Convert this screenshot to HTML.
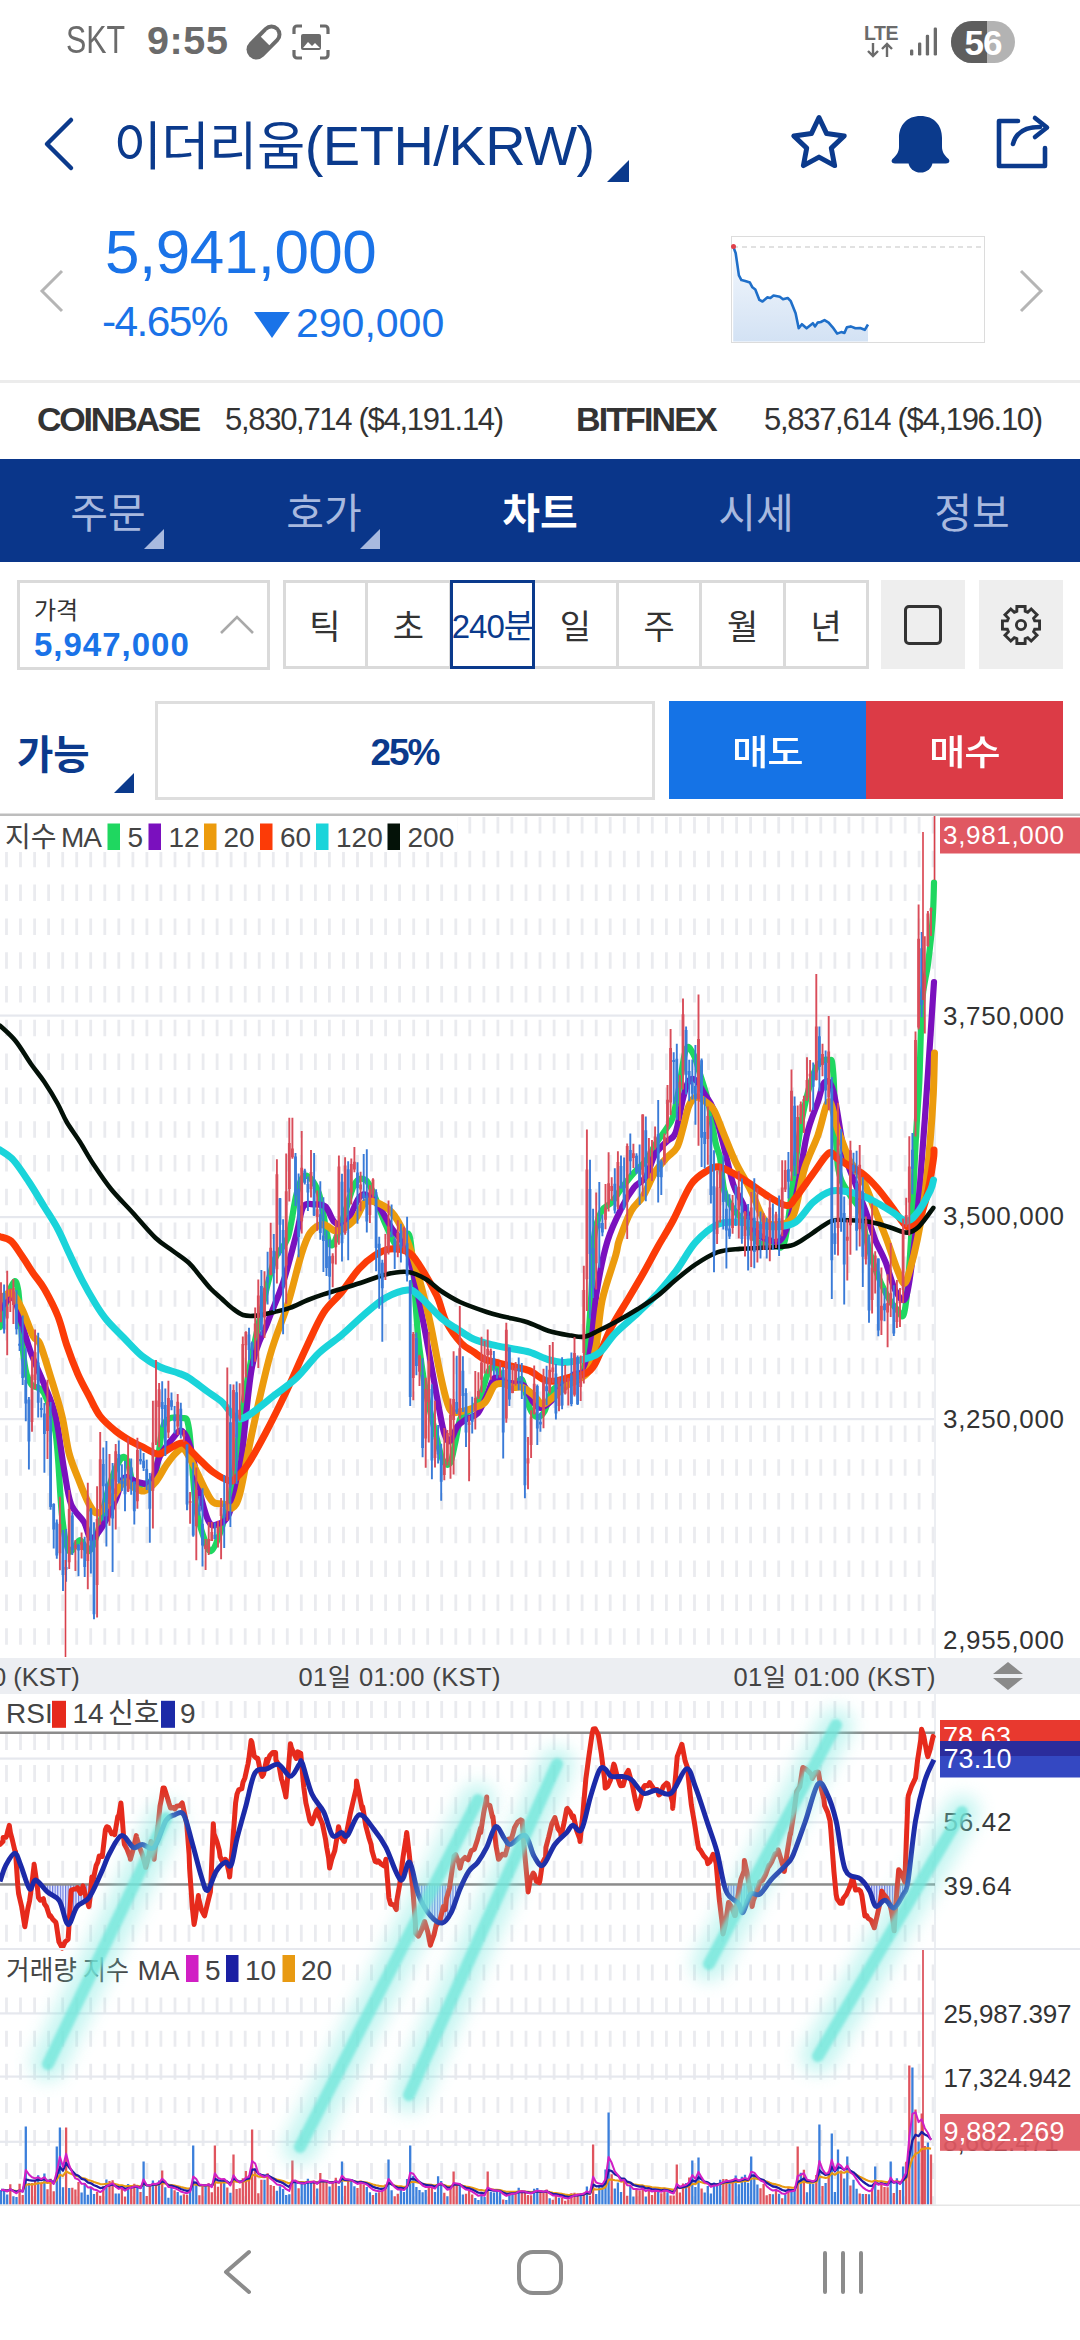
<!DOCTYPE html>
<html><head><meta charset="utf-8">
<style>
*{margin:0;padding:0;box-sizing:border-box}
html,body{width:1080px;height:2340px;overflow:hidden;background:#fff}
body{position:relative;font-family:"Liberation Sans", "Noto Sans CJK KR", sans-serif;}
.a{position:absolute;white-space:nowrap}
</style></head><body>
<!-- status bar -->
<div class="a" style="left:66px;top:17px;font-size:38px;line-height:46px;color:#6b6b6b;transform:scaleX(0.8);transform-origin:0 0">SKT</div><div class="a" style="left:147px;top:17px;font-size:39.5px;line-height:46px;color:#6b6b6b;letter-spacing:0.6px;font-weight:700">9:55</div>
<svg class="a" style="left:243.5px;top:21.5px" width="40" height="40" viewBox="0 0 40 40"><g transform="rotate(-45 20 20)"><rect x="-0.6" y="10" width="41.2" height="20" rx="10" fill="#6b6b6b"/><path d="M21.5 14H30.6A6 6 0 0 1 30.6 26H21.5Z" fill="#fff"/></g></svg>
<svg class="a" style="left:291px;top:23px" width="40" height="38" viewBox="0 0 40 38" fill="none" stroke="#6b6b6b" stroke-width="3.2">
 <path d="M3 11V6a3 3 0 0 1 3-3h5M29 3h5a3 3 0 0 1 3 3v5M37 27v5a3 3 0 0 1-3 3h-5M11 35H6a3 3 0 0 1-3-3v-5"/>
 <rect x="10" y="11" width="20" height="16" rx="2" fill="#6b6b6b" stroke="none"/>
 <path d="M12 25l5-6 4 4 3-3 5 5z" fill="#fff" stroke="none"/>
</svg>
<!-- right status -->
<div class="a" style="left:864px;top:23px;font-size:19.5px;font-weight:700;color:#6b6b6b;line-height:20px;letter-spacing:-0.5px">LTE</div>
<svg class="a" style="left:866px;top:42px" width="32" height="16" viewBox="0 0 32 16" fill="none" stroke="#6b6b6b" stroke-width="2.4"><path d="M7 1v13M2 9l5 5 5-5M21 15V2M16 7l5-5 5 5"/></svg>
<svg class="a" style="left:908px;top:26px" width="32" height="32" viewBox="0 0 32 32" fill="#6b6b6b"><rect x="2" y="23.5" width="3.3" height="6" rx="1.2"/><rect x="10" y="16.5" width="3.3" height="13" rx="1.2"/><rect x="17.8" y="8.7" width="3.3" height="20.8" rx="1.2"/><rect x="25.7" y="1.5" width="3.3" height="28" rx="1.2"/></svg>
<div class="a" style="left:951px;top:21px;width:64px;height:42px;border-radius:21px;overflow:hidden;background:#b3b3b3"><div style="position:absolute;left:0;top:0;width:36px;height:42px;background:#5e5e5e"></div><div style="position:absolute;left:0;top:0;width:64px;text-align:center;font-size:35px;font-weight:700;color:#fff;line-height:43px;letter-spacing:-1px">56</div></div>

<!-- header -->
<svg class="a" style="left:40px;top:114px" width="40" height="60" viewBox="0 0 40 60" fill="none" stroke="#0b3a8c" stroke-width="4.5" stroke-linecap="round" stroke-linejoin="round"><path d="M31 6L7 30l24 24"/></svg>
<div class="a" style="left:113.5px;top:108px;font-size:56px;color:#0b3a8c;letter-spacing:-0.5px;line-height:76px"><span style="font-size:52.5px">이더리움</span>(ETH/KRW)</div>
<svg class="a" style="left:607px;top:160px" width="22" height="22" viewBox="0 0 22 22"><path d="M22 0V22H0z" fill="#0b3a8c"/></svg>
<svg class="a" style="left:789px;top:114px" width="60" height="58" viewBox="0 0 60 58" fill="none" stroke="#0b3a8c" stroke-width="5" stroke-linejoin="round"><path d="M30 3.5l7.6 16.1 17.6 2.3-12.9 12.2 3.3 17.5L30 43.1l-15.6 8.5 3.3-17.5L4.8 21.9l17.6-2.3z"/></svg>
<svg class="a" style="left:890px;top:114px" width="62" height="60" viewBox="0 0 62 60" fill="#0b3a8c"><path d="M30.5 2C17 2 9 11 9 24V33C9 38 6 42 3 44.5C.5 46.5 1.5 49.5 5 49.5H56C59.5 49.5 60.5 46.5 58 44.5C55 42 52 38 52 33V24C52 11 44 2 30.5 2Z"/><path d="M18.5 48A12 10.5 0 0 0 42.5 48Z"/></svg>
<svg class="a" style="left:994px;top:114px" width="60" height="56" viewBox="0 0 60 56" fill="none" stroke="#0b3a8c" stroke-width="4.6" stroke-linecap="round" stroke-linejoin="round"><path d="M24 7H5v45h46V34"/><path d="M19 30c3-12 13-17 27-17"/><path d="M41 4l12 9.5L41 23"/></svg>

<!-- price row -->
<svg class="a" style="left:38px;top:268px" width="28" height="46" viewBox="0 0 28 46" fill="none" stroke="#b5b5b5" stroke-width="3"><path d="M24 3L4 23l20 20"/></svg>
<div class="a" style="left:105px;top:212px;font-size:62px;color:#1a73e8;line-height:80px;letter-spacing:-0.5px">5,941,000</div>
<div class="a" style="left:102px;top:297px;font-size:42.5px;color:#1a73e8;line-height:50px;letter-spacing:-1.6px">-4.65%</div>
<svg class="a" style="left:254px;top:312px" width="36" height="26" viewBox="0 0 36 26"><path d="M0 0h36L18 26z" fill="#1a73e8"/></svg>
<div class="a" style="left:296px;top:298px;font-size:41px;color:#1a73e8;line-height:50px">290,000</div>
<div class="a" style="left:731px;top:236px;width:254px;height:107px;border:1.5px solid #dcdcdc"></div>
<svg class="a" style="left:731px;top:236px" width="254" height="107" viewBox="731 236 254 107">
<defs><linearGradient id="mg" x1="0" y1="0" x2="0" y2="1"><stop offset="0" stop-color="#f4f8fd"/><stop offset="1" stop-color="#d3e2f4"/></linearGradient></defs><path d="M733.2 246.4L735.7 253.3L738.9 275.4L741.4 280.1L745.2 281.0L749.9 282.6L752.4 287.3L755.3 289.5L759.4 299.9L762.5 301.5L767.2 297.4L770.4 298.0L773.5 295.5L779.8 296.8L783.0 299.3L787.7 298.0L790.8 301.2L795.6 313.2L798.7 328.3L801.9 324.2L806.6 328.3L812.9 323.2L815.1 326.4L817.6 322.6L820.8 322.0L824.5 320.1L828.6 322.6L832.7 327.3L837.1 333.6L841.2 332.1L844.4 333.0L846.9 327.3L850.7 326.4L855.4 328.3L860.1 328.0L864.8 329.8L868.0 324.5L868.0 341.5L733.2 341.5Z" fill="url(#mg)"/><path d="M733 247H983" stroke="#d8d8d8" stroke-width="1.5" stroke-dasharray="5 4"/><path d="M733.2 246.4L735.7 253.3L738.9 275.4L741.4 280.1L745.2 281.0L749.9 282.6L752.4 287.3L755.3 289.5L759.4 299.9L762.5 301.5L767.2 297.4L770.4 298.0L773.5 295.5L779.8 296.8L783.0 299.3L787.7 298.0L790.8 301.2L795.6 313.2L798.7 328.3L801.9 324.2L806.6 328.3L812.9 323.2L815.1 326.4L817.6 322.6L820.8 322.0L824.5 320.1L828.6 322.6L832.7 327.3L837.1 333.6L841.2 332.1L844.4 333.0L846.9 327.3L850.7 326.4L855.4 328.3L860.1 328.0L864.8 329.8L868.0 324.5" stroke="#1f6fc9" stroke-width="2.6" fill="none" stroke-linejoin="round"/><circle cx="733.5" cy="246.5" r="2.5" fill="#e0404a"/>
</svg>
<svg class="a" style="left:1016px;top:268px" width="30" height="46" viewBox="0 0 30 46" fill="none" stroke="#b5b5b5" stroke-width="3"><path d="M5 3l20 20L5 43"/></svg>
<div class="a" style="left:0;top:380px;width:1080px;height:3px;background:#ececec"></div>

<!-- exchange row -->
<div class="a" style="left:37px;top:397px;font-size:34px;font-weight:700;color:#333;line-height:44px;letter-spacing:-2.2px">COINBASE</div>
<div class="a" style="left:225px;top:398px;font-size:31px;color:#333;line-height:44px;letter-spacing:-1.3px">5,830,714 ($4,191.14)</div>
<div class="a" style="left:576px;top:397px;font-size:34px;font-weight:700;color:#333;line-height:44px;letter-spacing:-1.9px">BITFINEX</div>
<div class="a" style="left:764px;top:398px;font-size:31px;color:#333;line-height:44px;letter-spacing:-1.3px">5,837,614 ($4,196.10)</div>

<!-- tabs -->
<div class="a" style="left:0;top:459px;width:1080px;height:103px;background:#0a368a"></div>
<div class="a" style="left:0px;top:486px;width:216px;text-align:center;font-size:41px;color:#a8b9df;line-height:56px">주문</div>
<div class="a" style="left:216px;top:486px;width:216px;text-align:center;font-size:41px;color:#a8b9df;line-height:56px">호가</div>
<div class="a" style="left:432px;top:486px;width:216px;text-align:center;font-size:41px;font-weight:700;color:#fff;line-height:56px">차트</div>
<div class="a" style="left:648px;top:486px;width:216px;text-align:center;font-size:41px;color:#a8b9df;line-height:56px">시세</div>
<div class="a" style="left:864px;top:486px;width:216px;text-align:center;font-size:41px;color:#a8b9df;line-height:56px">정보</div>
<svg class="a" style="left:144px;top:529px" width="20" height="20" viewBox="0 0 20 20"><path d="M20 0V20H0z" fill="#a8b9df"/></svg>
<svg class="a" style="left:360px;top:529px" width="20" height="20" viewBox="0 0 20 20"><path d="M20 0V20H0z" fill="#a8b9df"/></svg>


<!-- controls row -->
<div class="a" style="left:17px;top:580px;width:253px;height:90px;border:3px solid #dadada"></div>
<div class="a" style="left:34px;top:596px;font-size:24px;color:#333;line-height:30px">가격</div>
<div class="a" style="left:34px;top:624px;font-size:33px;font-weight:700;color:#1a73e8;line-height:42px;letter-spacing:1px">5,947,000</div>
<svg class="a" style="left:219px;top:612px" width="36" height="24" viewBox="0 0 36 24" fill="none" stroke="#a9a9a9" stroke-width="2.6"><path d="M2 21L18 5l16 16"/></svg>
<div class="a" style="left:283px;top:580px;width:586px;height:89px;border:3px solid #dadada"></div>
<div class="a" style="left:365.1px;top:580px;width:3px;height:89px;background:#dadada"></div>
<div class="a" style="left:448.6px;top:580px;width:3px;height:89px;background:#dadada"></div>
<div class="a" style="left:532.2px;top:580px;width:3px;height:89px;background:#dadada"></div>
<div class="a" style="left:615.8px;top:580px;width:3px;height:89px;background:#dadada"></div>
<div class="a" style="left:699.4px;top:580px;width:3px;height:89px;background:#dadada"></div>
<div class="a" style="left:782.9px;top:580px;width:3px;height:89px;background:#dadada"></div>
<div class="a" style="left:283.0px;top:601px;width:83.6px;text-align:center;font-size:34px;color:#333;line-height:52px">틱</div>
<div class="a" style="left:366.6px;top:601px;width:83.6px;text-align:center;font-size:34px;color:#333;line-height:52px">초</div>
<div class="a" style="left:450.1px;top:580px;width:84.6px;height:89px;border:3px solid #0b3a8c"></div>
<div class="a" style="left:450.1px;top:601px;width:84.6px;text-align:center;font-size:33px;color:#0b3a8c;line-height:52px;letter-spacing:-1px">240분</div>
<div class="a" style="left:533.7px;top:601px;width:83.6px;text-align:center;font-size:34px;color:#333;line-height:52px">일</div>
<div class="a" style="left:617.3px;top:601px;width:83.6px;text-align:center;font-size:34px;color:#333;line-height:52px">주</div>
<div class="a" style="left:700.9px;top:601px;width:83.6px;text-align:center;font-size:34px;color:#333;line-height:52px">월</div>
<div class="a" style="left:784.4px;top:601px;width:83.6px;text-align:center;font-size:34px;color:#333;line-height:52px">년</div>

<div class="a" style="left:881px;top:580px;width:84px;height:89px;background:#eeeeee"></div>
<div class="a" style="left:904px;top:605px;width:38px;height:39.5px;border:3.3px solid #333;border-radius:5px"></div>
<div class="a" style="left:979px;top:580px;width:84px;height:89px;background:#eeeeee"></div>
<svg class="a" style="left:999px;top:603px" width="44" height="44" viewBox="0 0 44 44" fill="none" stroke="#333" stroke-width="2.9" stroke-linejoin="miter"><path d="M17.82 8.32L17.89 3.45L26.11 3.45L26.18 8.32L28.71 9.37L32.21 5.98L38.02 11.79L34.63 15.29L35.68 17.82L40.55 17.89L40.55 26.11L35.68 26.18L34.63 28.71L38.02 32.21L32.21 38.02L28.71 34.63L26.18 35.68L26.11 40.55L17.89 40.55L17.82 35.68L15.29 34.63L11.79 38.02L5.98 32.21L9.37 28.71L8.32 26.18L3.45 26.11L3.45 17.89L8.32 17.82L9.37 15.29L5.98 11.79L11.79 5.98L15.29 9.37Z"/><circle cx="22" cy="22" r="4.6"/></svg>

<!-- buy/sell row -->
<div class="a" style="left:17px;top:727px;font-size:39.5px;font-weight:700;color:#0b3a8c;line-height:56px">가능</div>
<svg class="a" style="left:114px;top:773px" width="20" height="20" viewBox="0 0 20 20"><path d="M20 0V20H0z" fill="#0b3a8c"/></svg>
<div class="a" style="left:155px;top:701px;width:500px;height:99px;border:3px solid #dedede"></div>
<div class="a" style="left:155px;top:725px;width:500px;text-align:center;font-size:37px;font-weight:700;color:#0b3a8c;line-height:56px;letter-spacing:-2px;text-indent:-1px">25%</div>
<div class="a" style="left:669px;top:701px;width:197px;height:98px;background:#1573e6;color:#fff;font-size:35px;font-weight:500;text-align:center;line-height:104px"><span style="display:inline-block;transform:scaleX(1.13);letter-spacing:-1px">매도</span></div>
<div class="a" style="left:866px;top:701px;width:197px;height:98px;background:#dc3b46;color:#fff;font-size:35px;font-weight:500;text-align:center;line-height:104px"><span style="display:inline-block;transform:scaleX(1.13);letter-spacing:-1px">매수</span></div>

<!-- chart -->
<svg class="a" style="left:0;top:0" width="1080" height="2340" viewBox="0 0 1080 2340" font-family='"Liberation Sans", "Noto Sans CJK KR", sans-serif'><rect x="0" y="813.5" width="1080" height="2.5" fill="#bdbdbd"/><path d="M6.5 817.0V833.5M6.5 850.8V867.3M6.5 884.6V901.1M6.5 918.4V934.9M6.5 952.2V968.7M6.5 986.0V1002.5M6.5 1019.8V1036.3M6.5 1053.6V1070.1M6.5 1087.4V1103.9M6.5 1121.2V1137.7M6.5 1155.0V1171.5M6.5 1188.8V1205.3M6.5 1222.6V1239.1M6.5 1256.4V1272.9M6.5 1290.2V1306.7M6.5 1324.0V1340.5M6.5 1357.8V1374.3M6.5 1391.6V1408.1M6.5 1425.4V1441.9M6.5 1459.2V1475.7M6.5 1493.0V1509.5M6.5 1526.8V1543.3M6.5 1560.6V1577.1M6.5 1594.4V1610.9M6.5 1628.2V1644.7M20.5 817.0V833.5M20.5 850.8V867.3M20.5 884.6V901.1M20.5 918.4V934.9M20.5 952.2V968.7M20.5 986.0V1002.5M20.5 1019.8V1036.3M20.5 1053.6V1070.1M20.5 1087.4V1103.9M20.5 1121.2V1137.7M20.5 1155.0V1171.5M20.5 1188.8V1205.3M20.5 1222.6V1239.1M20.5 1256.4V1272.9M20.5 1290.2V1306.7M20.5 1324.0V1340.5M20.5 1357.8V1374.3M20.5 1391.6V1408.1M20.5 1425.4V1441.9M20.5 1459.2V1475.7M20.5 1493.0V1509.5M20.5 1526.8V1543.3M20.5 1560.6V1577.1M20.5 1594.4V1610.9M20.5 1628.2V1644.7M34.6 817.0V833.5M34.6 850.8V867.3M34.6 884.6V901.1M34.6 918.4V934.9M34.6 952.2V968.7M34.6 986.0V1002.5M34.6 1019.8V1036.3M34.6 1053.6V1070.1M34.6 1087.4V1103.9M34.6 1121.2V1137.7M34.6 1155.0V1171.5M34.6 1188.8V1205.3M34.6 1222.6V1239.1M34.6 1256.4V1272.9M34.6 1290.2V1306.7M34.6 1324.0V1340.5M34.6 1357.8V1374.3M34.6 1391.6V1408.1M34.6 1425.4V1441.9M34.6 1459.2V1475.7M34.6 1493.0V1509.5M34.6 1526.8V1543.3M34.6 1560.6V1577.1M34.6 1594.4V1610.9M34.6 1628.2V1644.7M48.6 817.0V833.5M48.6 850.8V867.3M48.6 884.6V901.1M48.6 918.4V934.9M48.6 952.2V968.7M48.6 986.0V1002.5M48.6 1019.8V1036.3M48.6 1053.6V1070.1M48.6 1087.4V1103.9M48.6 1121.2V1137.7M48.6 1155.0V1171.5M48.6 1188.8V1205.3M48.6 1222.6V1239.1M48.6 1256.4V1272.9M48.6 1290.2V1306.7M48.6 1324.0V1340.5M48.6 1357.8V1374.3M48.6 1391.6V1408.1M48.6 1425.4V1441.9M48.6 1459.2V1475.7M48.6 1493.0V1509.5M48.6 1526.8V1543.3M48.6 1560.6V1577.1M48.6 1594.4V1610.9M48.6 1628.2V1644.7M62.7 817.0V833.5M62.7 850.8V867.3M62.7 884.6V901.1M62.7 918.4V934.9M62.7 952.2V968.7M62.7 986.0V1002.5M62.7 1019.8V1036.3M62.7 1053.6V1070.1M62.7 1087.4V1103.9M62.7 1121.2V1137.7M62.7 1155.0V1171.5M62.7 1188.8V1205.3M62.7 1222.6V1239.1M62.7 1256.4V1272.9M62.7 1290.2V1306.7M62.7 1324.0V1340.5M62.7 1357.8V1374.3M62.7 1391.6V1408.1M62.7 1425.4V1441.9M62.7 1459.2V1475.7M62.7 1493.0V1509.5M62.7 1526.8V1543.3M62.7 1560.6V1577.1M62.7 1594.4V1610.9M62.7 1628.2V1644.7M76.7 817.0V833.5M76.7 850.8V867.3M76.7 884.6V901.1M76.7 918.4V934.9M76.7 952.2V968.7M76.7 986.0V1002.5M76.7 1019.8V1036.3M76.7 1053.6V1070.1M76.7 1087.4V1103.9M76.7 1121.2V1137.7M76.7 1155.0V1171.5M76.7 1188.8V1205.3M76.7 1222.6V1239.1M76.7 1256.4V1272.9M76.7 1290.2V1306.7M76.7 1324.0V1340.5M76.7 1357.8V1374.3M76.7 1391.6V1408.1M76.7 1425.4V1441.9M76.7 1459.2V1475.7M76.7 1493.0V1509.5M76.7 1526.8V1543.3M76.7 1560.6V1577.1M76.7 1594.4V1610.9M76.7 1628.2V1644.7M90.7 817.0V833.5M90.7 850.8V867.3M90.7 884.6V901.1M90.7 918.4V934.9M90.7 952.2V968.7M90.7 986.0V1002.5M90.7 1019.8V1036.3M90.7 1053.6V1070.1M90.7 1087.4V1103.9M90.7 1121.2V1137.7M90.7 1155.0V1171.5M90.7 1188.8V1205.3M90.7 1222.6V1239.1M90.7 1256.4V1272.9M90.7 1290.2V1306.7M90.7 1324.0V1340.5M90.7 1357.8V1374.3M90.7 1391.6V1408.1M90.7 1425.4V1441.9M90.7 1459.2V1475.7M90.7 1493.0V1509.5M90.7 1526.8V1543.3M90.7 1560.6V1577.1M90.7 1594.4V1610.9M90.7 1628.2V1644.7M104.8 817.0V833.5M104.8 850.8V867.3M104.8 884.6V901.1M104.8 918.4V934.9M104.8 952.2V968.7M104.8 986.0V1002.5M104.8 1019.8V1036.3M104.8 1053.6V1070.1M104.8 1087.4V1103.9M104.8 1121.2V1137.7M104.8 1155.0V1171.5M104.8 1188.8V1205.3M104.8 1222.6V1239.1M104.8 1256.4V1272.9M104.8 1290.2V1306.7M104.8 1324.0V1340.5M104.8 1357.8V1374.3M104.8 1391.6V1408.1M104.8 1425.4V1441.9M104.8 1459.2V1475.7M104.8 1493.0V1509.5M104.8 1526.8V1543.3M104.8 1560.6V1577.1M104.8 1594.4V1610.9M104.8 1628.2V1644.7M118.8 817.0V833.5M118.8 850.8V867.3M118.8 884.6V901.1M118.8 918.4V934.9M118.8 952.2V968.7M118.8 986.0V1002.5M118.8 1019.8V1036.3M118.8 1053.6V1070.1M118.8 1087.4V1103.9M118.8 1121.2V1137.7M118.8 1155.0V1171.5M118.8 1188.8V1205.3M118.8 1222.6V1239.1M118.8 1256.4V1272.9M118.8 1290.2V1306.7M118.8 1324.0V1340.5M118.8 1357.8V1374.3M118.8 1391.6V1408.1M118.8 1425.4V1441.9M118.8 1459.2V1475.7M118.8 1493.0V1509.5M118.8 1526.8V1543.3M118.8 1560.6V1577.1M118.8 1594.4V1610.9M118.8 1628.2V1644.7M132.9 817.0V833.5M132.9 850.8V867.3M132.9 884.6V901.1M132.9 918.4V934.9M132.9 952.2V968.7M132.9 986.0V1002.5M132.9 1019.8V1036.3M132.9 1053.6V1070.1M132.9 1087.4V1103.9M132.9 1121.2V1137.7M132.9 1155.0V1171.5M132.9 1188.8V1205.3M132.9 1222.6V1239.1M132.9 1256.4V1272.9M132.9 1290.2V1306.7M132.9 1324.0V1340.5M132.9 1357.8V1374.3M132.9 1391.6V1408.1M132.9 1425.4V1441.9M132.9 1459.2V1475.7M132.9 1493.0V1509.5M132.9 1526.8V1543.3M132.9 1560.6V1577.1M132.9 1594.4V1610.9M132.9 1628.2V1644.7M146.9 817.0V833.5M146.9 850.8V867.3M146.9 884.6V901.1M146.9 918.4V934.9M146.9 952.2V968.7M146.9 986.0V1002.5M146.9 1019.8V1036.3M146.9 1053.6V1070.1M146.9 1087.4V1103.9M146.9 1121.2V1137.7M146.9 1155.0V1171.5M146.9 1188.8V1205.3M146.9 1222.6V1239.1M146.9 1256.4V1272.9M146.9 1290.2V1306.7M146.9 1324.0V1340.5M146.9 1357.8V1374.3M146.9 1391.6V1408.1M146.9 1425.4V1441.9M146.9 1459.2V1475.7M146.9 1493.0V1509.5M146.9 1526.8V1543.3M146.9 1560.6V1577.1M146.9 1594.4V1610.9M146.9 1628.2V1644.7M160.9 817.0V833.5M160.9 850.8V867.3M160.9 884.6V901.1M160.9 918.4V934.9M160.9 952.2V968.7M160.9 986.0V1002.5M160.9 1019.8V1036.3M160.9 1053.6V1070.1M160.9 1087.4V1103.9M160.9 1121.2V1137.7M160.9 1155.0V1171.5M160.9 1188.8V1205.3M160.9 1222.6V1239.1M160.9 1256.4V1272.9M160.9 1290.2V1306.7M160.9 1324.0V1340.5M160.9 1357.8V1374.3M160.9 1391.6V1408.1M160.9 1425.4V1441.9M160.9 1459.2V1475.7M160.9 1493.0V1509.5M160.9 1526.8V1543.3M160.9 1560.6V1577.1M160.9 1594.4V1610.9M160.9 1628.2V1644.7M175.0 817.0V833.5M175.0 850.8V867.3M175.0 884.6V901.1M175.0 918.4V934.9M175.0 952.2V968.7M175.0 986.0V1002.5M175.0 1019.8V1036.3M175.0 1053.6V1070.1M175.0 1087.4V1103.9M175.0 1121.2V1137.7M175.0 1155.0V1171.5M175.0 1188.8V1205.3M175.0 1222.6V1239.1M175.0 1256.4V1272.9M175.0 1290.2V1306.7M175.0 1324.0V1340.5M175.0 1357.8V1374.3M175.0 1391.6V1408.1M175.0 1425.4V1441.9M175.0 1459.2V1475.7M175.0 1493.0V1509.5M175.0 1526.8V1543.3M175.0 1560.6V1577.1M175.0 1594.4V1610.9M175.0 1628.2V1644.7M189.0 817.0V833.5M189.0 850.8V867.3M189.0 884.6V901.1M189.0 918.4V934.9M189.0 952.2V968.7M189.0 986.0V1002.5M189.0 1019.8V1036.3M189.0 1053.6V1070.1M189.0 1087.4V1103.9M189.0 1121.2V1137.7M189.0 1155.0V1171.5M189.0 1188.8V1205.3M189.0 1222.6V1239.1M189.0 1256.4V1272.9M189.0 1290.2V1306.7M189.0 1324.0V1340.5M189.0 1357.8V1374.3M189.0 1391.6V1408.1M189.0 1425.4V1441.9M189.0 1459.2V1475.7M189.0 1493.0V1509.5M189.0 1526.8V1543.3M189.0 1560.6V1577.1M189.0 1594.4V1610.9M189.0 1628.2V1644.7M203.1 817.0V833.5M203.1 850.8V867.3M203.1 884.6V901.1M203.1 918.4V934.9M203.1 952.2V968.7M203.1 986.0V1002.5M203.1 1019.8V1036.3M203.1 1053.6V1070.1M203.1 1087.4V1103.9M203.1 1121.2V1137.7M203.1 1155.0V1171.5M203.1 1188.8V1205.3M203.1 1222.6V1239.1M203.1 1256.4V1272.9M203.1 1290.2V1306.7M203.1 1324.0V1340.5M203.1 1357.8V1374.3M203.1 1391.6V1408.1M203.1 1425.4V1441.9M203.1 1459.2V1475.7M203.1 1493.0V1509.5M203.1 1526.8V1543.3M203.1 1560.6V1577.1M203.1 1594.4V1610.9M203.1 1628.2V1644.7M217.1 817.0V833.5M217.1 850.8V867.3M217.1 884.6V901.1M217.1 918.4V934.9M217.1 952.2V968.7M217.1 986.0V1002.5M217.1 1019.8V1036.3M217.1 1053.6V1070.1M217.1 1087.4V1103.9M217.1 1121.2V1137.7M217.1 1155.0V1171.5M217.1 1188.8V1205.3M217.1 1222.6V1239.1M217.1 1256.4V1272.9M217.1 1290.2V1306.7M217.1 1324.0V1340.5M217.1 1357.8V1374.3M217.1 1391.6V1408.1M217.1 1425.4V1441.9M217.1 1459.2V1475.7M217.1 1493.0V1509.5M217.1 1526.8V1543.3M217.1 1560.6V1577.1M217.1 1594.4V1610.9M217.1 1628.2V1644.7M231.1 817.0V833.5M231.1 850.8V867.3M231.1 884.6V901.1M231.1 918.4V934.9M231.1 952.2V968.7M231.1 986.0V1002.5M231.1 1019.8V1036.3M231.1 1053.6V1070.1M231.1 1087.4V1103.9M231.1 1121.2V1137.7M231.1 1155.0V1171.5M231.1 1188.8V1205.3M231.1 1222.6V1239.1M231.1 1256.4V1272.9M231.1 1290.2V1306.7M231.1 1324.0V1340.5M231.1 1357.8V1374.3M231.1 1391.6V1408.1M231.1 1425.4V1441.9M231.1 1459.2V1475.7M231.1 1493.0V1509.5M231.1 1526.8V1543.3M231.1 1560.6V1577.1M231.1 1594.4V1610.9M231.1 1628.2V1644.7M245.2 817.0V833.5M245.2 850.8V867.3M245.2 884.6V901.1M245.2 918.4V934.9M245.2 952.2V968.7M245.2 986.0V1002.5M245.2 1019.8V1036.3M245.2 1053.6V1070.1M245.2 1087.4V1103.9M245.2 1121.2V1137.7M245.2 1155.0V1171.5M245.2 1188.8V1205.3M245.2 1222.6V1239.1M245.2 1256.4V1272.9M245.2 1290.2V1306.7M245.2 1324.0V1340.5M245.2 1357.8V1374.3M245.2 1391.6V1408.1M245.2 1425.4V1441.9M245.2 1459.2V1475.7M245.2 1493.0V1509.5M245.2 1526.8V1543.3M245.2 1560.6V1577.1M245.2 1594.4V1610.9M245.2 1628.2V1644.7M259.2 817.0V833.5M259.2 850.8V867.3M259.2 884.6V901.1M259.2 918.4V934.9M259.2 952.2V968.7M259.2 986.0V1002.5M259.2 1019.8V1036.3M259.2 1053.6V1070.1M259.2 1087.4V1103.9M259.2 1121.2V1137.7M259.2 1155.0V1171.5M259.2 1188.8V1205.3M259.2 1222.6V1239.1M259.2 1256.4V1272.9M259.2 1290.2V1306.7M259.2 1324.0V1340.5M259.2 1357.8V1374.3M259.2 1391.6V1408.1M259.2 1425.4V1441.9M259.2 1459.2V1475.7M259.2 1493.0V1509.5M259.2 1526.8V1543.3M259.2 1560.6V1577.1M259.2 1594.4V1610.9M259.2 1628.2V1644.7M273.3 817.0V833.5M273.3 850.8V867.3M273.3 884.6V901.1M273.3 918.4V934.9M273.3 952.2V968.7M273.3 986.0V1002.5M273.3 1019.8V1036.3M273.3 1053.6V1070.1M273.3 1087.4V1103.9M273.3 1121.2V1137.7M273.3 1155.0V1171.5M273.3 1188.8V1205.3M273.3 1222.6V1239.1M273.3 1256.4V1272.9M273.3 1290.2V1306.7M273.3 1324.0V1340.5M273.3 1357.8V1374.3M273.3 1391.6V1408.1M273.3 1425.4V1441.9M273.3 1459.2V1475.7M273.3 1493.0V1509.5M273.3 1526.8V1543.3M273.3 1560.6V1577.1M273.3 1594.4V1610.9M273.3 1628.2V1644.7M287.3 817.0V833.5M287.3 850.8V867.3M287.3 884.6V901.1M287.3 918.4V934.9M287.3 952.2V968.7M287.3 986.0V1002.5M287.3 1019.8V1036.3M287.3 1053.6V1070.1M287.3 1087.4V1103.9M287.3 1121.2V1137.7M287.3 1155.0V1171.5M287.3 1188.8V1205.3M287.3 1222.6V1239.1M287.3 1256.4V1272.9M287.3 1290.2V1306.7M287.3 1324.0V1340.5M287.3 1357.8V1374.3M287.3 1391.6V1408.1M287.3 1425.4V1441.9M287.3 1459.2V1475.7M287.3 1493.0V1509.5M287.3 1526.8V1543.3M287.3 1560.6V1577.1M287.3 1594.4V1610.9M287.3 1628.2V1644.7M301.3 817.0V833.5M301.3 850.8V867.3M301.3 884.6V901.1M301.3 918.4V934.9M301.3 952.2V968.7M301.3 986.0V1002.5M301.3 1019.8V1036.3M301.3 1053.6V1070.1M301.3 1087.4V1103.9M301.3 1121.2V1137.7M301.3 1155.0V1171.5M301.3 1188.8V1205.3M301.3 1222.6V1239.1M301.3 1256.4V1272.9M301.3 1290.2V1306.7M301.3 1324.0V1340.5M301.3 1357.8V1374.3M301.3 1391.6V1408.1M301.3 1425.4V1441.9M301.3 1459.2V1475.7M301.3 1493.0V1509.5M301.3 1526.8V1543.3M301.3 1560.6V1577.1M301.3 1594.4V1610.9M301.3 1628.2V1644.7M315.4 817.0V833.5M315.4 850.8V867.3M315.4 884.6V901.1M315.4 918.4V934.9M315.4 952.2V968.7M315.4 986.0V1002.5M315.4 1019.8V1036.3M315.4 1053.6V1070.1M315.4 1087.4V1103.9M315.4 1121.2V1137.7M315.4 1155.0V1171.5M315.4 1188.8V1205.3M315.4 1222.6V1239.1M315.4 1256.4V1272.9M315.4 1290.2V1306.7M315.4 1324.0V1340.5M315.4 1357.8V1374.3M315.4 1391.6V1408.1M315.4 1425.4V1441.9M315.4 1459.2V1475.7M315.4 1493.0V1509.5M315.4 1526.8V1543.3M315.4 1560.6V1577.1M315.4 1594.4V1610.9M315.4 1628.2V1644.7M329.4 817.0V833.5M329.4 850.8V867.3M329.4 884.6V901.1M329.4 918.4V934.9M329.4 952.2V968.7M329.4 986.0V1002.5M329.4 1019.8V1036.3M329.4 1053.6V1070.1M329.4 1087.4V1103.9M329.4 1121.2V1137.7M329.4 1155.0V1171.5M329.4 1188.8V1205.3M329.4 1222.6V1239.1M329.4 1256.4V1272.9M329.4 1290.2V1306.7M329.4 1324.0V1340.5M329.4 1357.8V1374.3M329.4 1391.6V1408.1M329.4 1425.4V1441.9M329.4 1459.2V1475.7M329.4 1493.0V1509.5M329.4 1526.8V1543.3M329.4 1560.6V1577.1M329.4 1594.4V1610.9M329.4 1628.2V1644.7M343.5 817.0V833.5M343.5 850.8V867.3M343.5 884.6V901.1M343.5 918.4V934.9M343.5 952.2V968.7M343.5 986.0V1002.5M343.5 1019.8V1036.3M343.5 1053.6V1070.1M343.5 1087.4V1103.9M343.5 1121.2V1137.7M343.5 1155.0V1171.5M343.5 1188.8V1205.3M343.5 1222.6V1239.1M343.5 1256.4V1272.9M343.5 1290.2V1306.7M343.5 1324.0V1340.5M343.5 1357.8V1374.3M343.5 1391.6V1408.1M343.5 1425.4V1441.9M343.5 1459.2V1475.7M343.5 1493.0V1509.5M343.5 1526.8V1543.3M343.5 1560.6V1577.1M343.5 1594.4V1610.9M343.5 1628.2V1644.7M357.5 817.0V833.5M357.5 850.8V867.3M357.5 884.6V901.1M357.5 918.4V934.9M357.5 952.2V968.7M357.5 986.0V1002.5M357.5 1019.8V1036.3M357.5 1053.6V1070.1M357.5 1087.4V1103.9M357.5 1121.2V1137.7M357.5 1155.0V1171.5M357.5 1188.8V1205.3M357.5 1222.6V1239.1M357.5 1256.4V1272.9M357.5 1290.2V1306.7M357.5 1324.0V1340.5M357.5 1357.8V1374.3M357.5 1391.6V1408.1M357.5 1425.4V1441.9M357.5 1459.2V1475.7M357.5 1493.0V1509.5M357.5 1526.8V1543.3M357.5 1560.6V1577.1M357.5 1594.4V1610.9M357.5 1628.2V1644.7M371.5 817.0V833.5M371.5 850.8V867.3M371.5 884.6V901.1M371.5 918.4V934.9M371.5 952.2V968.7M371.5 986.0V1002.5M371.5 1019.8V1036.3M371.5 1053.6V1070.1M371.5 1087.4V1103.9M371.5 1121.2V1137.7M371.5 1155.0V1171.5M371.5 1188.8V1205.3M371.5 1222.6V1239.1M371.5 1256.4V1272.9M371.5 1290.2V1306.7M371.5 1324.0V1340.5M371.5 1357.8V1374.3M371.5 1391.6V1408.1M371.5 1425.4V1441.9M371.5 1459.2V1475.7M371.5 1493.0V1509.5M371.5 1526.8V1543.3M371.5 1560.6V1577.1M371.5 1594.4V1610.9M371.5 1628.2V1644.7M385.6 817.0V833.5M385.6 850.8V867.3M385.6 884.6V901.1M385.6 918.4V934.9M385.6 952.2V968.7M385.6 986.0V1002.5M385.6 1019.8V1036.3M385.6 1053.6V1070.1M385.6 1087.4V1103.9M385.6 1121.2V1137.7M385.6 1155.0V1171.5M385.6 1188.8V1205.3M385.6 1222.6V1239.1M385.6 1256.4V1272.9M385.6 1290.2V1306.7M385.6 1324.0V1340.5M385.6 1357.8V1374.3M385.6 1391.6V1408.1M385.6 1425.4V1441.9M385.6 1459.2V1475.7M385.6 1493.0V1509.5M385.6 1526.8V1543.3M385.6 1560.6V1577.1M385.6 1594.4V1610.9M385.6 1628.2V1644.7M399.6 817.0V833.5M399.6 850.8V867.3M399.6 884.6V901.1M399.6 918.4V934.9M399.6 952.2V968.7M399.6 986.0V1002.5M399.6 1019.8V1036.3M399.6 1053.6V1070.1M399.6 1087.4V1103.9M399.6 1121.2V1137.7M399.6 1155.0V1171.5M399.6 1188.8V1205.3M399.6 1222.6V1239.1M399.6 1256.4V1272.9M399.6 1290.2V1306.7M399.6 1324.0V1340.5M399.6 1357.8V1374.3M399.6 1391.6V1408.1M399.6 1425.4V1441.9M399.6 1459.2V1475.7M399.6 1493.0V1509.5M399.6 1526.8V1543.3M399.6 1560.6V1577.1M399.6 1594.4V1610.9M399.6 1628.2V1644.7M413.7 817.0V833.5M413.7 850.8V867.3M413.7 884.6V901.1M413.7 918.4V934.9M413.7 952.2V968.7M413.7 986.0V1002.5M413.7 1019.8V1036.3M413.7 1053.6V1070.1M413.7 1087.4V1103.9M413.7 1121.2V1137.7M413.7 1155.0V1171.5M413.7 1188.8V1205.3M413.7 1222.6V1239.1M413.7 1256.4V1272.9M413.7 1290.2V1306.7M413.7 1324.0V1340.5M413.7 1357.8V1374.3M413.7 1391.6V1408.1M413.7 1425.4V1441.9M413.7 1459.2V1475.7M413.7 1493.0V1509.5M413.7 1526.8V1543.3M413.7 1560.6V1577.1M413.7 1594.4V1610.9M413.7 1628.2V1644.7M427.7 817.0V833.5M427.7 850.8V867.3M427.7 884.6V901.1M427.7 918.4V934.9M427.7 952.2V968.7M427.7 986.0V1002.5M427.7 1019.8V1036.3M427.7 1053.6V1070.1M427.7 1087.4V1103.9M427.7 1121.2V1137.7M427.7 1155.0V1171.5M427.7 1188.8V1205.3M427.7 1222.6V1239.1M427.7 1256.4V1272.9M427.7 1290.2V1306.7M427.7 1324.0V1340.5M427.7 1357.8V1374.3M427.7 1391.6V1408.1M427.7 1425.4V1441.9M427.7 1459.2V1475.7M427.7 1493.0V1509.5M427.7 1526.8V1543.3M427.7 1560.6V1577.1M427.7 1594.4V1610.9M427.7 1628.2V1644.7M441.7 817.0V833.5M441.7 850.8V867.3M441.7 884.6V901.1M441.7 918.4V934.9M441.7 952.2V968.7M441.7 986.0V1002.5M441.7 1019.8V1036.3M441.7 1053.6V1070.1M441.7 1087.4V1103.9M441.7 1121.2V1137.7M441.7 1155.0V1171.5M441.7 1188.8V1205.3M441.7 1222.6V1239.1M441.7 1256.4V1272.9M441.7 1290.2V1306.7M441.7 1324.0V1340.5M441.7 1357.8V1374.3M441.7 1391.6V1408.1M441.7 1425.4V1441.9M441.7 1459.2V1475.7M441.7 1493.0V1509.5M441.7 1526.8V1543.3M441.7 1560.6V1577.1M441.7 1594.4V1610.9M441.7 1628.2V1644.7M455.8 817.0V833.5M455.8 850.8V867.3M455.8 884.6V901.1M455.8 918.4V934.9M455.8 952.2V968.7M455.8 986.0V1002.5M455.8 1019.8V1036.3M455.8 1053.6V1070.1M455.8 1087.4V1103.9M455.8 1121.2V1137.7M455.8 1155.0V1171.5M455.8 1188.8V1205.3M455.8 1222.6V1239.1M455.8 1256.4V1272.9M455.8 1290.2V1306.7M455.8 1324.0V1340.5M455.8 1357.8V1374.3M455.8 1391.6V1408.1M455.8 1425.4V1441.9M455.8 1459.2V1475.7M455.8 1493.0V1509.5M455.8 1526.8V1543.3M455.8 1560.6V1577.1M455.8 1594.4V1610.9M455.8 1628.2V1644.7M469.8 817.0V833.5M469.8 850.8V867.3M469.8 884.6V901.1M469.8 918.4V934.9M469.8 952.2V968.7M469.8 986.0V1002.5M469.8 1019.8V1036.3M469.8 1053.6V1070.1M469.8 1087.4V1103.9M469.8 1121.2V1137.7M469.8 1155.0V1171.5M469.8 1188.8V1205.3M469.8 1222.6V1239.1M469.8 1256.4V1272.9M469.8 1290.2V1306.7M469.8 1324.0V1340.5M469.8 1357.8V1374.3M469.8 1391.6V1408.1M469.8 1425.4V1441.9M469.8 1459.2V1475.7M469.8 1493.0V1509.5M469.8 1526.8V1543.3M469.8 1560.6V1577.1M469.8 1594.4V1610.9M469.8 1628.2V1644.7M483.9 817.0V833.5M483.9 850.8V867.3M483.9 884.6V901.1M483.9 918.4V934.9M483.9 952.2V968.7M483.9 986.0V1002.5M483.9 1019.8V1036.3M483.9 1053.6V1070.1M483.9 1087.4V1103.9M483.9 1121.2V1137.7M483.9 1155.0V1171.5M483.9 1188.8V1205.3M483.9 1222.6V1239.1M483.9 1256.4V1272.9M483.9 1290.2V1306.7M483.9 1324.0V1340.5M483.9 1357.8V1374.3M483.9 1391.6V1408.1M483.9 1425.4V1441.9M483.9 1459.2V1475.7M483.9 1493.0V1509.5M483.9 1526.8V1543.3M483.9 1560.6V1577.1M483.9 1594.4V1610.9M483.9 1628.2V1644.7M497.9 817.0V833.5M497.9 850.8V867.3M497.9 884.6V901.1M497.9 918.4V934.9M497.9 952.2V968.7M497.9 986.0V1002.5M497.9 1019.8V1036.3M497.9 1053.6V1070.1M497.9 1087.4V1103.9M497.9 1121.2V1137.7M497.9 1155.0V1171.5M497.9 1188.8V1205.3M497.9 1222.6V1239.1M497.9 1256.4V1272.9M497.9 1290.2V1306.7M497.9 1324.0V1340.5M497.9 1357.8V1374.3M497.9 1391.6V1408.1M497.9 1425.4V1441.9M497.9 1459.2V1475.7M497.9 1493.0V1509.5M497.9 1526.8V1543.3M497.9 1560.6V1577.1M497.9 1594.4V1610.9M497.9 1628.2V1644.7M511.9 817.0V833.5M511.9 850.8V867.3M511.9 884.6V901.1M511.9 918.4V934.9M511.9 952.2V968.7M511.9 986.0V1002.5M511.9 1019.8V1036.3M511.9 1053.6V1070.1M511.9 1087.4V1103.9M511.9 1121.2V1137.7M511.9 1155.0V1171.5M511.9 1188.8V1205.3M511.9 1222.6V1239.1M511.9 1256.4V1272.9M511.9 1290.2V1306.7M511.9 1324.0V1340.5M511.9 1357.8V1374.3M511.9 1391.6V1408.1M511.9 1425.4V1441.9M511.9 1459.2V1475.7M511.9 1493.0V1509.5M511.9 1526.8V1543.3M511.9 1560.6V1577.1M511.9 1594.4V1610.9M511.9 1628.2V1644.7M526.0 817.0V833.5M526.0 850.8V867.3M526.0 884.6V901.1M526.0 918.4V934.9M526.0 952.2V968.7M526.0 986.0V1002.5M526.0 1019.8V1036.3M526.0 1053.6V1070.1M526.0 1087.4V1103.9M526.0 1121.2V1137.7M526.0 1155.0V1171.5M526.0 1188.8V1205.3M526.0 1222.6V1239.1M526.0 1256.4V1272.9M526.0 1290.2V1306.7M526.0 1324.0V1340.5M526.0 1357.8V1374.3M526.0 1391.6V1408.1M526.0 1425.4V1441.9M526.0 1459.2V1475.7M526.0 1493.0V1509.5M526.0 1526.8V1543.3M526.0 1560.6V1577.1M526.0 1594.4V1610.9M526.0 1628.2V1644.7M540.0 817.0V833.5M540.0 850.8V867.3M540.0 884.6V901.1M540.0 918.4V934.9M540.0 952.2V968.7M540.0 986.0V1002.5M540.0 1019.8V1036.3M540.0 1053.6V1070.1M540.0 1087.4V1103.9M540.0 1121.2V1137.7M540.0 1155.0V1171.5M540.0 1188.8V1205.3M540.0 1222.6V1239.1M540.0 1256.4V1272.9M540.0 1290.2V1306.7M540.0 1324.0V1340.5M540.0 1357.8V1374.3M540.0 1391.6V1408.1M540.0 1425.4V1441.9M540.0 1459.2V1475.7M540.0 1493.0V1509.5M540.0 1526.8V1543.3M540.0 1560.6V1577.1M540.0 1594.4V1610.9M540.0 1628.2V1644.7M554.1 817.0V833.5M554.1 850.8V867.3M554.1 884.6V901.1M554.1 918.4V934.9M554.1 952.2V968.7M554.1 986.0V1002.5M554.1 1019.8V1036.3M554.1 1053.6V1070.1M554.1 1087.4V1103.9M554.1 1121.2V1137.7M554.1 1155.0V1171.5M554.1 1188.8V1205.3M554.1 1222.6V1239.1M554.1 1256.4V1272.9M554.1 1290.2V1306.7M554.1 1324.0V1340.5M554.1 1357.8V1374.3M554.1 1391.6V1408.1M554.1 1425.4V1441.9M554.1 1459.2V1475.7M554.1 1493.0V1509.5M554.1 1526.8V1543.3M554.1 1560.6V1577.1M554.1 1594.4V1610.9M554.1 1628.2V1644.7M568.1 817.0V833.5M568.1 850.8V867.3M568.1 884.6V901.1M568.1 918.4V934.9M568.1 952.2V968.7M568.1 986.0V1002.5M568.1 1019.8V1036.3M568.1 1053.6V1070.1M568.1 1087.4V1103.9M568.1 1121.2V1137.7M568.1 1155.0V1171.5M568.1 1188.8V1205.3M568.1 1222.6V1239.1M568.1 1256.4V1272.9M568.1 1290.2V1306.7M568.1 1324.0V1340.5M568.1 1357.8V1374.3M568.1 1391.6V1408.1M568.1 1425.4V1441.9M568.1 1459.2V1475.7M568.1 1493.0V1509.5M568.1 1526.8V1543.3M568.1 1560.6V1577.1M568.1 1594.4V1610.9M568.1 1628.2V1644.7M582.1 817.0V833.5M582.1 850.8V867.3M582.1 884.6V901.1M582.1 918.4V934.9M582.1 952.2V968.7M582.1 986.0V1002.5M582.1 1019.8V1036.3M582.1 1053.6V1070.1M582.1 1087.4V1103.9M582.1 1121.2V1137.7M582.1 1155.0V1171.5M582.1 1188.8V1205.3M582.1 1222.6V1239.1M582.1 1256.4V1272.9M582.1 1290.2V1306.7M582.1 1324.0V1340.5M582.1 1357.8V1374.3M582.1 1391.6V1408.1M582.1 1425.4V1441.9M582.1 1459.2V1475.7M582.1 1493.0V1509.5M582.1 1526.8V1543.3M582.1 1560.6V1577.1M582.1 1594.4V1610.9M582.1 1628.2V1644.7M596.2 817.0V833.5M596.2 850.8V867.3M596.2 884.6V901.1M596.2 918.4V934.9M596.2 952.2V968.7M596.2 986.0V1002.5M596.2 1019.8V1036.3M596.2 1053.6V1070.1M596.2 1087.4V1103.9M596.2 1121.2V1137.7M596.2 1155.0V1171.5M596.2 1188.8V1205.3M596.2 1222.6V1239.1M596.2 1256.4V1272.9M596.2 1290.2V1306.7M596.2 1324.0V1340.5M596.2 1357.8V1374.3M596.2 1391.6V1408.1M596.2 1425.4V1441.9M596.2 1459.2V1475.7M596.2 1493.0V1509.5M596.2 1526.8V1543.3M596.2 1560.6V1577.1M596.2 1594.4V1610.9M596.2 1628.2V1644.7M610.2 817.0V833.5M610.2 850.8V867.3M610.2 884.6V901.1M610.2 918.4V934.9M610.2 952.2V968.7M610.2 986.0V1002.5M610.2 1019.8V1036.3M610.2 1053.6V1070.1M610.2 1087.4V1103.9M610.2 1121.2V1137.7M610.2 1155.0V1171.5M610.2 1188.8V1205.3M610.2 1222.6V1239.1M610.2 1256.4V1272.9M610.2 1290.2V1306.7M610.2 1324.0V1340.5M610.2 1357.8V1374.3M610.2 1391.6V1408.1M610.2 1425.4V1441.9M610.2 1459.2V1475.7M610.2 1493.0V1509.5M610.2 1526.8V1543.3M610.2 1560.6V1577.1M610.2 1594.4V1610.9M610.2 1628.2V1644.7M624.3 817.0V833.5M624.3 850.8V867.3M624.3 884.6V901.1M624.3 918.4V934.9M624.3 952.2V968.7M624.3 986.0V1002.5M624.3 1019.8V1036.3M624.3 1053.6V1070.1M624.3 1087.4V1103.9M624.3 1121.2V1137.7M624.3 1155.0V1171.5M624.3 1188.8V1205.3M624.3 1222.6V1239.1M624.3 1256.4V1272.9M624.3 1290.2V1306.7M624.3 1324.0V1340.5M624.3 1357.8V1374.3M624.3 1391.6V1408.1M624.3 1425.4V1441.9M624.3 1459.2V1475.7M624.3 1493.0V1509.5M624.3 1526.8V1543.3M624.3 1560.6V1577.1M624.3 1594.4V1610.9M624.3 1628.2V1644.7M638.3 817.0V833.5M638.3 850.8V867.3M638.3 884.6V901.1M638.3 918.4V934.9M638.3 952.2V968.7M638.3 986.0V1002.5M638.3 1019.8V1036.3M638.3 1053.6V1070.1M638.3 1087.4V1103.9M638.3 1121.2V1137.7M638.3 1155.0V1171.5M638.3 1188.8V1205.3M638.3 1222.6V1239.1M638.3 1256.4V1272.9M638.3 1290.2V1306.7M638.3 1324.0V1340.5M638.3 1357.8V1374.3M638.3 1391.6V1408.1M638.3 1425.4V1441.9M638.3 1459.2V1475.7M638.3 1493.0V1509.5M638.3 1526.8V1543.3M638.3 1560.6V1577.1M638.3 1594.4V1610.9M638.3 1628.2V1644.7M652.3 817.0V833.5M652.3 850.8V867.3M652.3 884.6V901.1M652.3 918.4V934.9M652.3 952.2V968.7M652.3 986.0V1002.5M652.3 1019.8V1036.3M652.3 1053.6V1070.1M652.3 1087.4V1103.9M652.3 1121.2V1137.7M652.3 1155.0V1171.5M652.3 1188.8V1205.3M652.3 1222.6V1239.1M652.3 1256.4V1272.9M652.3 1290.2V1306.7M652.3 1324.0V1340.5M652.3 1357.8V1374.3M652.3 1391.6V1408.1M652.3 1425.4V1441.9M652.3 1459.2V1475.7M652.3 1493.0V1509.5M652.3 1526.8V1543.3M652.3 1560.6V1577.1M652.3 1594.4V1610.9M652.3 1628.2V1644.7M666.4 817.0V833.5M666.4 850.8V867.3M666.4 884.6V901.1M666.4 918.4V934.9M666.4 952.2V968.7M666.4 986.0V1002.5M666.4 1019.8V1036.3M666.4 1053.6V1070.1M666.4 1087.4V1103.9M666.4 1121.2V1137.7M666.4 1155.0V1171.5M666.4 1188.8V1205.3M666.4 1222.6V1239.1M666.4 1256.4V1272.9M666.4 1290.2V1306.7M666.4 1324.0V1340.5M666.4 1357.8V1374.3M666.4 1391.6V1408.1M666.4 1425.4V1441.9M666.4 1459.2V1475.7M666.4 1493.0V1509.5M666.4 1526.8V1543.3M666.4 1560.6V1577.1M666.4 1594.4V1610.9M666.4 1628.2V1644.7M680.4 817.0V833.5M680.4 850.8V867.3M680.4 884.6V901.1M680.4 918.4V934.9M680.4 952.2V968.7M680.4 986.0V1002.5M680.4 1019.8V1036.3M680.4 1053.6V1070.1M680.4 1087.4V1103.9M680.4 1121.2V1137.7M680.4 1155.0V1171.5M680.4 1188.8V1205.3M680.4 1222.6V1239.1M680.4 1256.4V1272.9M680.4 1290.2V1306.7M680.4 1324.0V1340.5M680.4 1357.8V1374.3M680.4 1391.6V1408.1M680.4 1425.4V1441.9M680.4 1459.2V1475.7M680.4 1493.0V1509.5M680.4 1526.8V1543.3M680.4 1560.6V1577.1M680.4 1594.4V1610.9M680.4 1628.2V1644.7M694.5 817.0V833.5M694.5 850.8V867.3M694.5 884.6V901.1M694.5 918.4V934.9M694.5 952.2V968.7M694.5 986.0V1002.5M694.5 1019.8V1036.3M694.5 1053.6V1070.1M694.5 1087.4V1103.9M694.5 1121.2V1137.7M694.5 1155.0V1171.5M694.5 1188.8V1205.3M694.5 1222.6V1239.1M694.5 1256.4V1272.9M694.5 1290.2V1306.7M694.5 1324.0V1340.5M694.5 1357.8V1374.3M694.5 1391.6V1408.1M694.5 1425.4V1441.9M694.5 1459.2V1475.7M694.5 1493.0V1509.5M694.5 1526.8V1543.3M694.5 1560.6V1577.1M694.5 1594.4V1610.9M694.5 1628.2V1644.7M708.5 817.0V833.5M708.5 850.8V867.3M708.5 884.6V901.1M708.5 918.4V934.9M708.5 952.2V968.7M708.5 986.0V1002.5M708.5 1019.8V1036.3M708.5 1053.6V1070.1M708.5 1087.4V1103.9M708.5 1121.2V1137.7M708.5 1155.0V1171.5M708.5 1188.8V1205.3M708.5 1222.6V1239.1M708.5 1256.4V1272.9M708.5 1290.2V1306.7M708.5 1324.0V1340.5M708.5 1357.8V1374.3M708.5 1391.6V1408.1M708.5 1425.4V1441.9M708.5 1459.2V1475.7M708.5 1493.0V1509.5M708.5 1526.8V1543.3M708.5 1560.6V1577.1M708.5 1594.4V1610.9M708.5 1628.2V1644.7M722.5 817.0V833.5M722.5 850.8V867.3M722.5 884.6V901.1M722.5 918.4V934.9M722.5 952.2V968.7M722.5 986.0V1002.5M722.5 1019.8V1036.3M722.5 1053.6V1070.1M722.5 1087.4V1103.9M722.5 1121.2V1137.7M722.5 1155.0V1171.5M722.5 1188.8V1205.3M722.5 1222.6V1239.1M722.5 1256.4V1272.9M722.5 1290.2V1306.7M722.5 1324.0V1340.5M722.5 1357.8V1374.3M722.5 1391.6V1408.1M722.5 1425.4V1441.9M722.5 1459.2V1475.7M722.5 1493.0V1509.5M722.5 1526.8V1543.3M722.5 1560.6V1577.1M722.5 1594.4V1610.9M722.5 1628.2V1644.7M736.6 817.0V833.5M736.6 850.8V867.3M736.6 884.6V901.1M736.6 918.4V934.9M736.6 952.2V968.7M736.6 986.0V1002.5M736.6 1019.8V1036.3M736.6 1053.6V1070.1M736.6 1087.4V1103.9M736.6 1121.2V1137.7M736.6 1155.0V1171.5M736.6 1188.8V1205.3M736.6 1222.6V1239.1M736.6 1256.4V1272.9M736.6 1290.2V1306.7M736.6 1324.0V1340.5M736.6 1357.8V1374.3M736.6 1391.6V1408.1M736.6 1425.4V1441.9M736.6 1459.2V1475.7M736.6 1493.0V1509.5M736.6 1526.8V1543.3M736.6 1560.6V1577.1M736.6 1594.4V1610.9M736.6 1628.2V1644.7M750.6 817.0V833.5M750.6 850.8V867.3M750.6 884.6V901.1M750.6 918.4V934.9M750.6 952.2V968.7M750.6 986.0V1002.5M750.6 1019.8V1036.3M750.6 1053.6V1070.1M750.6 1087.4V1103.9M750.6 1121.2V1137.7M750.6 1155.0V1171.5M750.6 1188.8V1205.3M750.6 1222.6V1239.1M750.6 1256.4V1272.9M750.6 1290.2V1306.7M750.6 1324.0V1340.5M750.6 1357.8V1374.3M750.6 1391.6V1408.1M750.6 1425.4V1441.9M750.6 1459.2V1475.7M750.6 1493.0V1509.5M750.6 1526.8V1543.3M750.6 1560.6V1577.1M750.6 1594.4V1610.9M750.6 1628.2V1644.7M764.7 817.0V833.5M764.7 850.8V867.3M764.7 884.6V901.1M764.7 918.4V934.9M764.7 952.2V968.7M764.7 986.0V1002.5M764.7 1019.8V1036.3M764.7 1053.6V1070.1M764.7 1087.4V1103.9M764.7 1121.2V1137.7M764.7 1155.0V1171.5M764.7 1188.8V1205.3M764.7 1222.6V1239.1M764.7 1256.4V1272.9M764.7 1290.2V1306.7M764.7 1324.0V1340.5M764.7 1357.8V1374.3M764.7 1391.6V1408.1M764.7 1425.4V1441.9M764.7 1459.2V1475.7M764.7 1493.0V1509.5M764.7 1526.8V1543.3M764.7 1560.6V1577.1M764.7 1594.4V1610.9M764.7 1628.2V1644.7M778.7 817.0V833.5M778.7 850.8V867.3M778.7 884.6V901.1M778.7 918.4V934.9M778.7 952.2V968.7M778.7 986.0V1002.5M778.7 1019.8V1036.3M778.7 1053.6V1070.1M778.7 1087.4V1103.9M778.7 1121.2V1137.7M778.7 1155.0V1171.5M778.7 1188.8V1205.3M778.7 1222.6V1239.1M778.7 1256.4V1272.9M778.7 1290.2V1306.7M778.7 1324.0V1340.5M778.7 1357.8V1374.3M778.7 1391.6V1408.1M778.7 1425.4V1441.9M778.7 1459.2V1475.7M778.7 1493.0V1509.5M778.7 1526.8V1543.3M778.7 1560.6V1577.1M778.7 1594.4V1610.9M778.7 1628.2V1644.7M792.7 817.0V833.5M792.7 850.8V867.3M792.7 884.6V901.1M792.7 918.4V934.9M792.7 952.2V968.7M792.7 986.0V1002.5M792.7 1019.8V1036.3M792.7 1053.6V1070.1M792.7 1087.4V1103.9M792.7 1121.2V1137.7M792.7 1155.0V1171.5M792.7 1188.8V1205.3M792.7 1222.6V1239.1M792.7 1256.4V1272.9M792.7 1290.2V1306.7M792.7 1324.0V1340.5M792.7 1357.8V1374.3M792.7 1391.6V1408.1M792.7 1425.4V1441.9M792.7 1459.2V1475.7M792.7 1493.0V1509.5M792.7 1526.8V1543.3M792.7 1560.6V1577.1M792.7 1594.4V1610.9M792.7 1628.2V1644.7M806.8 817.0V833.5M806.8 850.8V867.3M806.8 884.6V901.1M806.8 918.4V934.9M806.8 952.2V968.7M806.8 986.0V1002.5M806.8 1019.8V1036.3M806.8 1053.6V1070.1M806.8 1087.4V1103.9M806.8 1121.2V1137.7M806.8 1155.0V1171.5M806.8 1188.8V1205.3M806.8 1222.6V1239.1M806.8 1256.4V1272.9M806.8 1290.2V1306.7M806.8 1324.0V1340.5M806.8 1357.8V1374.3M806.8 1391.6V1408.1M806.8 1425.4V1441.9M806.8 1459.2V1475.7M806.8 1493.0V1509.5M806.8 1526.8V1543.3M806.8 1560.6V1577.1M806.8 1594.4V1610.9M806.8 1628.2V1644.7M820.8 817.0V833.5M820.8 850.8V867.3M820.8 884.6V901.1M820.8 918.4V934.9M820.8 952.2V968.7M820.8 986.0V1002.5M820.8 1019.8V1036.3M820.8 1053.6V1070.1M820.8 1087.4V1103.9M820.8 1121.2V1137.7M820.8 1155.0V1171.5M820.8 1188.8V1205.3M820.8 1222.6V1239.1M820.8 1256.4V1272.9M820.8 1290.2V1306.7M820.8 1324.0V1340.5M820.8 1357.8V1374.3M820.8 1391.6V1408.1M820.8 1425.4V1441.9M820.8 1459.2V1475.7M820.8 1493.0V1509.5M820.8 1526.8V1543.3M820.8 1560.6V1577.1M820.8 1594.4V1610.9M820.8 1628.2V1644.7M834.9 817.0V833.5M834.9 850.8V867.3M834.9 884.6V901.1M834.9 918.4V934.9M834.9 952.2V968.7M834.9 986.0V1002.5M834.9 1019.8V1036.3M834.9 1053.6V1070.1M834.9 1087.4V1103.9M834.9 1121.2V1137.7M834.9 1155.0V1171.5M834.9 1188.8V1205.3M834.9 1222.6V1239.1M834.9 1256.4V1272.9M834.9 1290.2V1306.7M834.9 1324.0V1340.5M834.9 1357.8V1374.3M834.9 1391.6V1408.1M834.9 1425.4V1441.9M834.9 1459.2V1475.7M834.9 1493.0V1509.5M834.9 1526.8V1543.3M834.9 1560.6V1577.1M834.9 1594.4V1610.9M834.9 1628.2V1644.7M848.9 817.0V833.5M848.9 850.8V867.3M848.9 884.6V901.1M848.9 918.4V934.9M848.9 952.2V968.7M848.9 986.0V1002.5M848.9 1019.8V1036.3M848.9 1053.6V1070.1M848.9 1087.4V1103.9M848.9 1121.2V1137.7M848.9 1155.0V1171.5M848.9 1188.8V1205.3M848.9 1222.6V1239.1M848.9 1256.4V1272.9M848.9 1290.2V1306.7M848.9 1324.0V1340.5M848.9 1357.8V1374.3M848.9 1391.6V1408.1M848.9 1425.4V1441.9M848.9 1459.2V1475.7M848.9 1493.0V1509.5M848.9 1526.8V1543.3M848.9 1560.6V1577.1M848.9 1594.4V1610.9M848.9 1628.2V1644.7M862.9 817.0V833.5M862.9 850.8V867.3M862.9 884.6V901.1M862.9 918.4V934.9M862.9 952.2V968.7M862.9 986.0V1002.5M862.9 1019.8V1036.3M862.9 1053.6V1070.1M862.9 1087.4V1103.9M862.9 1121.2V1137.7M862.9 1155.0V1171.5M862.9 1188.8V1205.3M862.9 1222.6V1239.1M862.9 1256.4V1272.9M862.9 1290.2V1306.7M862.9 1324.0V1340.5M862.9 1357.8V1374.3M862.9 1391.6V1408.1M862.9 1425.4V1441.9M862.9 1459.2V1475.7M862.9 1493.0V1509.5M862.9 1526.8V1543.3M862.9 1560.6V1577.1M862.9 1594.4V1610.9M862.9 1628.2V1644.7M877.0 817.0V833.5M877.0 850.8V867.3M877.0 884.6V901.1M877.0 918.4V934.9M877.0 952.2V968.7M877.0 986.0V1002.5M877.0 1019.8V1036.3M877.0 1053.6V1070.1M877.0 1087.4V1103.9M877.0 1121.2V1137.7M877.0 1155.0V1171.5M877.0 1188.8V1205.3M877.0 1222.6V1239.1M877.0 1256.4V1272.9M877.0 1290.2V1306.7M877.0 1324.0V1340.5M877.0 1357.8V1374.3M877.0 1391.6V1408.1M877.0 1425.4V1441.9M877.0 1459.2V1475.7M877.0 1493.0V1509.5M877.0 1526.8V1543.3M877.0 1560.6V1577.1M877.0 1594.4V1610.9M877.0 1628.2V1644.7M891.0 817.0V833.5M891.0 850.8V867.3M891.0 884.6V901.1M891.0 918.4V934.9M891.0 952.2V968.7M891.0 986.0V1002.5M891.0 1019.8V1036.3M891.0 1053.6V1070.1M891.0 1087.4V1103.9M891.0 1121.2V1137.7M891.0 1155.0V1171.5M891.0 1188.8V1205.3M891.0 1222.6V1239.1M891.0 1256.4V1272.9M891.0 1290.2V1306.7M891.0 1324.0V1340.5M891.0 1357.8V1374.3M891.0 1391.6V1408.1M891.0 1425.4V1441.9M891.0 1459.2V1475.7M891.0 1493.0V1509.5M891.0 1526.8V1543.3M891.0 1560.6V1577.1M891.0 1594.4V1610.9M891.0 1628.2V1644.7M905.1 817.0V833.5M905.1 850.8V867.3M905.1 884.6V901.1M905.1 918.4V934.9M905.1 952.2V968.7M905.1 986.0V1002.5M905.1 1019.8V1036.3M905.1 1053.6V1070.1M905.1 1087.4V1103.9M905.1 1121.2V1137.7M905.1 1155.0V1171.5M905.1 1188.8V1205.3M905.1 1222.6V1239.1M905.1 1256.4V1272.9M905.1 1290.2V1306.7M905.1 1324.0V1340.5M905.1 1357.8V1374.3M905.1 1391.6V1408.1M905.1 1425.4V1441.9M905.1 1459.2V1475.7M905.1 1493.0V1509.5M905.1 1526.8V1543.3M905.1 1560.6V1577.1M905.1 1594.4V1610.9M905.1 1628.2V1644.7M919.1 817.0V833.5M919.1 850.8V867.3M919.1 884.6V901.1M919.1 918.4V934.9M919.1 952.2V968.7M919.1 986.0V1002.5M919.1 1019.8V1036.3M919.1 1053.6V1070.1M919.1 1087.4V1103.9M919.1 1121.2V1137.7M919.1 1155.0V1171.5M919.1 1188.8V1205.3M919.1 1222.6V1239.1M919.1 1256.4V1272.9M919.1 1290.2V1306.7M919.1 1324.0V1340.5M919.1 1357.8V1374.3M919.1 1391.6V1408.1M919.1 1425.4V1441.9M919.1 1459.2V1475.7M919.1 1493.0V1509.5M919.1 1526.8V1543.3M919.1 1560.6V1577.1M919.1 1594.4V1610.9M919.1 1628.2V1644.7M933.1 817.0V833.5M933.1 850.8V867.3M933.1 884.6V901.1M933.1 918.4V934.9M933.1 952.2V968.7M933.1 986.0V1002.5M933.1 1019.8V1036.3M933.1 1053.6V1070.1M933.1 1087.4V1103.9M933.1 1121.2V1137.7M933.1 1155.0V1171.5M933.1 1188.8V1205.3M933.1 1222.6V1239.1M933.1 1256.4V1272.9M933.1 1290.2V1306.7M933.1 1324.0V1340.5M933.1 1357.8V1374.3M933.1 1391.6V1408.1M933.1 1425.4V1441.9M933.1 1459.2V1475.7M933.1 1493.0V1509.5M933.1 1526.8V1543.3M933.1 1560.6V1577.1M933.1 1594.4V1610.9M933.1 1628.2V1644.7" stroke="#eaebef" stroke-width="2.8" fill="none"/><rect x="0" y="1014.5" width="935" height="2.2" fill="#e6e8ee"/><rect x="0" y="1216" width="935" height="2.2" fill="#e6e8ee"/><rect x="0" y="1418" width="935" height="2.2" fill="#e6e8ee"/><rect x="934" y="816" width="2" height="842" fill="#eceef2"/><path d="M0.0 1327.0C1.8 1320.3 8.0 1293.3 11.0 1287.0C14.0 1280.7 15.8 1276.8 18.0 1289.0C20.2 1301.2 21.8 1344.2 24.0 1360.0C26.2 1375.8 27.7 1378.5 31.0 1384.0C34.3 1389.5 39.9 1384.8 44.0 1393.0C48.1 1401.2 52.6 1412.6 55.6 1433.0C58.6 1453.4 59.8 1495.9 62.0 1515.6C64.2 1535.3 66.0 1546.9 69.0 1551.0C72.0 1555.1 76.7 1540.0 80.0 1540.0C83.3 1540.0 86.0 1552.5 89.0 1551.0C92.0 1549.5 94.7 1541.7 98.0 1531.0C101.3 1520.3 105.3 1498.8 109.0 1487.0C112.7 1475.2 117.0 1464.5 120.0 1460.0C123.0 1455.5 124.8 1456.3 127.0 1460.0C129.2 1463.7 130.2 1478.0 133.0 1482.0C135.8 1486.0 140.2 1485.5 144.0 1484.0C147.8 1482.5 152.3 1483.0 155.6 1473.0C158.9 1463.0 159.6 1433.2 164.0 1424.0C168.4 1414.8 177.8 1417.2 182.0 1418.0C186.2 1418.8 186.7 1414.7 189.0 1429.0C191.3 1443.3 193.1 1485.8 195.6 1504.0C198.1 1522.2 201.4 1530.2 204.0 1538.0C206.6 1545.8 208.3 1551.8 211.0 1551.0C213.7 1550.2 216.7 1542.7 220.0 1533.0C223.3 1523.3 228.0 1508.5 231.0 1493.0C234.0 1477.5 235.2 1459.2 238.0 1440.0C240.8 1420.8 244.0 1399.0 247.8 1377.8C251.6 1356.6 256.6 1332.6 261.0 1313.0C265.4 1293.4 269.9 1272.5 274.4 1260.0C278.9 1247.5 284.1 1248.9 287.8 1237.8C291.5 1226.7 293.7 1203.7 296.7 1193.3C299.7 1182.9 301.9 1175.6 305.6 1175.6C309.3 1175.6 314.8 1181.8 318.9 1193.3C323.0 1204.8 326.3 1239.2 330.0 1244.4C333.7 1249.6 336.9 1234.4 341.0 1224.4C345.1 1214.4 350.3 1191.8 354.4 1184.4C358.5 1177.0 362.3 1178.1 365.6 1180.0C368.9 1181.9 371.1 1188.2 374.4 1195.6C377.7 1203.0 381.5 1215.5 385.6 1224.4C389.7 1233.3 394.8 1246.8 398.9 1249.0C403.0 1251.2 406.8 1223.5 410.0 1237.8C413.2 1252.1 415.4 1309.6 418.0 1335.0C420.6 1360.4 422.7 1373.8 425.6 1390.0C428.5 1406.2 432.4 1420.3 435.2 1431.9C438.0 1443.5 440.1 1454.4 442.6 1459.6C445.1 1464.8 447.8 1466.4 450.0 1463.3C452.2 1460.2 453.8 1448.7 455.6 1441.0C457.5 1433.3 458.0 1422.5 461.1 1417.0C464.2 1411.5 470.6 1411.8 474.0 1407.8C477.4 1403.8 479.0 1399.2 481.5 1393.0C484.0 1386.8 486.4 1375.0 488.9 1370.7C491.4 1366.4 493.8 1365.1 496.3 1367.0C498.8 1368.9 500.6 1378.8 503.7 1381.9C506.8 1385.0 511.7 1385.9 514.8 1385.6C517.9 1385.3 519.7 1376.3 522.2 1380.0C524.7 1383.7 527.1 1401.6 529.6 1407.8C532.1 1414.0 534.5 1416.4 537.0 1417.0C539.5 1417.6 541.9 1415.8 544.4 1411.5C546.9 1407.2 548.8 1395.6 551.9 1391.0C555.0 1386.4 559.3 1385.5 563.0 1383.7C566.7 1381.9 570.3 1383.4 574.0 1380.0C577.7 1376.6 582.4 1376.6 585.2 1363.3C588.0 1350.0 589.5 1320.9 591.0 1300.0C592.5 1279.1 592.2 1252.6 594.0 1237.8C595.8 1223.0 598.5 1217.0 601.5 1211.1C604.5 1205.2 608.4 1206.2 611.9 1202.2C615.4 1198.2 618.5 1192.3 622.2 1187.4C625.9 1182.5 630.2 1177.0 634.1 1172.6C638.0 1168.1 642.2 1165.6 645.9 1160.7C649.6 1155.8 652.8 1148.4 656.3 1143.0C659.8 1137.6 664.0 1132.3 666.7 1128.1C669.4 1123.9 670.6 1124.0 672.6 1117.8C674.6 1111.6 676.3 1102.5 678.5 1091.1C680.7 1079.7 683.4 1055.8 685.9 1049.6C688.4 1043.4 690.8 1049.6 693.3 1054.1C695.8 1058.5 698.2 1068.4 700.7 1076.3C703.2 1084.2 705.6 1090.4 708.1 1101.5C710.6 1112.6 713.6 1133.6 715.6 1143.0C717.6 1152.4 718.5 1149.8 720.0 1157.8C721.5 1165.8 722.2 1182.6 724.4 1191.1C726.6 1199.6 729.6 1203.4 733.3 1208.9C737.0 1214.5 742.6 1218.9 746.7 1224.4C750.8 1230.0 753.4 1238.9 757.8 1242.2C762.2 1245.5 768.9 1244.4 773.3 1244.4C777.7 1244.4 781.1 1252.9 784.4 1242.2C787.7 1231.5 790.3 1200.7 793.3 1180.0C796.3 1159.3 798.5 1136.3 802.2 1117.8C805.9 1099.3 811.2 1078.5 815.6 1068.9C820.0 1059.3 826.0 1059.3 828.9 1060.0C831.8 1060.7 831.8 1055.8 833.3 1073.3C834.8 1090.8 835.2 1145.0 837.8 1165.0C840.4 1185.0 845.1 1185.7 848.9 1193.3C852.7 1200.9 857.8 1203.0 860.7 1210.8C863.6 1218.5 864.1 1230.1 866.5 1239.8C868.9 1249.5 871.8 1259.7 875.2 1268.9C878.6 1278.1 883.2 1288.2 886.8 1295.0C890.4 1301.8 894.1 1306.6 897.0 1309.5C899.9 1312.4 902.1 1321.7 904.3 1312.5C906.5 1303.3 908.2 1283.4 910.1 1254.3C912.0 1225.2 914.4 1166.7 915.9 1138.1C917.4 1109.5 918.2 1105.5 919.3 1082.7C920.3 1059.9 920.8 1020.8 922.2 1001.0C923.7 981.2 926.3 977.5 928.0 964.0C929.7 950.5 931.6 933.2 932.6 919.7C933.6 906.2 933.8 888.9 934.0 882.7" stroke="#1fd760" stroke-width="6.2" fill="none" stroke-linejoin="round" stroke-linecap="round"/><path d="M0.0 1309.0C2.2 1307.2 9.3 1295.5 13.0 1298.0C16.7 1300.5 19.0 1314.8 22.0 1324.0C25.0 1333.2 27.3 1343.0 31.0 1353.0C34.7 1363.0 39.9 1373.5 44.0 1384.0C48.1 1394.5 52.3 1401.8 55.6 1416.0C58.9 1430.2 61.4 1454.3 64.0 1469.0C66.6 1483.7 67.7 1495.2 71.0 1504.0C74.3 1512.8 80.7 1516.3 84.0 1522.0C87.3 1527.7 88.0 1537.2 91.0 1538.0C94.0 1538.8 97.9 1533.3 102.0 1527.0C106.1 1520.7 111.9 1508.2 115.6 1500.0C119.3 1491.8 120.3 1481.0 124.0 1478.0C127.7 1475.0 133.5 1481.3 138.0 1482.0C142.5 1482.7 147.3 1486.3 151.0 1482.0C154.7 1477.7 156.3 1463.3 160.0 1456.0C163.7 1448.7 169.3 1442.2 173.0 1438.0C176.7 1433.8 179.0 1429.2 182.0 1431.0C185.0 1432.8 188.0 1438.7 191.0 1449.0C194.0 1459.3 197.0 1480.8 200.0 1493.0C203.0 1505.2 206.0 1516.8 209.0 1522.0C212.0 1527.2 214.7 1525.3 218.0 1524.0C221.3 1522.7 225.3 1523.0 229.0 1514.0C232.7 1505.0 236.2 1494.5 240.0 1470.0C243.8 1445.5 247.4 1391.7 252.0 1367.0C256.6 1342.3 262.6 1336.2 267.8 1322.0C273.0 1307.8 278.5 1296.8 283.3 1282.0C288.1 1267.2 293.4 1245.5 296.7 1233.0C300.0 1220.5 300.4 1211.5 303.3 1206.7C306.2 1201.9 310.7 1204.4 314.4 1204.4C318.1 1204.4 322.3 1203.8 325.6 1206.7C328.9 1209.6 331.1 1219.0 334.4 1222.0C337.7 1225.0 341.5 1228.4 345.6 1224.4C349.7 1220.4 355.2 1202.6 358.9 1197.8C362.6 1193.0 364.4 1194.1 367.8 1195.6C371.2 1197.1 374.9 1201.2 379.0 1206.7C383.1 1212.2 387.8 1222.2 392.2 1228.9C396.6 1235.6 401.9 1238.6 405.6 1246.7C409.3 1254.8 411.4 1265.2 414.4 1277.8C417.3 1290.3 420.4 1307.1 423.3 1322.0C426.2 1336.9 428.9 1352.7 431.5 1367.0C434.1 1381.3 436.8 1396.7 438.9 1407.8C441.0 1418.9 442.5 1428.2 444.4 1433.7C446.2 1439.2 447.8 1442.2 450.0 1441.0C452.2 1439.8 454.6 1430.0 457.4 1426.3C460.2 1422.6 463.3 1421.1 466.7 1418.9C470.1 1416.7 474.4 1417.3 477.8 1413.3C481.2 1409.3 484.2 1400.7 487.0 1394.8C489.8 1388.9 491.6 1380.2 494.4 1378.0C497.2 1375.8 500.3 1381.0 503.7 1381.9C507.1 1382.9 511.4 1383.1 514.8 1383.7C518.2 1384.3 520.9 1382.5 524.0 1385.6C527.1 1388.7 530.5 1398.5 533.3 1402.2C536.1 1405.9 537.6 1408.1 540.7 1407.8C543.8 1407.5 548.2 1404.1 551.9 1400.4C555.6 1396.7 559.3 1389.9 563.0 1385.6C566.7 1381.3 570.3 1376.9 574.0 1374.4C577.7 1371.9 582.4 1375.6 585.2 1370.7C588.0 1365.8 589.0 1358.5 591.0 1345.0C593.0 1331.5 594.2 1307.3 597.0 1290.0C599.8 1272.7 603.3 1254.9 607.5 1241.0C611.7 1227.1 617.8 1215.6 622.2 1206.7C626.6 1197.8 630.2 1192.4 634.1 1187.4C638.0 1182.5 642.5 1182.4 645.9 1177.0C649.3 1171.6 651.3 1160.7 654.8 1154.8C658.3 1148.9 663.2 1145.2 666.7 1141.5C670.2 1137.8 672.9 1139.8 675.6 1132.6C678.3 1125.4 680.8 1107.2 683.0 1098.5C685.2 1089.8 686.7 1083.7 688.9 1080.7C691.1 1077.7 693.8 1078.7 696.3 1080.7C698.8 1082.7 700.9 1087.9 703.7 1092.6C706.5 1097.3 710.2 1101.0 713.3 1108.9C716.4 1116.8 718.9 1127.4 722.2 1140.0C725.5 1152.6 730.0 1174.0 733.3 1184.4C736.6 1194.8 738.5 1194.4 742.2 1202.2C745.9 1210.0 751.2 1224.8 755.6 1231.1C760.0 1237.4 764.5 1238.9 768.9 1240.0C773.3 1241.1 777.8 1244.8 782.2 1237.8C786.7 1230.8 791.5 1214.8 795.6 1197.8C799.7 1180.8 803.0 1151.5 806.7 1135.6C810.4 1119.7 814.8 1111.1 817.8 1102.2C820.8 1093.3 821.8 1084.1 824.4 1082.2C827.0 1080.3 830.0 1079.2 833.3 1091.1C836.6 1102.9 840.7 1137.8 844.4 1153.3C848.1 1168.8 851.9 1174.3 855.6 1184.4C859.3 1194.5 863.2 1204.5 866.5 1213.7C869.8 1222.9 872.1 1231.8 875.2 1239.8C878.4 1247.8 882.0 1253.1 885.4 1261.6C888.8 1270.1 892.1 1284.7 895.5 1290.7C898.9 1296.8 902.8 1304.0 905.7 1297.9C908.6 1291.8 910.6 1273.7 913.0 1254.3C915.4 1234.9 917.8 1210.8 920.2 1181.7C922.6 1152.7 925.2 1113.3 927.5 1080.0C929.8 1046.7 932.9 998.3 934.0 982.0" stroke="#7a10be" stroke-width="6.2" fill="none" stroke-linejoin="round" stroke-linecap="round"/><path d="M0.0 1300.0C1.8 1298.8 7.3 1291.5 11.0 1293.0C14.7 1294.5 18.3 1301.8 22.0 1309.0C25.7 1316.2 30.0 1330.2 33.0 1336.0C36.0 1341.8 37.0 1337.0 40.0 1344.0C43.0 1351.0 47.3 1366.0 51.0 1378.0C54.7 1390.0 59.0 1403.5 62.0 1416.0C65.0 1428.5 66.3 1442.7 69.0 1453.0C71.7 1463.3 74.7 1469.5 78.0 1478.0C81.3 1486.5 85.7 1498.2 89.0 1504.0C92.3 1509.8 94.3 1513.7 98.0 1513.0C101.7 1512.3 106.7 1505.2 111.0 1500.0C115.3 1494.8 120.3 1484.2 124.0 1482.0C127.7 1479.8 129.7 1485.5 133.0 1487.0C136.3 1488.5 140.2 1491.8 144.0 1491.0C147.8 1490.2 151.8 1486.5 155.6 1482.0C159.4 1477.5 163.3 1469.2 167.0 1464.0C170.7 1458.8 175.2 1453.5 178.0 1451.0C180.8 1448.5 181.5 1446.8 184.0 1449.0C186.5 1451.2 189.7 1457.7 193.0 1464.0C196.3 1470.3 200.7 1480.7 204.0 1487.0C207.3 1493.3 209.7 1499.2 213.0 1502.0C216.3 1504.8 220.8 1503.0 224.0 1504.0C227.2 1505.0 229.3 1509.8 232.0 1508.0C234.7 1506.2 236.7 1505.5 240.0 1493.0C243.3 1480.5 247.0 1455.9 252.0 1433.0C257.0 1410.1 264.0 1377.1 270.0 1355.6C276.0 1334.1 282.6 1320.7 287.8 1304.0C293.0 1287.3 297.3 1267.4 301.0 1255.6C304.7 1243.8 306.3 1238.2 310.0 1233.0C313.7 1227.8 318.9 1224.7 323.3 1224.4C327.8 1224.1 331.5 1231.7 336.7 1231.0C341.9 1230.3 349.6 1224.8 354.4 1220.0C359.2 1215.2 361.2 1204.6 365.6 1202.0C370.0 1199.4 376.2 1202.1 381.0 1204.4C385.8 1206.7 389.9 1209.3 394.4 1215.6C398.9 1221.9 403.7 1231.6 407.8 1242.0C411.9 1252.4 415.2 1264.5 418.9 1277.8C422.6 1291.1 426.4 1305.6 430.0 1322.0C433.6 1338.4 437.4 1361.7 440.7 1376.3C444.0 1390.9 446.6 1403.7 450.0 1409.6C453.4 1415.5 457.1 1411.8 461.1 1411.5C465.1 1411.2 470.0 1409.3 474.0 1407.8C478.0 1406.2 481.8 1405.9 485.2 1402.2C488.6 1398.5 491.3 1388.7 494.4 1385.6C497.5 1382.5 500.6 1383.4 503.7 1383.7C506.8 1384.0 509.9 1386.8 513.0 1387.4C516.1 1388.0 518.8 1386.2 522.2 1387.4C525.6 1388.6 529.9 1392.0 533.3 1394.8C536.7 1397.6 539.2 1403.7 542.6 1404.0C546.0 1404.3 549.7 1399.8 553.7 1396.7C557.7 1393.6 562.7 1388.4 566.7 1385.6C570.7 1382.8 574.1 1382.5 577.8 1380.0C581.5 1377.5 585.8 1376.6 588.9 1370.7C592.0 1364.8 594.1 1356.6 596.3 1344.8C598.5 1333.0 599.0 1314.9 602.2 1300.0C605.4 1285.1 612.8 1265.6 615.6 1255.6C618.5 1245.6 616.7 1247.4 619.3 1240.0C621.9 1232.6 627.1 1218.4 631.1 1211.1C635.1 1203.8 639.0 1202.7 643.0 1196.3C647.0 1189.9 650.8 1179.0 654.8 1172.6C658.8 1166.2 663.0 1162.0 666.7 1157.8C670.4 1153.6 674.3 1152.4 677.0 1147.4C679.7 1142.5 681.0 1135.0 683.0 1128.1C685.0 1121.2 686.7 1111.1 688.9 1105.9C691.1 1100.7 693.6 1097.7 696.3 1097.0C699.0 1096.3 702.2 1099.3 705.2 1101.5C708.2 1103.7 710.9 1104.7 714.1 1110.4C717.3 1116.1 720.8 1127.0 724.4 1135.6C728.0 1144.2 731.1 1153.0 735.6 1162.2C740.1 1171.5 746.3 1181.5 751.1 1191.1C755.9 1200.7 760.0 1214.5 764.4 1220.0C768.8 1225.5 773.0 1225.1 777.8 1224.4C782.6 1223.7 788.9 1224.8 793.3 1215.6C797.7 1206.3 800.3 1182.2 804.4 1168.9C808.5 1155.6 813.7 1146.8 817.8 1135.6C821.9 1124.4 825.5 1102.6 828.8 1101.5C832.1 1100.4 834.6 1120.4 837.6 1129.0C840.6 1137.6 844.8 1148.1 846.7 1153.3C848.6 1158.5 846.2 1155.2 849.0 1159.9C851.8 1164.6 859.2 1173.2 863.6 1181.7C868.0 1190.2 871.3 1201.1 875.2 1210.8C879.1 1220.5 883.2 1230.1 886.8 1239.8C890.4 1249.5 894.1 1261.6 897.0 1268.9C899.9 1276.2 902.1 1283.4 904.3 1283.4C906.5 1283.4 907.9 1276.2 910.1 1268.9C912.3 1261.6 914.9 1251.9 917.3 1239.8C919.7 1227.7 922.4 1213.2 924.6 1196.2C926.8 1179.2 929.0 1155.0 930.4 1138.1C931.8 1121.1 932.6 1108.7 933.3 1094.5C934.0 1080.3 934.3 1059.9 934.5 1053.0" stroke="#ec9b0d" stroke-width="7" fill="none" stroke-linejoin="round" stroke-linecap="round"/><path d="M0.0 1236.7C1.8 1237.4 7.3 1237.8 11.0 1241.0C14.7 1244.2 18.3 1250.7 22.0 1256.0C25.7 1261.3 29.3 1267.5 33.0 1273.0C36.7 1278.5 40.3 1281.8 44.4 1289.0C48.5 1296.2 54.1 1306.7 57.8 1316.0C61.5 1325.3 63.4 1335.3 66.7 1345.0C70.0 1354.7 74.1 1365.5 77.8 1374.0C81.5 1382.5 85.3 1389.0 89.0 1396.0C92.7 1403.0 95.6 1410.2 100.0 1416.0C104.4 1421.8 110.8 1427.0 115.6 1431.0C120.4 1435.0 124.6 1437.4 129.0 1440.0C133.4 1442.6 137.2 1444.4 142.0 1446.7C146.8 1449.0 153.3 1453.6 157.8 1454.0C162.3 1454.4 165.0 1450.8 169.0 1449.0C173.0 1447.2 178.3 1442.7 182.0 1443.0C185.7 1443.3 188.0 1448.2 191.0 1451.0C194.0 1453.8 196.3 1456.5 200.0 1460.0C203.7 1463.5 208.0 1468.5 213.0 1472.0C218.0 1475.5 225.8 1480.3 230.0 1481.0C234.2 1481.7 235.0 1478.8 238.0 1476.0C241.0 1473.2 243.2 1471.6 247.8 1464.4C252.4 1457.2 259.3 1444.9 265.6 1433.0C271.9 1421.1 278.9 1407.0 285.6 1393.0C292.3 1379.0 299.3 1362.3 305.6 1349.0C311.9 1335.7 317.4 1322.3 323.3 1313.0C329.2 1303.7 335.1 1300.3 341.0 1293.0C346.9 1285.7 353.3 1275.2 358.9 1269.0C364.5 1262.8 369.2 1258.9 374.4 1255.6C379.6 1252.3 384.4 1249.6 390.0 1249.0C395.6 1248.4 403.0 1249.4 407.8 1252.0C412.6 1254.6 414.1 1257.1 418.9 1264.4C423.7 1271.7 432.1 1286.0 436.7 1295.6C441.3 1305.2 442.2 1314.1 446.3 1322.0C450.4 1329.9 456.5 1338.0 461.1 1343.0C465.7 1348.0 470.0 1349.4 474.0 1352.2C478.0 1355.0 480.9 1357.8 485.2 1359.6C489.5 1361.4 495.1 1362.1 500.0 1363.3C504.9 1364.5 509.9 1365.8 514.8 1367.0C519.7 1368.2 524.7 1368.5 529.6 1370.7C534.5 1372.9 540.1 1378.3 544.4 1380.0C548.7 1381.7 551.3 1381.5 555.6 1381.0C559.9 1380.5 565.8 1378.3 570.4 1377.2C575.0 1376.1 579.3 1376.4 583.3 1374.4C587.3 1372.4 589.8 1372.7 594.4 1365.0C599.0 1357.3 605.2 1339.2 611.0 1328.0C616.8 1316.8 623.4 1307.1 628.9 1297.8C634.4 1288.5 639.2 1280.5 644.0 1272.0C648.8 1263.5 652.9 1255.4 657.8 1246.7C662.7 1238.0 667.8 1230.4 673.3 1220.0C678.8 1209.6 685.5 1192.6 691.1 1184.4C696.7 1176.2 702.2 1174.0 706.7 1171.1C711.2 1168.1 713.4 1166.3 717.8 1166.7C722.2 1167.1 727.8 1170.3 733.3 1173.3C738.8 1176.2 745.2 1180.5 751.1 1184.4C757.0 1188.3 763.0 1193.2 768.9 1196.7C774.8 1200.2 782.2 1205.4 786.7 1205.6C791.2 1205.8 791.2 1203.2 795.6 1197.8C800.0 1192.4 807.8 1180.8 813.3 1173.3C818.8 1165.8 824.9 1155.5 828.9 1153.0C832.9 1150.5 834.0 1156.4 837.4 1158.5C840.8 1160.6 844.6 1163.0 849.0 1165.7C853.4 1168.4 858.8 1170.5 863.6 1174.4C868.5 1178.3 873.3 1183.4 878.1 1189.0C882.9 1194.6 887.8 1201.6 892.6 1207.9C897.5 1214.2 902.8 1224.8 907.2 1226.7C911.6 1228.6 915.4 1225.1 918.8 1219.5C922.2 1213.9 925.1 1203.2 927.5 1193.3C929.9 1183.4 932.2 1167.2 933.3 1160.0C934.4 1152.8 933.9 1151.7 934.0 1150.0" stroke="#fc3b07" stroke-width="7" fill="none" stroke-linejoin="round" stroke-linecap="round"/><path d="M0.0 1150.0C2.2 1151.7 8.5 1154.7 13.3 1160.0C18.1 1165.3 23.8 1174.2 29.0 1182.0C34.2 1189.8 39.6 1199.2 44.4 1207.0C49.2 1214.8 53.7 1221.3 57.8 1229.0C61.9 1236.7 65.0 1244.5 69.0 1253.0C73.0 1261.5 77.6 1271.5 82.0 1280.0C86.4 1288.5 91.5 1297.3 95.6 1304.0C99.7 1310.7 102.0 1314.3 106.7 1320.0C111.4 1325.7 118.1 1332.0 124.0 1338.0C129.9 1344.0 136.0 1351.2 142.0 1356.0C148.0 1360.8 154.0 1364.2 160.0 1367.0C166.0 1369.8 173.2 1371.2 178.0 1373.0C182.8 1374.8 184.2 1375.0 189.0 1378.0C193.8 1381.0 201.2 1387.0 206.7 1391.0C212.2 1395.0 217.8 1398.2 222.0 1402.0C226.2 1405.8 229.0 1411.2 232.0 1414.0C235.0 1416.8 236.7 1419.2 240.0 1419.0C243.3 1418.8 246.3 1416.9 252.0 1413.0C257.7 1409.1 266.6 1401.5 274.0 1395.6C281.4 1389.7 289.2 1384.9 296.7 1377.8C304.2 1370.7 311.5 1360.0 318.9 1353.0C326.3 1346.0 333.6 1341.8 341.0 1335.6C348.4 1329.4 355.6 1321.9 363.0 1315.6C370.4 1309.3 378.1 1302.1 385.6 1297.8C393.1 1293.5 402.2 1290.4 407.8 1290.0C413.4 1289.6 413.4 1291.0 418.9 1295.6C424.4 1300.2 434.9 1312.4 441.0 1317.8C447.1 1323.2 450.1 1324.4 455.6 1328.0C461.1 1331.6 467.8 1336.5 474.0 1339.3C480.2 1342.1 486.4 1343.3 492.6 1344.8C498.8 1346.3 504.9 1347.3 511.1 1348.5C517.3 1349.7 523.4 1350.4 529.6 1352.2C535.8 1354.0 542.5 1357.9 548.1 1359.6C553.7 1361.3 558.0 1362.2 563.0 1362.4C568.0 1362.6 573.5 1361.4 577.8 1360.6C582.1 1359.8 585.2 1359.2 588.9 1357.8C592.6 1356.4 595.5 1356.3 600.0 1352.2C604.5 1348.1 609.3 1339.5 615.6 1333.0C621.9 1326.5 630.7 1319.7 637.8 1313.0C644.9 1306.3 651.5 1300.2 658.0 1293.0C664.5 1285.8 670.4 1278.5 676.7 1270.0C683.0 1261.5 688.8 1249.8 695.6 1242.2C702.5 1234.6 710.4 1227.7 717.8 1224.4C725.2 1221.1 732.6 1222.0 740.0 1222.2C747.4 1222.4 755.9 1224.8 762.2 1225.6C768.5 1226.3 772.2 1227.3 777.8 1226.7C783.4 1226.1 789.7 1226.3 795.6 1222.2C801.5 1218.1 807.4 1207.4 813.3 1202.2C819.2 1197.0 825.1 1192.8 831.1 1191.1C837.1 1189.4 843.6 1191.2 849.0 1192.0C854.4 1192.8 858.8 1194.3 863.6 1196.2C868.5 1198.1 873.3 1200.8 878.1 1203.5C882.9 1206.2 887.8 1209.3 892.6 1212.2C897.5 1215.1 902.8 1221.2 907.2 1221.0C911.6 1220.8 914.9 1215.9 918.8 1210.8C922.7 1205.7 927.9 1195.5 930.4 1190.4C932.9 1185.3 933.0 1181.7 933.5 1180.0" stroke="#1ad4da" stroke-width="7" fill="none" stroke-linejoin="round" stroke-linecap="round"/><path d="M0.0 1025.6C2.6 1028.2 10.4 1034.6 15.6 1041.0C20.8 1047.4 26.2 1057.2 31.0 1064.0C35.8 1070.8 39.9 1075.3 44.4 1082.0C48.9 1088.7 54.1 1097.3 57.8 1104.0C61.5 1110.7 63.0 1115.7 66.7 1122.0C70.4 1128.3 75.6 1135.0 80.0 1142.0C84.4 1149.0 88.1 1156.2 93.3 1164.0C98.5 1171.8 104.4 1180.8 111.0 1189.0C117.6 1197.2 125.6 1204.8 133.0 1213.0C140.4 1221.2 148.9 1231.7 155.6 1238.0C162.3 1244.3 167.4 1246.8 173.0 1251.0C178.6 1255.2 184.5 1258.8 189.0 1263.0C193.5 1267.2 196.3 1271.7 200.0 1276.0C203.7 1280.3 207.3 1285.2 211.0 1289.0C214.7 1292.8 218.5 1295.8 222.0 1299.0C225.5 1302.2 228.5 1305.3 232.0 1308.0C235.5 1310.7 238.9 1313.7 243.0 1315.0C247.1 1316.3 251.5 1316.1 256.7 1315.6C261.9 1315.1 268.8 1313.3 274.4 1312.0C279.9 1310.7 284.4 1309.8 290.0 1307.8C295.6 1305.8 302.2 1302.2 307.8 1300.0C313.4 1297.8 317.8 1296.2 323.3 1294.4C328.8 1292.6 334.3 1291.1 341.0 1289.0C347.7 1286.9 355.9 1284.4 363.3 1282.0C370.7 1279.6 378.2 1276.1 385.6 1274.4C393.0 1272.7 401.1 1271.2 407.8 1272.0C414.5 1272.8 420.1 1275.8 425.6 1279.0C431.1 1282.2 435.3 1287.2 441.0 1291.0C446.7 1294.8 452.4 1298.5 460.0 1302.0C467.6 1305.5 479.3 1309.5 486.7 1312.0C494.1 1314.5 497.7 1315.0 504.4 1316.7C511.1 1318.4 519.3 1319.6 526.7 1322.0C534.1 1324.4 541.5 1328.7 548.9 1331.0C556.3 1333.3 565.1 1334.6 571.0 1335.6C576.9 1336.5 579.9 1337.5 584.4 1336.7C588.9 1335.9 592.6 1333.5 597.8 1331.0C603.0 1328.5 608.9 1325.7 615.6 1322.0C622.3 1318.3 630.8 1313.4 637.8 1309.0C644.8 1304.6 651.5 1300.4 657.8 1295.6C664.1 1290.8 669.3 1285.2 675.6 1280.0C681.9 1274.8 688.6 1269.0 695.6 1264.4C702.6 1259.8 710.4 1254.8 717.8 1252.2C725.2 1249.6 732.6 1249.6 740.0 1248.9C747.4 1248.2 753.7 1248.3 762.2 1247.8C770.7 1247.2 783.3 1247.6 791.1 1245.6C798.9 1243.6 802.2 1239.7 808.9 1235.6C815.6 1231.5 824.4 1223.7 831.1 1221.1C837.8 1218.5 843.6 1220.2 849.0 1220.2C854.4 1220.2 858.8 1220.4 863.6 1221.0C868.5 1221.6 873.3 1222.6 878.1 1223.8C882.9 1225.0 887.8 1226.7 892.6 1228.2C897.5 1229.7 902.8 1232.8 907.2 1232.6C911.6 1232.3 914.4 1230.8 918.8 1226.7C923.1 1222.6 930.9 1211.0 933.3 1207.9" stroke="#031108" stroke-width="4.6" fill="none" stroke-linejoin="round" stroke-linecap="round"/><path d="M1.0 1282.2V1322.3M7.2 1270.8V1355.3M10.3 1288.5V1312.0M13.4 1279.1V1324.0M32.0 1356.6V1431.7M35.1 1329.4V1389.2M47.5 1379.8V1459.1M59.9 1496.7V1570.2M69.2 1489.9V1569.1M75.4 1540.1V1571.1M81.6 1532.4V1558.5M87.8 1482.8V1589.2M97.1 1486.2V1617.5M100.2 1432.0V1524.4M109.5 1454.0V1525.8M115.7 1443.9V1529.5M128.1 1437.4V1492.0M137.4 1437.7V1508.7M152.9 1400.8V1528.6M156.0 1359.9V1445.1M159.1 1382.9V1447.2M168.4 1380.7V1437.9M177.7 1394.0V1434.9M183.9 1430.0V1441.8M190.1 1491.9V1523.8M196.3 1467.6V1560.3M205.6 1539.0V1569.9M208.7 1521.9V1555.0M211.8 1522.1V1541.1M218.0 1520.9V1547.4M221.1 1498.0V1559.2M227.3 1367.5V1521.1M233.5 1384.6V1484.2M239.7 1383.2V1420.7M242.8 1336.4V1402.7M245.9 1331.3V1377.5M255.2 1307.5V1361.8M258.3 1279.6V1367.9M264.5 1271.2V1337.9M270.7 1222.7V1275.2M276.9 1159.3V1283.6M286.2 1153.6V1303.8M289.3 1117.8V1201.6M292.4 1117.7V1158.8M301.7 1131.0V1233.5M311.0 1149.9V1197.4M317.2 1190.4V1230.8M332.7 1253.2V1287.2M335.8 1220.0V1264.5M338.9 1155.4V1244.7M345.1 1157.2V1234.7M351.3 1158.6V1204.5M354.4 1147.0V1172.3M360.6 1171.7V1211.3M369.9 1185.1V1223.1M373.0 1178.3V1198.1M385.4 1233.9V1280.0M388.5 1200.6V1254.6M397.8 1220.3V1257.3M404.0 1226.8V1253.5M413.3 1331.9V1400.3M419.5 1354.7V1386.0M425.7 1377.8V1467.8M428.8 1332.1V1442.4M435.0 1400.8V1467.6M444.3 1427.9V1480.3M447.4 1430.1V1465.4M450.5 1398.5V1478.8M453.6 1351.2V1474.5M459.8 1306.0V1419.3M469.1 1415.4V1481.2M475.3 1371.1V1429.5M478.4 1372.3V1398.9M481.5 1336.8V1392.4M484.6 1340.8V1373.4M487.7 1329.4V1373.7M490.8 1348.6V1379.8M500.1 1362.3V1377.3M506.3 1322.7V1422.7M512.5 1365.0V1393.3M515.6 1362.0V1385.5M528.0 1436.9V1489.2M531.1 1410.3V1458.1M534.2 1365.5V1414.5M543.5 1368.8V1428.2M549.7 1344.9V1393.5M552.8 1342.1V1382.7M559.0 1377.4V1411.3M565.2 1364.9V1394.4M568.3 1377.7V1405.5M574.5 1336.9V1396.6M580.7 1355.6V1401.1M583.8 1265.7V1383.5M586.9 1129.4V1311.1M596.2 1192.4V1289.5M605.5 1183.9V1229.2M608.6 1152.3V1211.4M611.7 1177.3V1200.7M617.9 1151.3V1209.3M627.2 1143.5V1239.0M633.4 1143.7V1168.0M642.7 1114.2V1196.5M648.9 1137.9V1178.2M652.0 1139.9V1181.0M655.1 1126.6V1149.4M664.4 1133.4V1164.7M667.5 1085.1V1142.7M670.6 1029.0V1115.0M679.9 1075.1V1120.9M683.0 998.4V1089.6M698.5 994.4V1145.7M707.8 1106.6V1164.7M717.1 1170.2V1244.0M720.2 1164.3V1222.4M732.6 1195.1V1233.8M738.8 1171.0V1238.6M745.0 1211.0V1256.5M751.2 1192.0V1267.0M757.4 1188.2V1262.5M763.6 1213.2V1250.1M769.8 1198.1V1261.2M776.0 1211.8V1247.9M782.2 1160.3V1236.2M785.3 1160.2V1192.1M791.5 1069.4V1181.0M797.7 1105.6V1173.7M800.8 1101.4V1124.1M803.9 1095.8V1132.9M807.0 1057.3V1100.7M810.1 1060.0V1111.7M816.3 973.9V1080.5M822.5 1043.8V1076.2M828.7 1016.1V1110.2M838.0 1102.8V1255.5M847.3 1219.4V1280.6M850.4 1140.7V1254.7M859.7 1145.1V1246.5M865.9 1216.5V1264.4M872.1 1203.6V1313.6M875.2 1251.3V1293.4M881.4 1267.5V1334.9M887.6 1274.3V1347.2M890.7 1243.0V1317.0M896.9 1280.1V1328.0M900.0 1288.0V1327.1M903.1 1218.5V1303.0M906.2 1197.7V1227.0M909.3 1136.3V1235.8M915.5 1031.6V1136.4M918.6 904.4V1029.6M924.8 936.2V1033.5M927.9 911.1V946.7M931.0 907.6V936.1" stroke="#d94d5a" stroke-width="1.9" fill="none"/><path d="M4.1 1284.5V1333.4M16.5 1290.3V1334.5M19.6 1326.4V1351.0M22.7 1315.4V1384.9M25.8 1348.3V1421.3M28.9 1397.0V1469.4M38.2 1332.7V1417.4M41.3 1397.4V1417.4M44.4 1403.0V1472.8M50.6 1402.0V1509.7M53.7 1503.3V1548.4M56.8 1519.5V1558.8M63.0 1530.1V1590.9M66.1 1529.1V1581.8M72.3 1512.3V1555.1M78.5 1543.9V1576.3M84.7 1536.8V1577.1M90.9 1508.0V1573.4M94.0 1522.3V1619.2M103.3 1447.4V1520.5M106.4 1441.1V1546.4M112.6 1462.9V1571.9M118.8 1440.5V1483.5M121.9 1464.3V1491.1M125.0 1460.9V1511.2M131.2 1458.4V1494.8M134.3 1481.4V1524.5M140.5 1448.4V1464.6M143.6 1452.9V1471.0M146.7 1459.7V1490.1M149.8 1473.0V1542.7M162.2 1381.2V1427.3M165.3 1388.4V1456.1M171.5 1392.6V1410.2M174.6 1406.0V1433.6M180.8 1402.8V1438.5M187.0 1444.6V1510.3M193.2 1462.6V1536.8M199.4 1496.0V1515.4M202.5 1488.2V1566.4M214.9 1522.6V1539.5M224.2 1475.1V1547.9M230.4 1384.3V1526.9M236.6 1381.4V1484.0M249.0 1327.7V1359.9M252.1 1341.4V1366.3M261.4 1269.9V1335.4M267.6 1251.7V1304.4M273.8 1234.0V1310.9M280.0 1198.0V1255.6M283.1 1219.3V1334.2M295.5 1153.0V1205.9M298.6 1173.6V1257.2M304.8 1168.7V1184.5M307.9 1176.6V1211.0M314.1 1153.1V1216.1M320.3 1181.2V1239.7M323.4 1197.3V1272.0M326.5 1230.6V1276.0M329.6 1239.1V1299.6M342.0 1173.8V1261.4M348.2 1161.3V1260.2M357.5 1162.2V1223.7M363.7 1154.1V1200.9M366.8 1149.3V1232.5M376.1 1189.3V1271.3M379.2 1236.7V1308.7M382.3 1259.7V1341.8M391.6 1204.4V1237.2M394.7 1237.7V1269.1M400.9 1223.7V1262.6M407.1 1216.7V1281.5M410.2 1280.1V1406.0M416.4 1332.5V1375.3M422.6 1358.2V1457.2M431.9 1384.2V1479.2M438.1 1425.1V1463.5M441.2 1443.7V1500.7M456.7 1355.7V1414.0M462.9 1356.3V1411.9M466.0 1388.3V1447.1M472.2 1396.8V1433.5M493.9 1351.1V1375.0M497.0 1368.1V1378.6M503.2 1367.1V1458.6M509.4 1347.2V1406.1M518.7 1357.5V1390.2M521.8 1363.1V1398.9M524.9 1385.4V1498.2M537.3 1384.4V1444.9M540.4 1412.7V1431.7M546.6 1365.8V1405.2M555.9 1363.9V1419.6M562.1 1357.3V1409.2M571.4 1352.5V1406.3M577.6 1355.4V1405.1M590.0 1159.8V1318.6M593.1 1208.8V1298.0M599.3 1181.9V1267.8M602.4 1214.8V1236.3M614.8 1168.3V1213.5M621.0 1155.5V1188.4M624.1 1157.4V1209.5M630.3 1133.6V1174.8M636.5 1153.2V1174.1M639.6 1144.6V1205.0M645.8 1116.6V1201.3M658.2 1100.0V1202.4M661.3 1159.6V1195.0M673.7 1052.3V1103.9M676.8 1043.8V1119.8M686.1 1026.5V1094.6M689.2 1059.8V1101.3M692.3 1059.6V1099.4M695.4 1045.0V1124.7M701.6 1058.4V1167.0M704.7 1097.1V1168.5M710.9 1116.2V1203.5M714.0 1150.3V1272.2M723.3 1155.3V1229.5M726.4 1190.5V1268.4M729.5 1194.3V1239.0M735.7 1185.2V1225.9M741.9 1178.6V1243.8M748.1 1203.9V1270.5M754.3 1178.2V1268.2M760.5 1211.4V1258.6M766.7 1217.8V1258.4M772.9 1203.6V1249.9M779.1 1195.4V1255.9M788.4 1152.1V1198.4M794.6 1096.5V1176.1M813.2 1062.5V1110.1M819.4 1026.4V1091.3M825.6 1050.5V1104.4M831.8 1076.9V1298.9M834.9 1218.4V1254.8M841.1 1129.1V1231.8M844.2 1196.6V1304.6M853.5 1152.8V1174.2M856.6 1150.8V1250.6M862.8 1177.3V1287.1M869.0 1234.4V1322.7M878.3 1258.4V1336.3M884.5 1288.1V1321.2M893.8 1285.3V1336.0M912.4 1133.1V1194.3M921.7 931.9V1017.2" stroke="#3a7bd8" stroke-width="1.9" fill="none"/><path d="M1.0 1293.0V1304.4M7.2 1306.5V1318.4M10.3 1297.5V1301.0M13.4 1287.9V1305.0M32.0 1374.4V1421.9M35.1 1352.2V1380.1M47.5 1401.7V1430.9M59.9 1524.0V1553.3M69.2 1509.1V1562.2M75.4 1545.0V1548.3M81.6 1542.0V1549.9M87.8 1498.2V1561.1M97.1 1519.0V1585.0M100.2 1459.2V1508.4M109.5 1486.2V1503.9M115.7 1451.3V1494.1M128.1 1466.2V1491.3M137.4 1450.0V1501.2M152.9 1442.5V1490.8M156.0 1400.4V1442.5M159.1 1389.2V1407.1M168.4 1398.1V1432.4M177.7 1401.7V1426.6M183.9 1434.5V1436.5M190.1 1500.9V1502.9M196.3 1489.9V1526.3M205.6 1544.7V1549.0M208.7 1538.9V1552.0M211.8 1532.1V1541.0M218.0 1526.0V1533.1M221.1 1507.4V1516.0M227.3 1406.7V1504.3M233.5 1390.0V1470.6M239.7 1409.8V1418.8M242.8 1344.0V1400.8M245.9 1332.1V1345.2M255.2 1323.4V1337.9M258.3 1295.5V1317.9M264.5 1287.7V1317.5M270.7 1247.7V1274.7M276.9 1174.3V1269.2M286.2 1191.2V1265.4M289.3 1143.1V1189.1M292.4 1148.6V1157.2M301.7 1167.8V1221.2M311.0 1172.1V1188.9M317.2 1209.3V1217.0M332.7 1255.8V1263.6M335.8 1234.9V1247.3M338.9 1166.4V1227.7M345.1 1165.5V1233.1M351.3 1164.1V1192.4M354.4 1161.8V1169.4M360.6 1184.5V1189.4M369.9 1189.2V1214.9M373.0 1179.6V1194.8M385.4 1247.5V1272.5M388.5 1226.6V1247.5M397.8 1233.0V1251.3M404.0 1228.0V1247.6M413.3 1334.1V1378.1M419.5 1355.8V1371.7M425.7 1389.1V1438.6M428.8 1360.8V1402.3M435.0 1438.0V1458.1M444.3 1463.7V1475.1M447.4 1433.1V1461.8M450.5 1414.8V1435.6M453.6 1398.9V1419.9M459.8 1348.2V1416.2M469.1 1422.2V1425.0M475.3 1397.9V1411.1M478.4 1390.9V1396.8M481.5 1362.6V1379.8M484.6 1355.3V1361.7M487.7 1349.1V1355.3M490.8 1350.7V1354.9M500.1 1375.4V1377.4M506.3 1329.7V1418.6M512.5 1385.8V1393.0M515.6 1367.9V1384.1M528.0 1458.2V1463.4M531.1 1416.5V1444.9M534.2 1383.8V1413.7M543.5 1381.9V1415.3M549.7 1369.7V1391.8M552.8 1367.4V1372.1M559.0 1379.9V1405.9M565.2 1386.7V1393.5M568.3 1378.5V1381.2M574.5 1353.1V1394.7M580.7 1374.8V1387.1M583.8 1289.9V1353.1M586.9 1169.6V1279.2M596.2 1225.6V1263.2M605.5 1207.5V1219.7M608.6 1183.3V1204.8M611.7 1186.0V1191.1M617.9 1161.9V1206.7M627.2 1146.0V1202.3M633.4 1153.3V1158.1M642.7 1114.6V1174.7M648.9 1150.7V1165.2M652.0 1149.3V1151.3M655.1 1136.5V1148.0M664.4 1136.8V1161.8M667.5 1099.8V1126.6M670.6 1048.1V1102.5M679.9 1082.0V1087.7M683.0 1014.3V1074.4M698.5 1038.9V1099.1M707.8 1115.9V1139.1M717.1 1187.6V1234.0M720.2 1170.5V1188.0M732.6 1202.7V1228.1M738.8 1187.1V1210.1M745.0 1211.9V1235.9M751.2 1207.5V1240.7M757.4 1221.7V1245.2M763.6 1216.0V1239.0M769.8 1207.4V1247.7M776.0 1214.2V1241.8M782.2 1187.6V1229.9M785.3 1170.1V1189.6M791.5 1090.7V1171.4M797.7 1117.0V1152.5M800.8 1104.3V1115.6M803.9 1098.9V1100.9M807.0 1080.1V1097.9M810.1 1073.8V1076.5M816.3 1026.6V1079.9M822.5 1054.0V1065.0M828.7 1051.6V1097.4M838.0 1139.5V1228.1M847.3 1236.7V1240.8M850.4 1150.2V1225.2M859.7 1164.7V1229.2M865.9 1220.3V1259.2M872.1 1267.7V1299.9M875.2 1255.4V1271.2M881.4 1305.8V1320.5M887.6 1302.9V1312.5M890.7 1293.3V1305.3M896.9 1307.1V1321.9M900.0 1301.2V1303.2M903.1 1229.5V1290.1M906.2 1214.9V1224.1M909.3 1166.4V1202.4M915.5 1039.9V1121.4M918.6 938.7V1027.4M924.8 975.4V990.8M927.9 913.6V946.0M931.0 908.2V911.1" stroke="#d94d5a" stroke-width="2.8" fill="none"/><path d="M4.1 1292.9V1329.5M16.5 1303.9V1329.2M19.6 1343.7V1345.7M22.7 1358.7V1378.0M25.8 1379.7V1403.5M28.9 1399.5V1441.4M38.2 1362.5V1402.7M41.3 1408.0V1410.0M44.4 1413.4V1433.9M50.6 1415.9V1507.1M53.7 1503.9V1529.5M56.8 1522.4V1555.6M63.0 1533.1V1575.0M66.1 1566.9V1569.7M72.3 1515.5V1549.9M78.5 1544.5V1550.5M84.7 1542.5V1567.1M90.9 1509.2V1551.9M94.0 1539.8V1614.2M103.3 1463.9V1486.3M106.4 1483.5V1516.2M112.6 1478.9V1518.6M118.8 1453.9V1482.2M121.9 1481.0V1484.1M125.0 1475.4V1494.2M131.2 1467.4V1477.3M134.3 1481.5V1511.3M140.5 1459.1V1461.3M143.6 1460.7V1468.1M146.7 1469.0V1481.2M149.8 1480.4V1508.7M162.2 1401.9V1409.0M165.3 1405.0V1445.8M171.5 1400.3V1406.8M174.6 1416.7V1421.3M180.8 1408.7V1430.2M187.0 1444.6V1504.4M193.2 1503.3V1535.5M199.4 1506.7V1511.6M202.5 1523.8V1545.6M214.9 1534.8V1539.1M224.2 1503.8V1517.4M230.4 1422.2V1487.6M236.6 1392.3V1437.5M249.0 1334.5V1350.0M252.1 1342.8V1350.5M261.4 1286.1V1330.1M267.6 1277.1V1282.5M273.8 1250.8V1273.2M280.0 1198.2V1224.7M283.1 1230.1V1286.8M295.5 1156.4V1195.5M298.6 1188.7V1237.1M304.8 1170.6V1182.8M307.9 1184.1V1192.6M314.1 1179.8V1215.5M320.3 1214.3V1232.9M323.4 1235.5V1241.0M326.5 1240.3V1268.1M329.6 1256.2V1276.8M342.0 1181.7V1243.3M348.2 1169.3V1192.5M357.5 1172.5V1188.3M363.7 1193.2V1198.1M366.8 1195.4V1221.6M376.1 1192.3V1247.9M379.2 1243.8V1276.3M382.3 1262.8V1288.2M391.6 1234.8V1236.8M394.7 1239.4V1252.3M400.9 1230.8V1248.2M407.1 1243.3V1275.7M410.2 1281.0V1397.0M416.4 1338.1V1365.9M422.6 1375.1V1448.1M431.9 1389.0V1460.4M438.1 1445.3V1454.3M441.2 1455.4V1481.7M456.7 1402.0V1412.3M462.9 1370.7V1395.9M466.0 1393.1V1432.6M472.2 1414.1V1421.7M493.9 1358.0V1367.7M497.0 1371.5V1374.6M503.2 1370.1V1432.6M509.4 1347.5V1399.6M518.7 1368.6V1370.6M521.8 1377.4V1384.2M524.9 1397.5V1485.3M537.3 1386.0V1428.5M540.4 1421.8V1424.5M546.6 1386.2V1391.2M555.9 1373.5V1413.5M562.1 1381.3V1405.6M571.4 1375.5V1403.9M577.6 1357.3V1404.3M590.0 1188.9V1254.1M593.1 1248.1V1288.1M599.3 1223.0V1228.2M602.4 1222.9V1232.4M614.8 1183.7V1210.4M621.0 1166.1V1188.3M624.1 1185.2V1208.0M630.3 1149.9V1161.3M636.5 1155.7V1172.0M639.6 1166.6V1184.2M645.8 1130.2V1179.2M658.2 1134.3V1176.9M661.3 1161.4V1177.2M673.7 1060.0V1062.0M676.8 1058.7V1101.4M686.1 1030.0V1074.7M689.2 1071.1V1083.3M692.3 1081.4V1093.7M695.4 1086.0V1098.8M701.6 1060.3V1137.7M704.7 1132.0V1144.0M710.9 1121.6V1195.1M714.0 1186.2V1254.6M723.3 1178.5V1201.9M726.4 1208.8V1230.6M729.5 1228.5V1236.5M735.7 1208.9V1210.9M741.9 1203.2V1239.0M748.1 1215.7V1239.4M754.3 1217.7V1252.1M760.5 1224.1V1238.1M766.7 1222.3V1249.8M772.9 1221.9V1238.0M779.1 1218.3V1238.0M788.4 1169.2V1181.8M794.6 1105.8V1165.6M813.2 1071.4V1086.8M819.4 1036.2V1066.9M825.6 1062.4V1090.5M831.8 1088.6V1260.3M834.9 1233.3V1243.9M841.1 1154.3V1218.4M844.2 1212.9V1264.6M853.5 1165.0V1171.5M856.6 1182.9V1230.8M862.8 1191.4V1256.8M869.0 1237.3V1310.5M878.3 1258.6V1330.4M884.5 1303.5V1310.3M893.8 1303.8V1333.6M912.4 1149.7V1169.0M921.7 948.3V1004.9" stroke="#3a7bd8" stroke-width="2.8" fill="none"/><path d="M65.5 1560V1657M923 832V1000M934.5 816V880" stroke="#d9404b" stroke-width="1.6"/><rect x="940" y="817.5" width="140" height="36" fill="#e05862"/><text x="943" y="844" font-size="26" fill="#fff" textLength="121">3,981,000</text><text x="943" y="1025" font-size="26" fill="#333" textLength="121">3,750,000</text><text x="943" y="1225" font-size="26" fill="#333" textLength="121">3,500,000</text><text x="943" y="1428" font-size="26" fill="#333" textLength="121">3,250,000</text><text x="943" y="1649" font-size="26" fill="#333" textLength="121">2,955,000</text><rect x="0" y="1658" width="1080" height="36" fill="#eceef2"/><text x="-8" y="1685.5" font-size="25.5" fill="#444">0 (KST)</text><text x="298.5" y="1685.5" font-size="25.5" fill="#444" textLength="202">01일 01:00 (KST)</text><text x="733.5" y="1685.5" font-size="25.5" fill="#444" textLength="202">01일 01:00 (KST)</text><path d="M993 1674h30l-15-12zM993 1678h30l-15 12z" fill="#8a8a8a"/><path d="M6.5 1701.0V1718.0M6.5 1733.0V1750.0M6.5 1764.9V1781.9M6.5 1796.9V1813.9M6.5 1828.8V1845.8M6.5 1860.8V1877.8M6.5 1892.7V1909.7M6.5 1924.7V1941.7M20.5 1701.0V1718.0M20.5 1733.0V1750.0M20.5 1764.9V1781.9M20.5 1796.9V1813.9M20.5 1828.8V1845.8M20.5 1860.8V1877.8M20.5 1892.7V1909.7M20.5 1924.7V1941.7M34.6 1701.0V1718.0M34.6 1733.0V1750.0M34.6 1764.9V1781.9M34.6 1796.9V1813.9M34.6 1828.8V1845.8M34.6 1860.8V1877.8M34.6 1892.7V1909.7M34.6 1924.7V1941.7M48.6 1701.0V1718.0M48.6 1733.0V1750.0M48.6 1764.9V1781.9M48.6 1796.9V1813.9M48.6 1828.8V1845.8M48.6 1860.8V1877.8M48.6 1892.7V1909.7M48.6 1924.7V1941.7M62.7 1701.0V1718.0M62.7 1733.0V1750.0M62.7 1764.9V1781.9M62.7 1796.9V1813.9M62.7 1828.8V1845.8M62.7 1860.8V1877.8M62.7 1892.7V1909.7M62.7 1924.7V1941.7M76.7 1701.0V1718.0M76.7 1733.0V1750.0M76.7 1764.9V1781.9M76.7 1796.9V1813.9M76.7 1828.8V1845.8M76.7 1860.8V1877.8M76.7 1892.7V1909.7M76.7 1924.7V1941.7M90.7 1701.0V1718.0M90.7 1733.0V1750.0M90.7 1764.9V1781.9M90.7 1796.9V1813.9M90.7 1828.8V1845.8M90.7 1860.8V1877.8M90.7 1892.7V1909.7M90.7 1924.7V1941.7M104.8 1701.0V1718.0M104.8 1733.0V1750.0M104.8 1764.9V1781.9M104.8 1796.9V1813.9M104.8 1828.8V1845.8M104.8 1860.8V1877.8M104.8 1892.7V1909.7M104.8 1924.7V1941.7M118.8 1701.0V1718.0M118.8 1733.0V1750.0M118.8 1764.9V1781.9M118.8 1796.9V1813.9M118.8 1828.8V1845.8M118.8 1860.8V1877.8M118.8 1892.7V1909.7M118.8 1924.7V1941.7M132.9 1701.0V1718.0M132.9 1733.0V1750.0M132.9 1764.9V1781.9M132.9 1796.9V1813.9M132.9 1828.8V1845.8M132.9 1860.8V1877.8M132.9 1892.7V1909.7M132.9 1924.7V1941.7M146.9 1701.0V1718.0M146.9 1733.0V1750.0M146.9 1764.9V1781.9M146.9 1796.9V1813.9M146.9 1828.8V1845.8M146.9 1860.8V1877.8M146.9 1892.7V1909.7M146.9 1924.7V1941.7M160.9 1701.0V1718.0M160.9 1733.0V1750.0M160.9 1764.9V1781.9M160.9 1796.9V1813.9M160.9 1828.8V1845.8M160.9 1860.8V1877.8M160.9 1892.7V1909.7M160.9 1924.7V1941.7M175.0 1701.0V1718.0M175.0 1733.0V1750.0M175.0 1764.9V1781.9M175.0 1796.9V1813.9M175.0 1828.8V1845.8M175.0 1860.8V1877.8M175.0 1892.7V1909.7M175.0 1924.7V1941.7M189.0 1701.0V1718.0M189.0 1733.0V1750.0M189.0 1764.9V1781.9M189.0 1796.9V1813.9M189.0 1828.8V1845.8M189.0 1860.8V1877.8M189.0 1892.7V1909.7M189.0 1924.7V1941.7M203.1 1701.0V1718.0M203.1 1733.0V1750.0M203.1 1764.9V1781.9M203.1 1796.9V1813.9M203.1 1828.8V1845.8M203.1 1860.8V1877.8M203.1 1892.7V1909.7M203.1 1924.7V1941.7M217.1 1701.0V1718.0M217.1 1733.0V1750.0M217.1 1764.9V1781.9M217.1 1796.9V1813.9M217.1 1828.8V1845.8M217.1 1860.8V1877.8M217.1 1892.7V1909.7M217.1 1924.7V1941.7M231.1 1701.0V1718.0M231.1 1733.0V1750.0M231.1 1764.9V1781.9M231.1 1796.9V1813.9M231.1 1828.8V1845.8M231.1 1860.8V1877.8M231.1 1892.7V1909.7M231.1 1924.7V1941.7M245.2 1701.0V1718.0M245.2 1733.0V1750.0M245.2 1764.9V1781.9M245.2 1796.9V1813.9M245.2 1828.8V1845.8M245.2 1860.8V1877.8M245.2 1892.7V1909.7M245.2 1924.7V1941.7M259.2 1701.0V1718.0M259.2 1733.0V1750.0M259.2 1764.9V1781.9M259.2 1796.9V1813.9M259.2 1828.8V1845.8M259.2 1860.8V1877.8M259.2 1892.7V1909.7M259.2 1924.7V1941.7M273.3 1701.0V1718.0M273.3 1733.0V1750.0M273.3 1764.9V1781.9M273.3 1796.9V1813.9M273.3 1828.8V1845.8M273.3 1860.8V1877.8M273.3 1892.7V1909.7M273.3 1924.7V1941.7M287.3 1701.0V1718.0M287.3 1733.0V1750.0M287.3 1764.9V1781.9M287.3 1796.9V1813.9M287.3 1828.8V1845.8M287.3 1860.8V1877.8M287.3 1892.7V1909.7M287.3 1924.7V1941.7M301.3 1701.0V1718.0M301.3 1733.0V1750.0M301.3 1764.9V1781.9M301.3 1796.9V1813.9M301.3 1828.8V1845.8M301.3 1860.8V1877.8M301.3 1892.7V1909.7M301.3 1924.7V1941.7M315.4 1701.0V1718.0M315.4 1733.0V1750.0M315.4 1764.9V1781.9M315.4 1796.9V1813.9M315.4 1828.8V1845.8M315.4 1860.8V1877.8M315.4 1892.7V1909.7M315.4 1924.7V1941.7M329.4 1701.0V1718.0M329.4 1733.0V1750.0M329.4 1764.9V1781.9M329.4 1796.9V1813.9M329.4 1828.8V1845.8M329.4 1860.8V1877.8M329.4 1892.7V1909.7M329.4 1924.7V1941.7M343.5 1701.0V1718.0M343.5 1733.0V1750.0M343.5 1764.9V1781.9M343.5 1796.9V1813.9M343.5 1828.8V1845.8M343.5 1860.8V1877.8M343.5 1892.7V1909.7M343.5 1924.7V1941.7M357.5 1701.0V1718.0M357.5 1733.0V1750.0M357.5 1764.9V1781.9M357.5 1796.9V1813.9M357.5 1828.8V1845.8M357.5 1860.8V1877.8M357.5 1892.7V1909.7M357.5 1924.7V1941.7M371.5 1701.0V1718.0M371.5 1733.0V1750.0M371.5 1764.9V1781.9M371.5 1796.9V1813.9M371.5 1828.8V1845.8M371.5 1860.8V1877.8M371.5 1892.7V1909.7M371.5 1924.7V1941.7M385.6 1701.0V1718.0M385.6 1733.0V1750.0M385.6 1764.9V1781.9M385.6 1796.9V1813.9M385.6 1828.8V1845.8M385.6 1860.8V1877.8M385.6 1892.7V1909.7M385.6 1924.7V1941.7M399.6 1701.0V1718.0M399.6 1733.0V1750.0M399.6 1764.9V1781.9M399.6 1796.9V1813.9M399.6 1828.8V1845.8M399.6 1860.8V1877.8M399.6 1892.7V1909.7M399.6 1924.7V1941.7M413.7 1701.0V1718.0M413.7 1733.0V1750.0M413.7 1764.9V1781.9M413.7 1796.9V1813.9M413.7 1828.8V1845.8M413.7 1860.8V1877.8M413.7 1892.7V1909.7M413.7 1924.7V1941.7M427.7 1701.0V1718.0M427.7 1733.0V1750.0M427.7 1764.9V1781.9M427.7 1796.9V1813.9M427.7 1828.8V1845.8M427.7 1860.8V1877.8M427.7 1892.7V1909.7M427.7 1924.7V1941.7M441.7 1701.0V1718.0M441.7 1733.0V1750.0M441.7 1764.9V1781.9M441.7 1796.9V1813.9M441.7 1828.8V1845.8M441.7 1860.8V1877.8M441.7 1892.7V1909.7M441.7 1924.7V1941.7M455.8 1701.0V1718.0M455.8 1733.0V1750.0M455.8 1764.9V1781.9M455.8 1796.9V1813.9M455.8 1828.8V1845.8M455.8 1860.8V1877.8M455.8 1892.7V1909.7M455.8 1924.7V1941.7M469.8 1701.0V1718.0M469.8 1733.0V1750.0M469.8 1764.9V1781.9M469.8 1796.9V1813.9M469.8 1828.8V1845.8M469.8 1860.8V1877.8M469.8 1892.7V1909.7M469.8 1924.7V1941.7M483.9 1701.0V1718.0M483.9 1733.0V1750.0M483.9 1764.9V1781.9M483.9 1796.9V1813.9M483.9 1828.8V1845.8M483.9 1860.8V1877.8M483.9 1892.7V1909.7M483.9 1924.7V1941.7M497.9 1701.0V1718.0M497.9 1733.0V1750.0M497.9 1764.9V1781.9M497.9 1796.9V1813.9M497.9 1828.8V1845.8M497.9 1860.8V1877.8M497.9 1892.7V1909.7M497.9 1924.7V1941.7M511.9 1701.0V1718.0M511.9 1733.0V1750.0M511.9 1764.9V1781.9M511.9 1796.9V1813.9M511.9 1828.8V1845.8M511.9 1860.8V1877.8M511.9 1892.7V1909.7M511.9 1924.7V1941.7M526.0 1701.0V1718.0M526.0 1733.0V1750.0M526.0 1764.9V1781.9M526.0 1796.9V1813.9M526.0 1828.8V1845.8M526.0 1860.8V1877.8M526.0 1892.7V1909.7M526.0 1924.7V1941.7M540.0 1701.0V1718.0M540.0 1733.0V1750.0M540.0 1764.9V1781.9M540.0 1796.9V1813.9M540.0 1828.8V1845.8M540.0 1860.8V1877.8M540.0 1892.7V1909.7M540.0 1924.7V1941.7M554.1 1701.0V1718.0M554.1 1733.0V1750.0M554.1 1764.9V1781.9M554.1 1796.9V1813.9M554.1 1828.8V1845.8M554.1 1860.8V1877.8M554.1 1892.7V1909.7M554.1 1924.7V1941.7M568.1 1701.0V1718.0M568.1 1733.0V1750.0M568.1 1764.9V1781.9M568.1 1796.9V1813.9M568.1 1828.8V1845.8M568.1 1860.8V1877.8M568.1 1892.7V1909.7M568.1 1924.7V1941.7M582.1 1701.0V1718.0M582.1 1733.0V1750.0M582.1 1764.9V1781.9M582.1 1796.9V1813.9M582.1 1828.8V1845.8M582.1 1860.8V1877.8M582.1 1892.7V1909.7M582.1 1924.7V1941.7M596.2 1701.0V1718.0M596.2 1733.0V1750.0M596.2 1764.9V1781.9M596.2 1796.9V1813.9M596.2 1828.8V1845.8M596.2 1860.8V1877.8M596.2 1892.7V1909.7M596.2 1924.7V1941.7M610.2 1701.0V1718.0M610.2 1733.0V1750.0M610.2 1764.9V1781.9M610.2 1796.9V1813.9M610.2 1828.8V1845.8M610.2 1860.8V1877.8M610.2 1892.7V1909.7M610.2 1924.7V1941.7M624.3 1701.0V1718.0M624.3 1733.0V1750.0M624.3 1764.9V1781.9M624.3 1796.9V1813.9M624.3 1828.8V1845.8M624.3 1860.8V1877.8M624.3 1892.7V1909.7M624.3 1924.7V1941.7M638.3 1701.0V1718.0M638.3 1733.0V1750.0M638.3 1764.9V1781.9M638.3 1796.9V1813.9M638.3 1828.8V1845.8M638.3 1860.8V1877.8M638.3 1892.7V1909.7M638.3 1924.7V1941.7M652.3 1701.0V1718.0M652.3 1733.0V1750.0M652.3 1764.9V1781.9M652.3 1796.9V1813.9M652.3 1828.8V1845.8M652.3 1860.8V1877.8M652.3 1892.7V1909.7M652.3 1924.7V1941.7M666.4 1701.0V1718.0M666.4 1733.0V1750.0M666.4 1764.9V1781.9M666.4 1796.9V1813.9M666.4 1828.8V1845.8M666.4 1860.8V1877.8M666.4 1892.7V1909.7M666.4 1924.7V1941.7M680.4 1701.0V1718.0M680.4 1733.0V1750.0M680.4 1764.9V1781.9M680.4 1796.9V1813.9M680.4 1828.8V1845.8M680.4 1860.8V1877.8M680.4 1892.7V1909.7M680.4 1924.7V1941.7M694.5 1701.0V1718.0M694.5 1733.0V1750.0M694.5 1764.9V1781.9M694.5 1796.9V1813.9M694.5 1828.8V1845.8M694.5 1860.8V1877.8M694.5 1892.7V1909.7M694.5 1924.7V1941.7M708.5 1701.0V1718.0M708.5 1733.0V1750.0M708.5 1764.9V1781.9M708.5 1796.9V1813.9M708.5 1828.8V1845.8M708.5 1860.8V1877.8M708.5 1892.7V1909.7M708.5 1924.7V1941.7M722.5 1701.0V1718.0M722.5 1733.0V1750.0M722.5 1764.9V1781.9M722.5 1796.9V1813.9M722.5 1828.8V1845.8M722.5 1860.8V1877.8M722.5 1892.7V1909.7M722.5 1924.7V1941.7M736.6 1701.0V1718.0M736.6 1733.0V1750.0M736.6 1764.9V1781.9M736.6 1796.9V1813.9M736.6 1828.8V1845.8M736.6 1860.8V1877.8M736.6 1892.7V1909.7M736.6 1924.7V1941.7M750.6 1701.0V1718.0M750.6 1733.0V1750.0M750.6 1764.9V1781.9M750.6 1796.9V1813.9M750.6 1828.8V1845.8M750.6 1860.8V1877.8M750.6 1892.7V1909.7M750.6 1924.7V1941.7M764.7 1701.0V1718.0M764.7 1733.0V1750.0M764.7 1764.9V1781.9M764.7 1796.9V1813.9M764.7 1828.8V1845.8M764.7 1860.8V1877.8M764.7 1892.7V1909.7M764.7 1924.7V1941.7M778.7 1701.0V1718.0M778.7 1733.0V1750.0M778.7 1764.9V1781.9M778.7 1796.9V1813.9M778.7 1828.8V1845.8M778.7 1860.8V1877.8M778.7 1892.7V1909.7M778.7 1924.7V1941.7M792.7 1701.0V1718.0M792.7 1733.0V1750.0M792.7 1764.9V1781.9M792.7 1796.9V1813.9M792.7 1828.8V1845.8M792.7 1860.8V1877.8M792.7 1892.7V1909.7M792.7 1924.7V1941.7M806.8 1701.0V1718.0M806.8 1733.0V1750.0M806.8 1764.9V1781.9M806.8 1796.9V1813.9M806.8 1828.8V1845.8M806.8 1860.8V1877.8M806.8 1892.7V1909.7M806.8 1924.7V1941.7M820.8 1701.0V1718.0M820.8 1733.0V1750.0M820.8 1764.9V1781.9M820.8 1796.9V1813.9M820.8 1828.8V1845.8M820.8 1860.8V1877.8M820.8 1892.7V1909.7M820.8 1924.7V1941.7M834.9 1701.0V1718.0M834.9 1733.0V1750.0M834.9 1764.9V1781.9M834.9 1796.9V1813.9M834.9 1828.8V1845.8M834.9 1860.8V1877.8M834.9 1892.7V1909.7M834.9 1924.7V1941.7M848.9 1701.0V1718.0M848.9 1733.0V1750.0M848.9 1764.9V1781.9M848.9 1796.9V1813.9M848.9 1828.8V1845.8M848.9 1860.8V1877.8M848.9 1892.7V1909.7M848.9 1924.7V1941.7M862.9 1701.0V1718.0M862.9 1733.0V1750.0M862.9 1764.9V1781.9M862.9 1796.9V1813.9M862.9 1828.8V1845.8M862.9 1860.8V1877.8M862.9 1892.7V1909.7M862.9 1924.7V1941.7M877.0 1701.0V1718.0M877.0 1733.0V1750.0M877.0 1764.9V1781.9M877.0 1796.9V1813.9M877.0 1828.8V1845.8M877.0 1860.8V1877.8M877.0 1892.7V1909.7M877.0 1924.7V1941.7M891.0 1701.0V1718.0M891.0 1733.0V1750.0M891.0 1764.9V1781.9M891.0 1796.9V1813.9M891.0 1828.8V1845.8M891.0 1860.8V1877.8M891.0 1892.7V1909.7M891.0 1924.7V1941.7M905.1 1701.0V1718.0M905.1 1733.0V1750.0M905.1 1764.9V1781.9M905.1 1796.9V1813.9M905.1 1828.8V1845.8M905.1 1860.8V1877.8M905.1 1892.7V1909.7M905.1 1924.7V1941.7M919.1 1701.0V1718.0M919.1 1733.0V1750.0M919.1 1764.9V1781.9M919.1 1796.9V1813.9M919.1 1828.8V1845.8M919.1 1860.8V1877.8M919.1 1892.7V1909.7M919.1 1924.7V1941.7M933.1 1701.0V1718.0M933.1 1733.0V1750.0M933.1 1764.9V1781.9M933.1 1796.9V1813.9M933.1 1828.8V1845.8M933.1 1860.8V1877.8M933.1 1892.7V1909.7M933.1 1924.7V1941.7" stroke="#eaebef" stroke-width="2.8" fill="none"/><rect x="0" y="1757.5" width="935" height="2.2" fill="#e6e8ee"/><rect x="0" y="1821.2" width="935" height="2.2" fill="#e6e8ee"/><rect x="934" y="1694" width="2" height="255" fill="#eceef2"/><clipPath id="rsiclip"><path d="M0 1884.4L0.0 1884.4L1.0 1884.4L2.0 1884.4L3.0 1884.4L4.0 1884.4L5.0 1884.4L6.0 1884.4L7.0 1884.4L8.0 1884.4L9.0 1884.4L10.0 1884.4L11.0 1884.4L12.0 1884.4L13.0 1884.4L14.0 1884.4L15.0 1884.4L16.0 1884.4L17.0 1884.4L18.0 1884.4L19.0 1884.4L20.0 1884.4L21.0 1884.4L22.0 1884.4L23.0 1884.4L24.0 1884.4L25.0 1884.4L26.0 1884.4L27.0 1884.4L28.0 1884.6L29.0 1887.3L30.0 1888.3L31.0 1886.8L32.0 1885.3L33.0 1884.4L34.0 1884.4L35.0 1884.4L36.0 1884.4L37.0 1884.4L38.0 1884.4L39.0 1884.4L40.0 1884.4L41.0 1885.4L42.0 1886.5L43.0 1887.5L44.0 1888.5L45.0 1889.5L46.0 1890.5L47.0 1891.5L48.0 1892.3L49.0 1893.1L50.0 1893.8L51.0 1894.6L52.0 1895.3L53.0 1896.0L54.0 1896.8L55.0 1897.5L56.0 1898.3L57.0 1899.0L58.0 1899.7L59.0 1900.5L60.0 1902.6L61.0 1905.3L62.0 1908.0L63.0 1910.7L64.0 1913.4L65.0 1916.1L66.0 1918.7L67.0 1921.4L68.0 1924.1L69.0 1922.6L70.0 1920.6L71.0 1918.6L72.0 1916.6L73.0 1914.7L74.0 1912.7L75.0 1910.7L76.0 1908.7L77.0 1906.7L78.0 1906.0L79.0 1905.2L80.0 1904.5L81.0 1903.7L82.0 1903.0L83.0 1902.2L84.0 1901.5L85.0 1900.7L86.0 1900.0L87.0 1899.2L88.0 1898.5L89.0 1897.6L90.0 1895.6L91.0 1893.6L92.0 1891.5L93.0 1889.5L94.0 1887.5L95.0 1885.5L96.0 1884.4L97.0 1884.4L98.0 1884.4L99.0 1884.4L100.0 1884.4L101.0 1884.4L102.0 1884.4L103.0 1884.4L104.0 1884.4L105.0 1884.4L106.0 1884.4L107.0 1884.4L108.0 1884.4L109.0 1884.4L110.0 1884.4L111.0 1884.4L112.0 1884.4L113.0 1884.4L114.0 1884.4L115.0 1884.4L116.0 1884.4L117.0 1884.4L118.0 1884.4L119.0 1884.4L120.0 1884.4L121.0 1884.4L122.0 1884.4L123.0 1884.4L124.0 1884.4L125.0 1884.4L126.0 1884.4L127.0 1884.4L128.0 1884.4L129.0 1884.4L130.0 1884.4L131.0 1884.4L132.0 1884.4L133.0 1884.4L134.0 1884.4L135.0 1884.4L136.0 1884.4L137.0 1884.4L138.0 1884.4L139.0 1884.4L140.0 1884.4L141.0 1884.4L142.0 1884.4L143.0 1884.4L144.0 1884.4L145.0 1884.4L146.0 1884.4L147.0 1884.4L148.0 1884.4L149.0 1884.4L150.0 1884.4L151.0 1884.4L152.0 1884.4L153.0 1884.4L154.0 1884.4L155.0 1884.4L156.0 1884.4L157.0 1884.4L158.0 1884.4L159.0 1884.4L160.0 1884.4L161.0 1884.4L162.0 1884.4L163.0 1884.4L164.0 1884.4L165.0 1884.4L166.0 1884.4L167.0 1884.4L168.0 1884.4L169.0 1884.4L170.0 1884.4L171.0 1884.4L172.0 1884.4L173.0 1884.4L174.0 1884.4L175.0 1884.4L176.0 1884.4L177.0 1884.4L178.0 1884.4L179.0 1884.4L180.0 1884.4L181.0 1884.4L182.0 1884.4L183.0 1884.4L184.0 1884.4L185.0 1884.4L186.0 1884.4L187.0 1884.4L188.0 1884.4L189.0 1884.4L190.0 1884.4L191.0 1884.4L192.0 1884.4L193.0 1884.4L194.0 1884.4L195.0 1884.4L196.0 1884.4L197.0 1884.4L198.0 1884.4L199.0 1884.4L200.0 1884.4L201.0 1884.4L202.0 1884.4L203.0 1884.4L204.0 1884.4L205.0 1884.9L206.0 1887.2L207.0 1889.5L208.0 1889.1L209.0 1886.9L210.0 1884.8L211.0 1884.4L212.0 1884.4L213.0 1884.4L214.0 1884.4L215.0 1884.4L216.0 1884.4L217.0 1884.4L218.0 1884.4L219.0 1884.4L220.0 1884.4L221.0 1884.4L222.0 1884.4L223.0 1884.4L224.0 1884.4L225.0 1884.4L226.0 1884.4L227.0 1884.4L228.0 1884.4L229.0 1884.4L230.0 1884.4L231.0 1884.4L232.0 1884.4L233.0 1884.4L234.0 1884.4L235.0 1884.4L236.0 1884.4L237.0 1884.4L238.0 1884.4L239.0 1884.4L240.0 1884.4L241.0 1884.4L242.0 1884.4L243.0 1884.4L244.0 1884.4L245.0 1884.4L246.0 1884.4L247.0 1884.4L248.0 1884.4L249.0 1884.4L250.0 1884.4L251.0 1884.4L252.0 1884.4L253.0 1884.4L254.0 1884.4L255.0 1884.4L256.0 1884.4L257.0 1884.4L258.0 1884.4L259.0 1884.4L260.0 1884.4L261.0 1884.4L262.0 1884.4L263.0 1884.4L264.0 1884.4L265.0 1884.4L266.0 1884.4L267.0 1884.4L268.0 1884.4L269.0 1884.4L270.0 1884.4L271.0 1884.4L272.0 1884.4L273.0 1884.4L274.0 1884.4L275.0 1884.4L276.0 1884.4L277.0 1884.4L278.0 1884.4L279.0 1884.4L280.0 1884.4L281.0 1884.4L282.0 1884.4L283.0 1884.4L284.0 1884.4L285.0 1884.4L286.0 1884.4L287.0 1884.4L288.0 1884.4L289.0 1884.4L290.0 1884.4L291.0 1884.4L292.0 1884.4L293.0 1884.4L294.0 1884.4L295.0 1884.4L296.0 1884.4L297.0 1884.4L298.0 1884.4L299.0 1884.4L300.0 1884.4L301.0 1884.4L302.0 1884.4L303.0 1884.4L304.0 1884.4L305.0 1884.4L306.0 1884.4L307.0 1884.4L308.0 1884.4L309.0 1884.4L310.0 1884.4L311.0 1884.4L312.0 1884.4L313.0 1884.4L314.0 1884.4L315.0 1884.4L316.0 1884.4L317.0 1884.4L318.0 1884.4L319.0 1884.4L320.0 1884.4L321.0 1884.4L322.0 1884.4L323.0 1884.4L324.0 1884.4L325.0 1884.4L326.0 1884.4L327.0 1884.4L328.0 1884.4L329.0 1884.4L330.0 1884.4L331.0 1884.4L332.0 1884.4L333.0 1884.4L334.0 1884.4L335.0 1884.4L336.0 1884.4L337.0 1884.4L338.0 1884.4L339.0 1884.4L340.0 1884.4L341.0 1884.4L342.0 1884.4L343.0 1884.4L344.0 1884.4L345.0 1884.4L346.0 1884.4L347.0 1884.4L348.0 1884.4L349.0 1884.4L350.0 1884.4L351.0 1884.4L352.0 1884.4L353.0 1884.4L354.0 1884.4L355.0 1884.4L356.0 1884.4L357.0 1884.4L358.0 1884.4L359.0 1884.4L360.0 1884.4L361.0 1884.4L362.0 1884.4L363.0 1884.4L364.0 1884.4L365.0 1884.4L366.0 1884.4L367.0 1884.4L368.0 1884.4L369.0 1884.4L370.0 1884.4L371.0 1884.4L372.0 1884.4L373.0 1884.4L374.0 1884.4L375.0 1884.4L376.0 1884.4L377.0 1884.4L378.0 1884.4L379.0 1884.4L380.0 1884.4L381.0 1884.4L382.0 1884.4L383.0 1884.4L384.0 1884.4L385.0 1884.4L386.0 1884.4L387.0 1884.4L388.0 1884.4L389.0 1884.4L390.0 1884.4L391.0 1884.4L392.0 1884.4L393.0 1884.4L394.0 1884.4L395.0 1884.4L396.0 1884.4L397.0 1884.4L398.0 1884.4L399.0 1884.4L400.0 1884.4L401.0 1884.4L402.0 1884.4L403.0 1884.4L404.0 1884.4L405.0 1884.4L406.0 1884.4L407.0 1884.4L408.0 1884.4L409.0 1884.4L410.0 1884.4L411.0 1884.4L412.0 1884.4L413.0 1884.4L414.0 1884.4L415.0 1884.4L416.0 1885.6L417.0 1889.3L418.0 1893.0L419.0 1895.7L420.0 1897.4L421.0 1899.2L422.0 1900.9L423.0 1902.7L424.0 1904.4L425.0 1906.2L426.0 1907.9L427.0 1909.7L428.0 1911.4L429.0 1913.2L430.0 1914.9L431.0 1916.0L432.0 1916.6L433.0 1917.2L434.0 1917.9L435.0 1918.5L436.0 1919.1L437.0 1919.7L438.0 1920.4L439.0 1921.0L440.0 1921.6L441.0 1922.2L442.0 1922.9L443.0 1922.1L444.0 1920.9L445.0 1919.7L446.0 1918.6L447.0 1917.4L448.0 1916.2L449.0 1915.1L450.0 1913.9L451.0 1912.7L452.0 1910.2L453.0 1907.5L454.0 1904.9L455.0 1902.2L456.0 1899.6L457.0 1896.9L458.0 1894.2L459.0 1891.6L460.0 1888.9L461.0 1886.9L462.0 1884.9L463.0 1884.4L464.0 1884.4L465.0 1884.4L466.0 1884.4L467.0 1884.4L468.0 1884.4L469.0 1884.4L470.0 1884.4L471.0 1884.4L472.0 1884.4L473.0 1884.4L474.0 1884.4L475.0 1884.4L476.0 1884.4L477.0 1884.4L478.0 1884.4L479.0 1884.4L480.0 1884.4L481.0 1884.4L482.0 1884.4L483.0 1884.4L484.0 1884.4L485.0 1884.4L486.0 1884.4L487.0 1884.4L488.0 1884.4L489.0 1884.4L490.0 1884.4L491.0 1884.4L492.0 1884.4L493.0 1884.4L494.0 1884.4L495.0 1884.4L496.0 1884.4L497.0 1884.4L498.0 1884.4L499.0 1884.4L500.0 1884.4L501.0 1884.4L502.0 1884.4L503.0 1884.4L504.0 1884.4L505.0 1884.4L506.0 1884.4L507.0 1884.4L508.0 1884.4L509.0 1884.4L510.0 1884.4L511.0 1884.4L512.0 1884.4L513.0 1884.4L514.0 1884.4L515.0 1884.4L516.0 1884.4L517.0 1884.4L518.0 1884.4L519.0 1884.4L520.0 1884.4L521.0 1884.4L522.0 1884.4L523.0 1884.4L524.0 1884.4L525.0 1884.4L526.0 1884.4L527.0 1884.4L528.0 1884.4L529.0 1884.4L530.0 1884.4L531.0 1884.4L532.0 1884.4L533.0 1884.4L534.0 1884.4L535.0 1884.4L536.0 1884.4L537.0 1884.4L538.0 1884.4L539.0 1884.4L540.0 1884.4L541.0 1884.4L542.0 1884.4L543.0 1884.4L544.0 1884.4L545.0 1884.4L546.0 1884.4L547.0 1884.4L548.0 1884.4L549.0 1884.4L550.0 1884.4L551.0 1884.4L552.0 1884.4L553.0 1884.4L554.0 1884.4L555.0 1884.4L556.0 1884.4L557.0 1884.4L558.0 1884.4L559.0 1884.4L560.0 1884.4L561.0 1884.4L562.0 1884.4L563.0 1884.4L564.0 1884.4L565.0 1884.4L566.0 1884.4L567.0 1884.4L568.0 1884.4L569.0 1884.4L570.0 1884.4L571.0 1884.4L572.0 1884.4L573.0 1884.4L574.0 1884.4L575.0 1884.4L576.0 1884.4L577.0 1884.4L578.0 1884.4L579.0 1884.4L580.0 1884.4L581.0 1884.4L582.0 1884.4L583.0 1884.4L584.0 1884.4L585.0 1884.4L586.0 1884.4L587.0 1884.4L588.0 1884.4L589.0 1884.4L590.0 1884.4L591.0 1884.4L592.0 1884.4L593.0 1884.4L594.0 1884.4L595.0 1884.4L596.0 1884.4L597.0 1884.4L598.0 1884.4L599.0 1884.4L600.0 1884.4L601.0 1884.4L602.0 1884.4L603.0 1884.4L604.0 1884.4L605.0 1884.4L606.0 1884.4L607.0 1884.4L608.0 1884.4L609.0 1884.4L610.0 1884.4L611.0 1884.4L612.0 1884.4L613.0 1884.4L614.0 1884.4L615.0 1884.4L616.0 1884.4L617.0 1884.4L618.0 1884.4L619.0 1884.4L620.0 1884.4L621.0 1884.4L622.0 1884.4L623.0 1884.4L624.0 1884.4L625.0 1884.4L626.0 1884.4L627.0 1884.4L628.0 1884.4L629.0 1884.4L630.0 1884.4L631.0 1884.4L632.0 1884.4L633.0 1884.4L634.0 1884.4L635.0 1884.4L636.0 1884.4L637.0 1884.4L638.0 1884.4L639.0 1884.4L640.0 1884.4L641.0 1884.4L642.0 1884.4L643.0 1884.4L644.0 1884.4L645.0 1884.4L646.0 1884.4L647.0 1884.4L648.0 1884.4L649.0 1884.4L650.0 1884.4L651.0 1884.4L652.0 1884.4L653.0 1884.4L654.0 1884.4L655.0 1884.4L656.0 1884.4L657.0 1884.4L658.0 1884.4L659.0 1884.4L660.0 1884.4L661.0 1884.4L662.0 1884.4L663.0 1884.4L664.0 1884.4L665.0 1884.4L666.0 1884.4L667.0 1884.4L668.0 1884.4L669.0 1884.4L670.0 1884.4L671.0 1884.4L672.0 1884.4L673.0 1884.4L674.0 1884.4L675.0 1884.4L676.0 1884.4L677.0 1884.4L678.0 1884.4L679.0 1884.4L680.0 1884.4L681.0 1884.4L682.0 1884.4L683.0 1884.4L684.0 1884.4L685.0 1884.4L686.0 1884.4L687.0 1884.4L688.0 1884.4L689.0 1884.4L690.0 1884.4L691.0 1884.4L692.0 1884.4L693.0 1884.4L694.0 1884.4L695.0 1884.4L696.0 1884.4L697.0 1884.4L698.0 1884.4L699.0 1884.4L700.0 1884.4L701.0 1884.4L702.0 1884.4L703.0 1884.4L704.0 1884.4L705.0 1884.4L706.0 1884.4L707.0 1884.4L708.0 1884.4L709.0 1884.4L710.0 1884.4L711.0 1884.4L712.0 1884.4L713.0 1884.4L714.0 1884.4L715.0 1884.4L716.0 1884.4L717.0 1884.4L718.0 1884.4L719.0 1884.4L720.0 1884.4L721.0 1884.4L722.0 1884.4L723.0 1884.4L724.0 1884.4L725.0 1886.4L726.0 1890.7L727.0 1892.0L728.0 1893.0L729.0 1894.0L730.0 1895.0L731.0 1896.0L732.0 1897.0L733.0 1898.0L734.0 1899.0L735.0 1900.0L736.0 1901.0L737.0 1902.0L738.0 1903.0L739.0 1904.7L740.0 1906.7L741.0 1908.7L742.0 1910.7L743.0 1912.3L744.0 1909.9L745.0 1907.4L746.0 1905.0L747.0 1902.6L748.0 1900.2L749.0 1897.8L750.0 1895.4L751.0 1894.2L752.0 1894.2L753.0 1894.2L754.0 1894.2L755.0 1894.2L756.0 1894.2L757.0 1894.2L758.0 1894.2L759.0 1894.2L760.0 1893.8L761.0 1892.6L762.0 1891.3L763.0 1890.1L764.0 1888.8L765.0 1887.6L766.0 1886.3L767.0 1885.0L768.0 1884.4L769.0 1884.4L770.0 1884.4L771.0 1884.4L772.0 1884.4L773.0 1884.4L774.0 1884.4L775.0 1884.4L776.0 1884.4L777.0 1884.4L778.0 1884.4L779.0 1884.4L780.0 1884.4L781.0 1884.4L782.0 1884.4L783.0 1884.4L784.0 1884.4L785.0 1884.4L786.0 1884.4L787.0 1884.4L788.0 1884.4L789.0 1884.4L790.0 1884.4L791.0 1884.4L792.0 1884.4L793.0 1884.4L794.0 1884.4L795.0 1884.4L796.0 1884.4L797.0 1884.4L798.0 1884.4L799.0 1884.4L800.0 1884.4L801.0 1884.4L802.0 1884.4L803.0 1884.4L804.0 1884.4L805.0 1884.4L806.0 1884.4L807.0 1884.4L808.0 1884.4L809.0 1884.4L810.0 1884.4L811.0 1884.4L812.0 1884.4L813.0 1884.4L814.0 1884.4L815.0 1884.4L816.0 1884.4L817.0 1884.4L818.0 1884.4L819.0 1884.4L820.0 1884.4L821.0 1884.4L822.0 1884.4L823.0 1884.4L824.0 1884.4L825.0 1884.4L826.0 1884.4L827.0 1884.4L828.0 1884.4L829.0 1884.4L830.0 1884.4L831.0 1884.4L832.0 1884.4L833.0 1884.4L834.0 1884.4L835.0 1884.4L836.0 1884.4L837.0 1884.4L838.0 1884.4L839.0 1884.4L840.0 1884.4L841.0 1884.4L842.0 1884.4L843.0 1884.4L844.0 1884.4L845.0 1884.4L846.0 1884.4L847.0 1884.4L848.0 1884.4L849.0 1884.4L850.0 1884.4L851.0 1884.4L852.0 1884.4L853.0 1884.4L854.0 1884.4L855.0 1884.4L856.0 1884.4L857.0 1884.4L858.0 1884.4L859.0 1884.4L860.0 1884.4L861.0 1884.4L862.0 1884.4L863.0 1884.4L864.0 1884.4L865.0 1884.9L866.0 1886.2L867.0 1887.5L868.0 1888.8L869.0 1890.2L870.0 1891.9L871.0 1894.4L872.0 1896.9L873.0 1899.4L874.0 1901.9L875.0 1904.4L876.0 1906.3L877.0 1905.6L878.0 1904.9L879.0 1904.3L880.0 1903.6L881.0 1903.0L882.0 1902.3L883.0 1901.6L884.0 1901.0L885.0 1900.3L886.0 1901.1L887.0 1902.0L888.0 1902.8L889.0 1903.6L890.0 1904.5L891.0 1905.3L892.0 1906.1L893.0 1907.0L894.0 1907.8L895.0 1906.6L896.0 1905.1L897.0 1903.6L898.0 1902.1L899.0 1900.6L900.0 1899.1L901.0 1897.6L902.0 1896.1L903.0 1894.6L904.0 1892.3L905.0 1889.7L906.0 1887.0L907.0 1884.4L908.0 1884.4L909.0 1884.4L910.0 1884.4L911.0 1884.4L912.0 1884.4L913.0 1884.4L914.0 1884.4L915.0 1884.4L916.0 1884.4L917.0 1884.4L918.0 1884.4L919.0 1884.4L920.0 1884.4L921.0 1884.4L922.0 1884.4L923.0 1884.4L924.0 1884.4L925.0 1884.4L926.0 1884.4L927.0 1884.4L928.0 1884.4L929.0 1884.4L930.0 1884.4L931.0 1884.4L932.0 1884.4L933.0 1884.4L934.0 1884.4L934.0 1884.4Z"/></clipPath><pattern id="hatch" patternUnits="userSpaceOnUse" width="2.6" height="10"><rect width="2.6" height="10" fill="#eef0fd"/><rect x="0" width="1.2" height="10" fill="#6676e2"/></pattern><g clip-path="url(#rsiclip)"><rect x="0" y="1884.4" width="935" height="70" fill="url(#hatch)"/></g><rect x="0" y="1731.5" width="935" height="2.5" fill="#8c8c8c"/><rect x="0" y="1883.2" width="935" height="2.5" fill="#8c8c8c"/><path d="M0.0 1840.6L0.0 1844.4L3.0 1841.5L3.1 1837.6L6.2 1837.2L7.4 1832.6L9.3 1825.3L10.4 1832.6L12.4 1840.2L14.8 1850.4L15.5 1851.5L17.8 1886.0L18.6 1893.7L21.7 1906.9L24.8 1926.7L25.2 1924.4L27.9 1908.2L29.6 1900.7L31.0 1890.9L34.1 1865.2L34.1 1864.3L37.2 1885.8L38.5 1897.8L40.3 1900.1L43.4 1898.7L44.4 1903.7L46.5 1906.7L49.6 1916.2L50.4 1915.6L52.7 1919.2L55.8 1922.3L56.3 1924.4L58.9 1941.9L62.0 1947.5L62.2 1948.1L65.1 1941.9L68.1 1939.3L68.2 1938.2L71.1 1891.9L71.3 1890.1L74.4 1889.0L77.0 1888.9L77.5 1887.5L80.6 1893.6L83.0 1885.9L83.7 1888.4L86.8 1899.9L88.9 1906.7L89.9 1899.0L91.9 1877.0L93.0 1880.7L96.1 1865.7L97.8 1862.2L99.2 1856.0L102.3 1856.5L103.7 1844.4L105.4 1829.7L106.7 1826.7L108.5 1827.3L111.6 1833.7L112.6 1832.6L114.7 1834.6L117.8 1816.5L118.5 1817.8L120.9 1802.9L121.5 1808.9L124.0 1841.6L124.4 1844.4L127.1 1849.4L130.2 1857.6L130.4 1859.3L133.3 1849.1L136.3 1835.6L136.4 1836.6L139.5 1847.2L142.6 1855.2L145.2 1865.2L145.7 1867.3L148.8 1855.6L151.1 1841.5L151.9 1846.3L154.1 1859.3L155.0 1849.7L158.1 1825.4L160.0 1805.9L161.2 1800.3L163.0 1788.1L164.3 1788.1L167.4 1797.7L168.9 1803.0L170.5 1808.0L173.6 1807.4L174.8 1808.9L176.7 1806.3L179.8 1805.6L182.2 1803.0L182.9 1806.1L186.0 1820.5L186.7 1823.7L189.1 1854.3L189.6 1868.1L192.2 1906.2L194.1 1924.4L195.3 1917.8L198.4 1895.6L198.5 1897.8L201.5 1910.0L204.4 1915.6L204.6 1915.8L207.7 1902.6L210.4 1891.9L210.8 1885.8L213.3 1823.7L213.9 1833.6L217.0 1841.9L219.3 1850.4L220.1 1856.7L223.2 1863.2L225.2 1859.3L226.3 1860.5L229.4 1874.5L229.6 1877.0L232.5 1845.1L234.1 1823.7L235.6 1802.9L237.0 1794.1L238.7 1789.9L241.8 1788.7L243.0 1782.2L244.9 1777.9L248.0 1764.0L248.9 1758.5L251.1 1740.5L251.9 1742.2L254.2 1756.1L257.3 1758.9L257.8 1758.5L260.4 1771.5L262.2 1776.3L263.5 1774.4L266.6 1759.2L266.7 1764.4L269.7 1755.8L272.8 1752.4L275.6 1752.6L275.9 1760.1L279.0 1765.3L281.5 1779.3L282.1 1780.9L285.2 1793.4L285.9 1797.0L288.3 1770.4L290.4 1743.7L291.4 1747.8L294.5 1754.8L296.3 1758.5L297.6 1751.9L299.3 1752.6L300.7 1753.2L303.8 1787.5L305.9 1803.0L306.9 1807.3L310.0 1821.1L311.9 1823.7L313.1 1820.4L316.2 1811.0L317.8 1808.9L319.3 1816.7L322.4 1823.8L325.5 1838.9L326.7 1847.4L328.6 1857.7L329.6 1868.1L331.7 1859.3L334.8 1850.6L337.9 1831.9L338.5 1826.7L341.0 1836.6L344.1 1841.5L344.4 1841.5L347.2 1829.8L350.3 1813.6L353.4 1800.2L356.3 1788.1L356.5 1781.0L359.6 1795.9L362.2 1808.9L362.7 1806.8L365.8 1825.9L368.9 1837.7L371.1 1844.4L372.0 1850.8L375.1 1861.4L377.0 1862.2L378.2 1860.8L381.3 1864.2L384.4 1866.0L385.9 1859.3L387.5 1879.8L388.9 1897.8L390.6 1904.0L393.7 1904.9L396.3 1909.6L396.8 1900.7L399.9 1883.3L403.0 1857.4L406.1 1837.4L406.7 1832.6L409.2 1853.7L412.3 1884.2L412.6 1885.9L415.4 1923.3L415.6 1933.3L418.5 1936.1L421.6 1929.6L424.4 1921.5L424.7 1921.6L427.8 1932.0L430.4 1945.2L430.9 1943.4L434.0 1934.7L436.3 1924.4L437.1 1924.4L440.2 1919.2L443.3 1906.5L445.2 1909.6L446.4 1898.8L449.5 1888.1L452.6 1866.1L454.1 1856.3L455.7 1854.6L458.8 1862.9L460.0 1868.1L461.9 1860.6L465.0 1857.4L468.1 1859.8L471.2 1850.7L471.9 1850.4L474.3 1849.2L477.4 1839.9L480.5 1828.1L480.7 1832.6L483.6 1813.3L486.7 1797.0L486.7 1804.4L489.8 1805.4L492.6 1817.8L492.9 1816.5L496.0 1845.7L498.5 1859.3L499.1 1858.8L502.2 1854.3L505.3 1855.0L507.4 1847.4L508.4 1839.2L511.5 1838.5L513.3 1832.6L514.6 1827.4L517.7 1822.1L520.8 1819.9L522.2 1820.7L523.9 1845.0L527.0 1878.2L528.1 1891.9L530.1 1880.0L533.2 1873.1L534.1 1874.1L536.3 1881.3L539.4 1882.7L540.0 1880.0L542.5 1862.6L545.6 1857.0L545.9 1847.4L548.7 1836.9L551.8 1823.9L554.8 1817.8L554.9 1817.6L558.0 1828.9L560.7 1832.6L561.1 1836.3L564.2 1822.1L566.7 1808.9L567.3 1808.4L570.4 1812.6L572.6 1817.8L573.5 1815.9L576.6 1830.4L579.7 1838.6L580.0 1841.5L582.8 1814.3L585.9 1778.3L587.4 1767.4L589.0 1755.3L592.1 1733.8L593.3 1728.9L595.2 1728.7L598.3 1734.9L599.3 1740.7L601.4 1754.2L604.5 1778.6L605.2 1788.1L607.6 1786.5L610.0 1781.1L610.7 1779.1L613.8 1764.1L614.6 1765.8L616.9 1775.0L620.0 1784.4L620.7 1785.7L623.1 1785.6L626.2 1774.0L628.3 1770.4L629.3 1773.9L632.4 1785.2L635.5 1800.7L637.5 1808.6L638.6 1806.4L641.7 1794.4L643.6 1787.2L644.8 1785.5L647.9 1785.8L649.7 1782.6L651.0 1784.6L654.1 1789.3L657.2 1789.6L658.9 1794.9L660.3 1793.9L663.4 1786.3L666.5 1783.2L668.0 1784.2L669.6 1791.1L672.6 1802.5L672.7 1808.4L675.8 1773.9L677.2 1756.7L678.9 1752.2L681.8 1744.4L682.0 1744.6L685.1 1760.9L687.9 1768.9L688.2 1776.2L691.3 1804.5L692.5 1811.7L694.4 1822.5L697.5 1842.3L698.6 1848.3L700.6 1850.5L703.7 1855.8L706.8 1859.1L707.8 1863.6L709.9 1861.9L713.0 1854.4L715.4 1860.5L716.1 1863.3L719.2 1898.6L722.3 1924.1L723.0 1933.9L725.4 1923.8L728.5 1902.5L729.2 1903.3L731.6 1906.9L734.7 1915.6L735.3 1915.5L737.8 1897.0L740.9 1879.3L744.0 1871.0L744.4 1860.5L747.1 1872.7L749.0 1885.0L750.2 1891.0L752.1 1906.4L753.3 1900.7L756.4 1892.6L759.5 1882.5L759.7 1881.9L762.6 1880.3L765.7 1874.5L768.8 1865.4L768.9 1866.6L771.9 1861.4L775.0 1853.8L778.0 1854.4L778.1 1849.7L781.2 1859.9L784.2 1869.7L784.3 1871.5L787.4 1850.8L790.3 1833.0L790.5 1834.3L793.6 1814.6L796.4 1793.3L796.7 1791.6L799.8 1786.6L802.5 1768.9L802.9 1767.5L806.0 1769.2L809.1 1771.9L811.7 1775.0L812.2 1778.5L815.3 1772.7L817.8 1771.9L818.4 1772.2L821.5 1790.0L823.9 1799.4L824.6 1805.6L827.7 1812.4L830.0 1820.8L830.8 1829.6L833.9 1871.3L836.1 1894.2L837.0 1898.8L840.1 1903.3L842.2 1903.3L843.2 1898.5L846.3 1894.7L849.4 1887.7L851.4 1881.9L852.5 1877.1L855.6 1890.1L858.7 1889.6L860.5 1891.1L861.8 1895.2L864.9 1916.1L866.6 1915.5L868.0 1918.2L871.1 1920.3L874.2 1927.4L874.3 1927.8L877.3 1915.2L880.4 1901.0L881.9 1891.1L883.5 1894.1L886.6 1897.6L889.7 1904.3L891.1 1909.4L892.8 1918.9L894.1 1930.8L895.9 1903.5L898.7 1869.7L899.0 1870.2L902.1 1874.9L904.8 1881.9L905.2 1871.4L907.9 1799.4L908.3 1795.6L911.4 1786.7L914.5 1780.2L915.5 1778.0L917.6 1760.1L920.7 1740.2L921.6 1729.2L923.8 1736.0L926.9 1753.4L927.8 1756.7L930.0 1749.9L933.1 1736.4L933.9 1738.3" stroke="#e62a1c" stroke-width="5" fill="none" stroke-linejoin="round"/><path d="M0.0 1881.5C1.0 1878.8 3.4 1869.9 5.9 1865.2C8.4 1860.5 12.3 1853.3 14.8 1853.3C17.3 1853.3 18.2 1859.3 20.7 1865.2C23.2 1871.1 27.1 1886.4 29.6 1888.9C32.1 1891.4 32.6 1879.5 35.6 1880.0C38.6 1880.5 43.5 1888.5 47.4 1891.9C51.3 1895.4 55.8 1895.3 59.3 1900.7C62.8 1906.1 65.1 1923.4 68.1 1924.4C71.0 1925.4 73.5 1911.1 77.0 1906.7C80.5 1902.3 85.0 1903.2 88.9 1897.8C92.9 1892.3 97.2 1881.4 100.7 1874.0C104.2 1866.6 106.1 1859.7 109.6 1853.3C113.1 1846.9 117.5 1836.6 121.5 1835.6C125.5 1834.6 129.9 1845.9 133.3 1847.4C136.8 1848.9 138.7 1844.4 142.2 1844.4C145.7 1844.4 150.1 1851.4 154.1 1847.4C158.1 1843.5 162.4 1826.1 165.9 1820.7C169.4 1815.3 171.8 1815.8 174.8 1814.8C177.8 1813.8 180.7 1809.9 183.7 1814.8C186.7 1819.7 189.6 1834.0 192.6 1844.4C195.6 1854.8 199.0 1869.3 201.5 1877.0C204.0 1884.7 204.9 1891.4 207.4 1890.4C209.9 1889.4 213.3 1875.8 216.3 1871.1C219.3 1866.4 222.7 1863.2 225.2 1862.2C227.7 1861.2 229.1 1869.2 231.1 1865.2C233.1 1861.2 234.5 1848.4 237.0 1838.5C239.5 1828.6 242.9 1816.8 245.9 1805.9C248.9 1795.0 251.3 1779.5 254.8 1773.3C258.3 1767.1 262.8 1770.4 266.7 1768.9C270.6 1767.4 274.6 1763.2 278.5 1764.4C282.4 1765.6 286.9 1776.3 290.4 1776.3C293.9 1776.3 297.3 1766.6 299.3 1764.4C301.3 1762.2 300.1 1758.0 302.2 1763.0C304.3 1768.0 308.3 1785.9 311.9 1794.1C315.5 1802.2 320.2 1805.0 323.7 1811.9C327.1 1818.8 329.6 1832.1 332.6 1835.6C335.6 1839.0 339.0 1832.6 341.5 1832.6C344.0 1832.6 344.4 1838.6 347.4 1835.6C350.4 1832.6 354.9 1815.8 359.3 1814.8C363.8 1813.8 369.7 1824.2 374.1 1829.6C378.5 1835.0 381.5 1839.0 385.9 1847.4C390.3 1855.8 396.8 1877.5 400.7 1880.0C404.6 1882.5 406.6 1859.7 409.6 1862.2C412.6 1864.7 415.0 1885.9 418.5 1894.8C422.0 1903.7 426.4 1910.9 430.4 1915.6C434.3 1920.3 438.8 1923.5 442.2 1923.0C445.6 1922.5 448.1 1918.3 451.1 1912.6C454.1 1906.9 457.0 1895.8 460.0 1888.9C463.0 1882.0 465.9 1875.5 468.9 1871.1C471.9 1866.6 474.8 1866.2 477.8 1862.2C480.8 1858.2 483.7 1853.3 486.7 1847.4C489.7 1841.5 492.7 1828.2 495.6 1826.7C498.6 1825.2 501.9 1835.5 504.4 1838.5C506.9 1841.5 506.9 1844.9 510.4 1844.4C513.9 1843.9 521.2 1833.6 525.2 1835.6C529.2 1837.6 531.1 1851.4 534.1 1856.3C537.1 1861.2 539.5 1867.2 543.0 1865.2C546.5 1863.2 550.8 1849.8 554.8 1844.4C558.8 1839.0 563.7 1835.8 566.7 1832.6C569.7 1829.4 570.1 1825.7 572.6 1825.2C575.1 1824.7 578.5 1834.3 581.5 1829.6C584.5 1824.9 587.4 1806.9 590.4 1797.0C593.4 1787.1 596.8 1775.1 599.3 1770.4C601.8 1765.7 603.2 1767.9 605.2 1768.9C607.2 1769.9 608.3 1775.0 611.1 1776.3C613.9 1777.6 618.8 1776.0 622.2 1776.5C625.6 1777.0 627.8 1776.8 631.4 1779.6C635.0 1782.4 639.5 1791.5 643.6 1793.3C647.7 1795.1 651.2 1790.3 655.8 1790.3C660.4 1790.3 666.0 1796.9 671.1 1793.3C676.2 1789.7 682.3 1769.9 686.4 1768.9C690.5 1767.9 691.9 1778.0 695.5 1787.2C699.1 1796.4 704.2 1813.2 707.8 1823.9C711.4 1834.6 713.8 1840.2 716.9 1851.4C720.0 1862.6 722.5 1882.4 726.1 1891.1C729.7 1899.8 735.5 1899.7 738.3 1903.3C741.1 1906.9 740.9 1914.0 742.9 1912.5C744.9 1911.0 747.7 1897.2 750.5 1894.2C753.3 1891.2 756.1 1896.8 759.7 1894.2C763.3 1891.7 767.3 1884.0 771.9 1878.9C776.5 1873.8 783.6 1867.7 787.2 1863.6C790.8 1859.5 790.2 1861.5 793.3 1854.4C796.3 1847.3 801.4 1832.5 805.5 1820.8C809.6 1809.1 814.2 1788.8 817.8 1784.2C821.4 1779.6 823.8 1787.2 826.9 1793.3C830.0 1799.4 833.0 1808.1 836.1 1820.8C839.2 1833.5 841.2 1860.0 845.3 1869.7C849.4 1879.4 856.4 1875.3 860.5 1878.9C864.6 1882.5 867.2 1886.5 869.7 1891.1C872.2 1895.7 873.2 1904.9 875.8 1906.4C878.3 1907.9 882.0 1900.0 885.0 1900.3C888.0 1900.5 891.1 1908.9 894.1 1907.9C897.1 1906.9 901.0 1898.5 903.3 1894.2C905.6 1889.9 905.9 1894.1 907.9 1881.9C909.9 1869.7 912.7 1837.6 915.5 1820.8C918.3 1804.0 921.6 1791.3 924.7 1781.1C927.8 1770.9 932.4 1763.3 933.9 1759.7" stroke="#1c2aa8" stroke-width="5" fill="none" stroke-linejoin="round"/><rect x="940" y="1720" width="140" height="36" fill="#e8392f"/><text x="943" y="1746" font-size="27" fill="#fff" textLength="68">78.63</text><rect x="940" y="1741" width="140" height="36.5" fill="#3448c2"/><rect x="940" y="1741" width="140" height="15" fill="#2b2c9c"/><text x="943.5" y="1768.4" font-size="27" fill="#fff" textLength="68">73.10</text><text x="943.5" y="1830.6" font-size="26" fill="#333" textLength="68">56.42</text><text x="943.5" y="1894.7" font-size="26" fill="#333" textLength="68">39.64</text><rect x="0" y="1948" width="1080" height="2" fill="#e6e8ee"/><path d="M6.5 1964.5V1980.5M6.5 1997.6V2013.6M6.5 2030.7V2046.7M6.5 2063.8V2079.8M6.5 2096.9V2112.9M6.5 2130.0V2146.0M6.5 2163.1V2179.1M6.5 2196.2V2205.0M20.5 1964.5V1980.5M20.5 1997.6V2013.6M20.5 2030.7V2046.7M20.5 2063.8V2079.8M20.5 2096.9V2112.9M20.5 2130.0V2146.0M20.5 2163.1V2179.1M20.5 2196.2V2205.0M34.6 1964.5V1980.5M34.6 1997.6V2013.6M34.6 2030.7V2046.7M34.6 2063.8V2079.8M34.6 2096.9V2112.9M34.6 2130.0V2146.0M34.6 2163.1V2179.1M34.6 2196.2V2205.0M48.6 1964.5V1980.5M48.6 1997.6V2013.6M48.6 2030.7V2046.7M48.6 2063.8V2079.8M48.6 2096.9V2112.9M48.6 2130.0V2146.0M48.6 2163.1V2179.1M48.6 2196.2V2205.0M62.7 1964.5V1980.5M62.7 1997.6V2013.6M62.7 2030.7V2046.7M62.7 2063.8V2079.8M62.7 2096.9V2112.9M62.7 2130.0V2146.0M62.7 2163.1V2179.1M62.7 2196.2V2205.0M76.7 1964.5V1980.5M76.7 1997.6V2013.6M76.7 2030.7V2046.7M76.7 2063.8V2079.8M76.7 2096.9V2112.9M76.7 2130.0V2146.0M76.7 2163.1V2179.1M76.7 2196.2V2205.0M90.7 1964.5V1980.5M90.7 1997.6V2013.6M90.7 2030.7V2046.7M90.7 2063.8V2079.8M90.7 2096.9V2112.9M90.7 2130.0V2146.0M90.7 2163.1V2179.1M90.7 2196.2V2205.0M104.8 1964.5V1980.5M104.8 1997.6V2013.6M104.8 2030.7V2046.7M104.8 2063.8V2079.8M104.8 2096.9V2112.9M104.8 2130.0V2146.0M104.8 2163.1V2179.1M104.8 2196.2V2205.0M118.8 1964.5V1980.5M118.8 1997.6V2013.6M118.8 2030.7V2046.7M118.8 2063.8V2079.8M118.8 2096.9V2112.9M118.8 2130.0V2146.0M118.8 2163.1V2179.1M118.8 2196.2V2205.0M132.9 1964.5V1980.5M132.9 1997.6V2013.6M132.9 2030.7V2046.7M132.9 2063.8V2079.8M132.9 2096.9V2112.9M132.9 2130.0V2146.0M132.9 2163.1V2179.1M132.9 2196.2V2205.0M146.9 1964.5V1980.5M146.9 1997.6V2013.6M146.9 2030.7V2046.7M146.9 2063.8V2079.8M146.9 2096.9V2112.9M146.9 2130.0V2146.0M146.9 2163.1V2179.1M146.9 2196.2V2205.0M160.9 1964.5V1980.5M160.9 1997.6V2013.6M160.9 2030.7V2046.7M160.9 2063.8V2079.8M160.9 2096.9V2112.9M160.9 2130.0V2146.0M160.9 2163.1V2179.1M160.9 2196.2V2205.0M175.0 1964.5V1980.5M175.0 1997.6V2013.6M175.0 2030.7V2046.7M175.0 2063.8V2079.8M175.0 2096.9V2112.9M175.0 2130.0V2146.0M175.0 2163.1V2179.1M175.0 2196.2V2205.0M189.0 1964.5V1980.5M189.0 1997.6V2013.6M189.0 2030.7V2046.7M189.0 2063.8V2079.8M189.0 2096.9V2112.9M189.0 2130.0V2146.0M189.0 2163.1V2179.1M189.0 2196.2V2205.0M203.1 1964.5V1980.5M203.1 1997.6V2013.6M203.1 2030.7V2046.7M203.1 2063.8V2079.8M203.1 2096.9V2112.9M203.1 2130.0V2146.0M203.1 2163.1V2179.1M203.1 2196.2V2205.0M217.1 1964.5V1980.5M217.1 1997.6V2013.6M217.1 2030.7V2046.7M217.1 2063.8V2079.8M217.1 2096.9V2112.9M217.1 2130.0V2146.0M217.1 2163.1V2179.1M217.1 2196.2V2205.0M231.1 1964.5V1980.5M231.1 1997.6V2013.6M231.1 2030.7V2046.7M231.1 2063.8V2079.8M231.1 2096.9V2112.9M231.1 2130.0V2146.0M231.1 2163.1V2179.1M231.1 2196.2V2205.0M245.2 1964.5V1980.5M245.2 1997.6V2013.6M245.2 2030.7V2046.7M245.2 2063.8V2079.8M245.2 2096.9V2112.9M245.2 2130.0V2146.0M245.2 2163.1V2179.1M245.2 2196.2V2205.0M259.2 1964.5V1980.5M259.2 1997.6V2013.6M259.2 2030.7V2046.7M259.2 2063.8V2079.8M259.2 2096.9V2112.9M259.2 2130.0V2146.0M259.2 2163.1V2179.1M259.2 2196.2V2205.0M273.3 1964.5V1980.5M273.3 1997.6V2013.6M273.3 2030.7V2046.7M273.3 2063.8V2079.8M273.3 2096.9V2112.9M273.3 2130.0V2146.0M273.3 2163.1V2179.1M273.3 2196.2V2205.0M287.3 1964.5V1980.5M287.3 1997.6V2013.6M287.3 2030.7V2046.7M287.3 2063.8V2079.8M287.3 2096.9V2112.9M287.3 2130.0V2146.0M287.3 2163.1V2179.1M287.3 2196.2V2205.0M301.3 1964.5V1980.5M301.3 1997.6V2013.6M301.3 2030.7V2046.7M301.3 2063.8V2079.8M301.3 2096.9V2112.9M301.3 2130.0V2146.0M301.3 2163.1V2179.1M301.3 2196.2V2205.0M315.4 1964.5V1980.5M315.4 1997.6V2013.6M315.4 2030.7V2046.7M315.4 2063.8V2079.8M315.4 2096.9V2112.9M315.4 2130.0V2146.0M315.4 2163.1V2179.1M315.4 2196.2V2205.0M329.4 1964.5V1980.5M329.4 1997.6V2013.6M329.4 2030.7V2046.7M329.4 2063.8V2079.8M329.4 2096.9V2112.9M329.4 2130.0V2146.0M329.4 2163.1V2179.1M329.4 2196.2V2205.0M343.5 1964.5V1980.5M343.5 1997.6V2013.6M343.5 2030.7V2046.7M343.5 2063.8V2079.8M343.5 2096.9V2112.9M343.5 2130.0V2146.0M343.5 2163.1V2179.1M343.5 2196.2V2205.0M357.5 1964.5V1980.5M357.5 1997.6V2013.6M357.5 2030.7V2046.7M357.5 2063.8V2079.8M357.5 2096.9V2112.9M357.5 2130.0V2146.0M357.5 2163.1V2179.1M357.5 2196.2V2205.0M371.5 1964.5V1980.5M371.5 1997.6V2013.6M371.5 2030.7V2046.7M371.5 2063.8V2079.8M371.5 2096.9V2112.9M371.5 2130.0V2146.0M371.5 2163.1V2179.1M371.5 2196.2V2205.0M385.6 1964.5V1980.5M385.6 1997.6V2013.6M385.6 2030.7V2046.7M385.6 2063.8V2079.8M385.6 2096.9V2112.9M385.6 2130.0V2146.0M385.6 2163.1V2179.1M385.6 2196.2V2205.0M399.6 1964.5V1980.5M399.6 1997.6V2013.6M399.6 2030.7V2046.7M399.6 2063.8V2079.8M399.6 2096.9V2112.9M399.6 2130.0V2146.0M399.6 2163.1V2179.1M399.6 2196.2V2205.0M413.7 1964.5V1980.5M413.7 1997.6V2013.6M413.7 2030.7V2046.7M413.7 2063.8V2079.8M413.7 2096.9V2112.9M413.7 2130.0V2146.0M413.7 2163.1V2179.1M413.7 2196.2V2205.0M427.7 1964.5V1980.5M427.7 1997.6V2013.6M427.7 2030.7V2046.7M427.7 2063.8V2079.8M427.7 2096.9V2112.9M427.7 2130.0V2146.0M427.7 2163.1V2179.1M427.7 2196.2V2205.0M441.7 1964.5V1980.5M441.7 1997.6V2013.6M441.7 2030.7V2046.7M441.7 2063.8V2079.8M441.7 2096.9V2112.9M441.7 2130.0V2146.0M441.7 2163.1V2179.1M441.7 2196.2V2205.0M455.8 1964.5V1980.5M455.8 1997.6V2013.6M455.8 2030.7V2046.7M455.8 2063.8V2079.8M455.8 2096.9V2112.9M455.8 2130.0V2146.0M455.8 2163.1V2179.1M455.8 2196.2V2205.0M469.8 1964.5V1980.5M469.8 1997.6V2013.6M469.8 2030.7V2046.7M469.8 2063.8V2079.8M469.8 2096.9V2112.9M469.8 2130.0V2146.0M469.8 2163.1V2179.1M469.8 2196.2V2205.0M483.9 1964.5V1980.5M483.9 1997.6V2013.6M483.9 2030.7V2046.7M483.9 2063.8V2079.8M483.9 2096.9V2112.9M483.9 2130.0V2146.0M483.9 2163.1V2179.1M483.9 2196.2V2205.0M497.9 1964.5V1980.5M497.9 1997.6V2013.6M497.9 2030.7V2046.7M497.9 2063.8V2079.8M497.9 2096.9V2112.9M497.9 2130.0V2146.0M497.9 2163.1V2179.1M497.9 2196.2V2205.0M511.9 1964.5V1980.5M511.9 1997.6V2013.6M511.9 2030.7V2046.7M511.9 2063.8V2079.8M511.9 2096.9V2112.9M511.9 2130.0V2146.0M511.9 2163.1V2179.1M511.9 2196.2V2205.0M526.0 1964.5V1980.5M526.0 1997.6V2013.6M526.0 2030.7V2046.7M526.0 2063.8V2079.8M526.0 2096.9V2112.9M526.0 2130.0V2146.0M526.0 2163.1V2179.1M526.0 2196.2V2205.0M540.0 1964.5V1980.5M540.0 1997.6V2013.6M540.0 2030.7V2046.7M540.0 2063.8V2079.8M540.0 2096.9V2112.9M540.0 2130.0V2146.0M540.0 2163.1V2179.1M540.0 2196.2V2205.0M554.1 1964.5V1980.5M554.1 1997.6V2013.6M554.1 2030.7V2046.7M554.1 2063.8V2079.8M554.1 2096.9V2112.9M554.1 2130.0V2146.0M554.1 2163.1V2179.1M554.1 2196.2V2205.0M568.1 1964.5V1980.5M568.1 1997.6V2013.6M568.1 2030.7V2046.7M568.1 2063.8V2079.8M568.1 2096.9V2112.9M568.1 2130.0V2146.0M568.1 2163.1V2179.1M568.1 2196.2V2205.0M582.1 1964.5V1980.5M582.1 1997.6V2013.6M582.1 2030.7V2046.7M582.1 2063.8V2079.8M582.1 2096.9V2112.9M582.1 2130.0V2146.0M582.1 2163.1V2179.1M582.1 2196.2V2205.0M596.2 1964.5V1980.5M596.2 1997.6V2013.6M596.2 2030.7V2046.7M596.2 2063.8V2079.8M596.2 2096.9V2112.9M596.2 2130.0V2146.0M596.2 2163.1V2179.1M596.2 2196.2V2205.0M610.2 1964.5V1980.5M610.2 1997.6V2013.6M610.2 2030.7V2046.7M610.2 2063.8V2079.8M610.2 2096.9V2112.9M610.2 2130.0V2146.0M610.2 2163.1V2179.1M610.2 2196.2V2205.0M624.3 1964.5V1980.5M624.3 1997.6V2013.6M624.3 2030.7V2046.7M624.3 2063.8V2079.8M624.3 2096.9V2112.9M624.3 2130.0V2146.0M624.3 2163.1V2179.1M624.3 2196.2V2205.0M638.3 1964.5V1980.5M638.3 1997.6V2013.6M638.3 2030.7V2046.7M638.3 2063.8V2079.8M638.3 2096.9V2112.9M638.3 2130.0V2146.0M638.3 2163.1V2179.1M638.3 2196.2V2205.0M652.3 1964.5V1980.5M652.3 1997.6V2013.6M652.3 2030.7V2046.7M652.3 2063.8V2079.8M652.3 2096.9V2112.9M652.3 2130.0V2146.0M652.3 2163.1V2179.1M652.3 2196.2V2205.0M666.4 1964.5V1980.5M666.4 1997.6V2013.6M666.4 2030.7V2046.7M666.4 2063.8V2079.8M666.4 2096.9V2112.9M666.4 2130.0V2146.0M666.4 2163.1V2179.1M666.4 2196.2V2205.0M680.4 1964.5V1980.5M680.4 1997.6V2013.6M680.4 2030.7V2046.7M680.4 2063.8V2079.8M680.4 2096.9V2112.9M680.4 2130.0V2146.0M680.4 2163.1V2179.1M680.4 2196.2V2205.0M694.5 1964.5V1980.5M694.5 1997.6V2013.6M694.5 2030.7V2046.7M694.5 2063.8V2079.8M694.5 2096.9V2112.9M694.5 2130.0V2146.0M694.5 2163.1V2179.1M694.5 2196.2V2205.0M708.5 1964.5V1980.5M708.5 1997.6V2013.6M708.5 2030.7V2046.7M708.5 2063.8V2079.8M708.5 2096.9V2112.9M708.5 2130.0V2146.0M708.5 2163.1V2179.1M708.5 2196.2V2205.0M722.5 1964.5V1980.5M722.5 1997.6V2013.6M722.5 2030.7V2046.7M722.5 2063.8V2079.8M722.5 2096.9V2112.9M722.5 2130.0V2146.0M722.5 2163.1V2179.1M722.5 2196.2V2205.0M736.6 1964.5V1980.5M736.6 1997.6V2013.6M736.6 2030.7V2046.7M736.6 2063.8V2079.8M736.6 2096.9V2112.9M736.6 2130.0V2146.0M736.6 2163.1V2179.1M736.6 2196.2V2205.0M750.6 1964.5V1980.5M750.6 1997.6V2013.6M750.6 2030.7V2046.7M750.6 2063.8V2079.8M750.6 2096.9V2112.9M750.6 2130.0V2146.0M750.6 2163.1V2179.1M750.6 2196.2V2205.0M764.7 1964.5V1980.5M764.7 1997.6V2013.6M764.7 2030.7V2046.7M764.7 2063.8V2079.8M764.7 2096.9V2112.9M764.7 2130.0V2146.0M764.7 2163.1V2179.1M764.7 2196.2V2205.0M778.7 1964.5V1980.5M778.7 1997.6V2013.6M778.7 2030.7V2046.7M778.7 2063.8V2079.8M778.7 2096.9V2112.9M778.7 2130.0V2146.0M778.7 2163.1V2179.1M778.7 2196.2V2205.0M792.7 1964.5V1980.5M792.7 1997.6V2013.6M792.7 2030.7V2046.7M792.7 2063.8V2079.8M792.7 2096.9V2112.9M792.7 2130.0V2146.0M792.7 2163.1V2179.1M792.7 2196.2V2205.0M806.8 1964.5V1980.5M806.8 1997.6V2013.6M806.8 2030.7V2046.7M806.8 2063.8V2079.8M806.8 2096.9V2112.9M806.8 2130.0V2146.0M806.8 2163.1V2179.1M806.8 2196.2V2205.0M820.8 1964.5V1980.5M820.8 1997.6V2013.6M820.8 2030.7V2046.7M820.8 2063.8V2079.8M820.8 2096.9V2112.9M820.8 2130.0V2146.0M820.8 2163.1V2179.1M820.8 2196.2V2205.0M834.9 1964.5V1980.5M834.9 1997.6V2013.6M834.9 2030.7V2046.7M834.9 2063.8V2079.8M834.9 2096.9V2112.9M834.9 2130.0V2146.0M834.9 2163.1V2179.1M834.9 2196.2V2205.0M848.9 1964.5V1980.5M848.9 1997.6V2013.6M848.9 2030.7V2046.7M848.9 2063.8V2079.8M848.9 2096.9V2112.9M848.9 2130.0V2146.0M848.9 2163.1V2179.1M848.9 2196.2V2205.0M862.9 1964.5V1980.5M862.9 1997.6V2013.6M862.9 2030.7V2046.7M862.9 2063.8V2079.8M862.9 2096.9V2112.9M862.9 2130.0V2146.0M862.9 2163.1V2179.1M862.9 2196.2V2205.0M877.0 1964.5V1980.5M877.0 1997.6V2013.6M877.0 2030.7V2046.7M877.0 2063.8V2079.8M877.0 2096.9V2112.9M877.0 2130.0V2146.0M877.0 2163.1V2179.1M877.0 2196.2V2205.0M891.0 1964.5V1980.5M891.0 1997.6V2013.6M891.0 2030.7V2046.7M891.0 2063.8V2079.8M891.0 2096.9V2112.9M891.0 2130.0V2146.0M891.0 2163.1V2179.1M891.0 2196.2V2205.0M905.1 1964.5V1980.5M905.1 1997.6V2013.6M905.1 2030.7V2046.7M905.1 2063.8V2079.8M905.1 2096.9V2112.9M905.1 2130.0V2146.0M905.1 2163.1V2179.1M905.1 2196.2V2205.0M919.1 1964.5V1980.5M919.1 1997.6V2013.6M919.1 2030.7V2046.7M919.1 2063.8V2079.8M919.1 2096.9V2112.9M919.1 2130.0V2146.0M919.1 2163.1V2179.1M919.1 2196.2V2205.0M933.1 1964.5V1980.5M933.1 1997.6V2013.6M933.1 2030.7V2046.7M933.1 2063.8V2079.8M933.1 2096.9V2112.9M933.1 2130.0V2146.0M933.1 2163.1V2179.1M933.1 2196.2V2205.0" stroke="#eaebef" stroke-width="2.8" fill="none"/><rect x="0" y="2012.3" width="935" height="2.2" fill="#e6e8ee"/><rect x="0" y="2075.5" width="935" height="2.2" fill="#e6e8ee"/><rect x="0" y="2140.7" width="935" height="2.2" fill="#e6e8ee"/><rect x="934" y="1950" width="2" height="255" fill="#eceef2"/><path d="M10.3 2204.5V2184.2M19.6 2204.5V2183.8M22.7 2204.5V2195.1M32.0 2204.5V2182.9M35.1 2204.5V2180.9M41.3 2204.5V2182.7M47.5 2204.5V2189.3M50.6 2204.5V2178.7M53.7 2204.5V2191.2M66.1 2204.5V2127.5M72.3 2204.5V2187.7M75.4 2204.5V2189.6M78.5 2204.5V2181.9M97.1 2204.5V2191.8M100.2 2204.5V2195.7M103.3 2204.5V2186.1M109.5 2204.5V2181.1M112.6 2204.5V2180.3M121.9 2204.5V2185.9M125.0 2204.5V2196.4M131.2 2204.5V2186.1M134.3 2204.5V2183.8M140.5 2204.5V2191.9M146.7 2204.5V2196.0M149.8 2204.5V2186.5M156.0 2204.5V2184.3M162.2 2204.5V2170.5M174.6 2204.5V2190.3M183.9 2204.5V2194.3M187.0 2204.5V2194.7M199.4 2204.5V2195.2M202.5 2204.5V2186.3M208.7 2204.5V2183.2M211.8 2204.5V2192.2M214.9 2204.5V2145.5M218.0 2204.5V2186.8M221.1 2204.5V2181.9M227.3 2204.5V2187.6M233.5 2204.5V2154.5M236.6 2204.5V2189.1M239.7 2204.5V2188.2M242.8 2204.5V2178.2M245.9 2204.5V2170.9M249.0 2204.5V2175.2M252.1 2204.5V2129.5M255.2 2204.5V2168.4M258.3 2204.5V2193.2M261.4 2204.5V2179.7M267.6 2204.5V2173.2M270.7 2204.5V2185.1M273.8 2204.5V2186.0M292.4 2204.5V2160.5M298.6 2204.5V2188.2M314.1 2204.5V2180.8M320.3 2204.5V2172.9M323.4 2204.5V2181.3M326.5 2204.5V2181.4M332.7 2204.5V2183.0M335.8 2204.5V2177.7M345.1 2204.5V2185.8M348.2 2204.5V2180.5M357.5 2204.5V2187.9M360.6 2204.5V2180.5M363.7 2204.5V2184.4M373.0 2204.5V2195.0M379.2 2204.5V2192.2M382.3 2204.5V2190.2M385.4 2204.5V2184.5M394.7 2204.5V2196.2M397.8 2204.5V2193.7M428.8 2204.5V2186.7M431.9 2204.5V2187.4M444.3 2204.5V2192.8M450.5 2204.5V2187.3M453.6 2204.5V2171.5M456.7 2204.5V2183.9M466.0 2204.5V2193.8M469.1 2204.5V2191.1M472.2 2204.5V2194.6M487.7 2204.5V2171.5M503.2 2204.5V2199.4M515.6 2204.5V2192.9M521.8 2204.5V2190.6M524.9 2204.5V2192.3M528.0 2204.5V2194.9M531.1 2204.5V2195.2M540.4 2204.5V2192.1M543.5 2204.5V2192.9M546.6 2204.5V2189.6M552.8 2204.5V2199.7M555.9 2204.5V2195.1M562.1 2204.5V2198.0M565.2 2204.5V2200.7M568.3 2204.5V2199.6M571.4 2204.5V2193.2M574.5 2204.5V2192.7M577.6 2204.5V2193.6M583.8 2204.5V2192.4M590.0 2204.5V2195.7M593.1 2204.5V2144.5M611.7 2204.5V2174.3M624.1 2204.5V2178.2M627.2 2204.5V2195.7M636.5 2204.5V2189.0M639.6 2204.5V2190.5M642.7 2204.5V2186.6M648.9 2204.5V2187.0M652.0 2204.5V2194.9M655.1 2204.5V2189.5M661.3 2204.5V2193.3M664.4 2204.5V2187.7M670.6 2204.5V2195.5M673.7 2204.5V2195.6M676.8 2204.5V2164.5M679.9 2204.5V2192.4M683.0 2204.5V2183.6M689.2 2204.5V2177.4M701.6 2204.5V2188.5M723.3 2204.5V2178.9M726.4 2204.5V2178.9M732.6 2204.5V2179.0M760.5 2204.5V2188.3M763.6 2204.5V2184.1M766.7 2204.5V2195.3M769.8 2204.5V2193.9M776.0 2204.5V2188.7M782.2 2204.5V2198.2M788.4 2204.5V2186.7M797.7 2204.5V2146.5M803.9 2204.5V2169.8M816.3 2204.5V2175.0M822.5 2204.5V2185.9M828.7 2204.5V2171.0M841.1 2204.5V2170.5M850.4 2204.5V2185.4M859.7 2204.5V2193.4M865.9 2204.5V2194.0M872.1 2204.5V2188.3M878.3 2204.5V2189.8M881.4 2204.5V2181.8M884.5 2204.5V2186.9M887.6 2204.5V2187.2M893.8 2204.5V2193.0M900.0 2204.5V2190.0M906.2 2204.5V2161.8M909.3 2204.5V2065.5M915.5 2204.5V2109.5M921.7 2204.5V2113.6M924.8 2204.5V2146.1M931.0 2204.5V2154.5" stroke="#e0545e" stroke-width="2.3" fill="none"/><path d="M1.0 2204.5V2190.0M4.1 2204.5V2189.8M7.2 2204.5V2194.6M13.4 2204.5V2196.2M16.5 2204.5V2197.0M25.8 2204.5V2126.5M28.9 2204.5V2183.1M38.2 2204.5V2175.2M44.4 2204.5V2173.5M56.8 2204.5V2146.5M59.9 2204.5V2127.5M63.0 2204.5V2187.2M69.2 2204.5V2188.1M81.6 2204.5V2192.5M84.7 2204.5V2183.4M87.8 2204.5V2194.7M90.9 2204.5V2187.2M94.0 2204.5V2194.1M106.4 2204.5V2179.4M115.7 2204.5V2193.6M118.8 2204.5V2193.5M128.1 2204.5V2184.1M137.4 2204.5V2186.8M143.6 2204.5V2161.5M152.9 2204.5V2180.6M159.1 2204.5V2180.4M165.3 2204.5V2187.2M168.4 2204.5V2197.8M171.5 2204.5V2187.7M177.7 2204.5V2192.1M180.8 2204.5V2195.5M190.1 2204.5V2189.0M193.2 2204.5V2145.5M196.3 2204.5V2184.7M205.6 2204.5V2185.7M224.2 2204.5V2178.7M230.4 2204.5V2192.8M264.5 2204.5V2179.8M276.9 2204.5V2190.8M280.0 2204.5V2186.2M283.1 2204.5V2188.9M286.2 2204.5V2195.0M289.3 2204.5V2194.2M295.5 2204.5V2180.2M301.7 2204.5V2183.5M304.8 2204.5V2183.8M307.9 2204.5V2178.8M311.0 2204.5V2182.2M317.2 2204.5V2188.5M329.6 2204.5V2186.5M338.9 2204.5V2186.0M342.0 2204.5V2161.5M351.3 2204.5V2180.8M354.4 2204.5V2186.3M366.8 2204.5V2187.1M369.9 2204.5V2192.2M376.1 2204.5V2192.8M388.5 2204.5V2159.5M391.6 2204.5V2190.2M400.9 2204.5V2188.8M404.0 2204.5V2191.9M407.1 2204.5V2178.9M410.2 2204.5V2145.5M413.3 2204.5V2176.0M416.4 2204.5V2187.1M419.5 2204.5V2190.0M422.6 2204.5V2192.3M425.7 2204.5V2189.9M435.0 2204.5V2191.9M438.1 2204.5V2176.2M441.2 2204.5V2181.0M447.4 2204.5V2196.3M459.8 2204.5V2185.0M462.9 2204.5V2194.6M475.3 2204.5V2197.9M478.4 2204.5V2200.1M481.5 2204.5V2193.5M484.6 2204.5V2196.9M490.8 2204.5V2192.1M493.9 2204.5V2192.6M497.0 2204.5V2191.5M500.1 2204.5V2192.3M506.3 2204.5V2199.9M509.4 2204.5V2192.6M512.5 2204.5V2191.8M518.7 2204.5V2187.7M534.2 2204.5V2188.8M537.3 2204.5V2188.1M549.7 2204.5V2198.3M559.0 2204.5V2197.8M580.7 2204.5V2193.3M586.9 2204.5V2186.6M596.2 2204.5V2194.0M599.3 2204.5V2186.0M602.4 2204.5V2185.4M605.5 2204.5V2169.5M608.6 2204.5V2112.5M614.8 2204.5V2188.5M617.9 2204.5V2182.6M621.0 2204.5V2192.1M630.3 2204.5V2186.1M633.4 2204.5V2196.5M645.8 2204.5V2196.5M658.2 2204.5V2191.3M667.5 2204.5V2192.2M686.1 2204.5V2183.0M692.3 2204.5V2160.5M695.4 2204.5V2187.0M698.5 2204.5V2157.5M704.7 2204.5V2192.4M707.8 2204.5V2186.0M710.9 2204.5V2193.5M714.0 2204.5V2182.6M717.1 2204.5V2185.6M720.2 2204.5V2179.8M729.5 2204.5V2180.2M735.7 2204.5V2175.6M738.8 2204.5V2184.3M741.9 2204.5V2176.7M745.0 2204.5V2174.8M748.1 2204.5V2182.7M751.2 2204.5V2156.5M754.3 2204.5V2174.4M757.4 2204.5V2184.6M772.9 2204.5V2194.3M779.1 2204.5V2193.7M785.3 2204.5V2194.5M791.5 2204.5V2191.1M794.6 2204.5V2189.4M800.8 2204.5V2172.8M807.0 2204.5V2192.3M810.1 2204.5V2181.9M813.2 2204.5V2183.7M819.4 2204.5V2124.5M825.6 2204.5V2182.9M831.8 2204.5V2133.5M834.9 2204.5V2191.9M838.0 2204.5V2149.5M844.2 2204.5V2178.6M847.3 2204.5V2156.5M853.5 2204.5V2179.8M856.6 2204.5V2188.8M862.8 2204.5V2194.1M869.0 2204.5V2194.3M875.2 2204.5V2166.5M890.7 2204.5V2161.5M896.9 2204.5V2178.2M903.1 2204.5V2166.5M912.4 2204.5V2067.5M918.6 2204.5V2141.6M927.9 2204.5V2142.5" stroke="#3b7fdb" stroke-width="2.3" fill="none"/><path d="M923 1950V2204.5" stroke="#d9404b" stroke-width="1.6"/><path d="M1.0 2190.0L4.1 2190.0L7.2 2190.4L10.3 2189.8L13.4 2190.4L16.5 2191.1L19.6 2190.4L22.7 2190.8L25.8 2184.7L28.9 2184.5L32.0 2184.4L35.1 2184.0L38.2 2183.2L41.3 2183.2L44.4 2182.2L47.5 2182.9L50.6 2182.5L53.7 2183.3L56.8 2179.8L59.9 2174.8L63.0 2176.0L66.1 2171.4L69.2 2173.0L72.3 2174.4L75.4 2175.8L78.5 2176.4L81.6 2177.9L84.7 2178.5L87.8 2180.0L90.9 2180.7L94.0 2182.0L97.1 2182.9L100.2 2184.1L103.3 2184.3L106.4 2183.8L109.5 2183.6L112.6 2183.3L115.7 2184.2L118.8 2185.1L121.9 2185.2L125.0 2186.3L128.1 2186.1L131.2 2186.1L134.3 2185.8L137.4 2185.9L140.5 2186.5L143.6 2184.1L146.7 2185.2L149.8 2185.4L152.9 2184.9L156.0 2184.9L159.1 2184.4L162.2 2183.1L165.3 2183.5L168.4 2184.9L171.5 2185.1L174.6 2185.6L177.7 2186.2L180.8 2187.1L183.9 2187.8L187.0 2188.5L190.1 2188.5L193.2 2184.4L196.3 2184.4L199.4 2185.5L202.5 2185.5L205.6 2185.6L208.7 2185.3L211.8 2186.0L214.9 2182.1L218.0 2182.6L221.1 2182.5L224.2 2182.2L227.3 2182.7L230.4 2183.6L233.5 2180.9L236.6 2181.7L239.7 2182.3L242.8 2181.9L245.9 2180.8L249.0 2180.3L252.1 2175.5L255.2 2174.8L258.3 2176.5L261.4 2176.9L264.5 2177.1L267.6 2176.8L270.7 2177.6L273.8 2178.4L276.9 2179.5L280.0 2180.2L283.1 2181.0L286.2 2182.3L289.3 2183.5L292.4 2181.3L295.5 2181.2L298.6 2181.8L301.7 2182.0L304.8 2182.2L307.9 2181.9L311.0 2181.9L314.1 2181.8L317.2 2182.4L320.3 2181.5L323.4 2181.5L326.5 2181.5L329.6 2182.0L332.7 2182.1L335.8 2181.7L338.9 2182.1L342.0 2180.1L345.1 2180.6L348.2 2180.6L351.3 2180.6L354.4 2181.2L357.5 2181.8L360.6 2181.7L363.7 2182.0L366.8 2182.5L369.9 2183.4L373.0 2184.5L376.1 2185.3L379.2 2185.9L382.3 2186.4L385.4 2186.2L388.5 2183.6L391.6 2184.3L394.7 2185.4L397.8 2186.2L400.9 2186.4L404.0 2187.0L407.1 2186.2L410.2 2182.3L413.3 2181.7L416.4 2182.2L419.5 2183.0L422.6 2183.9L425.7 2184.4L428.8 2184.6L431.9 2184.9L435.0 2185.6L438.1 2184.7L441.2 2184.3L444.3 2185.1L447.4 2186.2L450.5 2186.3L453.6 2184.9L456.7 2184.8L459.8 2184.8L462.9 2185.8L466.0 2186.5L469.1 2187.0L472.2 2187.7L475.3 2188.7L478.4 2189.7L481.5 2190.1L484.6 2190.8L487.7 2188.9L490.8 2189.2L493.9 2189.5L497.0 2189.7L500.1 2190.0L503.2 2190.9L506.3 2191.7L509.4 2191.8L512.5 2191.8L515.6 2191.9L518.7 2191.5L521.8 2191.4L524.9 2191.5L528.0 2191.8L531.1 2192.1L534.2 2191.8L537.3 2191.5L540.4 2191.5L543.5 2191.7L546.6 2191.5L549.7 2192.1L552.8 2192.8L555.9 2193.1L559.0 2193.5L562.1 2193.9L565.2 2194.6L568.3 2195.1L571.4 2194.9L574.5 2194.7L577.6 2194.6L580.7 2194.5L583.8 2194.3L586.9 2193.5L590.0 2193.7L593.1 2189.1L596.2 2189.5L599.3 2189.2L602.4 2188.8L605.5 2187.0L608.6 2179.9L611.7 2179.4L614.8 2180.2L617.9 2180.5L621.0 2181.6L624.1 2181.2L627.2 2182.6L630.3 2182.9L633.4 2184.2L636.5 2184.7L639.6 2185.2L642.7 2185.4L645.8 2186.4L648.9 2186.5L652.0 2187.3L655.1 2187.5L658.2 2187.9L661.3 2188.4L664.4 2188.3L667.5 2188.7L670.6 2189.3L673.7 2189.9L676.8 2187.5L679.9 2188.0L683.0 2187.6L686.1 2187.1L689.2 2186.2L692.3 2183.8L695.4 2184.1L698.5 2181.5L701.6 2182.2L704.7 2183.2L707.8 2183.4L710.9 2184.4L714.0 2184.2L717.1 2184.4L720.2 2183.9L723.3 2183.5L726.4 2183.0L729.5 2182.7L732.6 2182.4L735.7 2181.7L738.8 2182.0L741.9 2181.5L745.0 2180.9L748.1 2181.0L751.2 2178.7L754.3 2178.3L757.4 2178.9L760.5 2179.8L763.6 2180.2L766.7 2181.6L769.8 2182.8L772.9 2183.9L776.0 2184.4L779.1 2185.2L782.2 2186.5L785.3 2187.2L788.4 2187.2L791.5 2187.6L794.6 2187.7L797.7 2183.8L800.8 2182.8L803.9 2181.5L807.0 2182.6L810.1 2182.5L813.2 2182.6L816.3 2181.9L819.4 2176.4L822.5 2177.3L825.6 2177.9L828.7 2177.2L831.8 2173.0L834.9 2174.8L838.0 2172.4L841.1 2172.2L844.2 2172.8L847.3 2171.3L850.4 2172.6L853.5 2173.3L856.6 2174.8L859.7 2176.6L862.8 2178.2L865.9 2179.7L869.0 2181.1L872.1 2181.8L875.2 2180.4L878.3 2181.2L881.4 2181.3L884.5 2181.8L887.6 2182.4L890.7 2180.4L893.8 2181.6L896.9 2181.3L900.0 2182.1L903.1 2180.6L906.2 2178.8L909.3 2168.0L912.4 2158.4L915.5 2153.8L918.6 2152.6L921.7 2148.9L924.8 2148.6L927.9 2148.1L931.0 2148.7" stroke="#e89a12" stroke-width="2.1" fill="none" stroke-linejoin="round"/><path d="M1.0 2190.0L4.1 2190.0L7.2 2190.8L10.3 2189.6L13.4 2190.8L16.5 2191.9L19.6 2190.5L22.7 2191.3L25.8 2179.5L28.9 2180.2L32.0 2180.7L35.1 2180.7L38.2 2179.7L41.3 2180.2L44.4 2179.0L47.5 2180.9L50.6 2180.5L53.7 2182.4L56.8 2175.9L59.9 2167.1L63.0 2170.7L66.1 2162.9L69.2 2167.5L72.3 2171.1L75.4 2174.5L78.5 2175.8L81.6 2178.9L84.7 2179.7L87.8 2182.4L90.9 2183.3L94.0 2185.2L97.1 2186.4L100.2 2188.1L103.3 2187.7L106.4 2186.2L109.5 2185.3L112.6 2184.4L115.7 2186.1L118.8 2187.4L121.9 2187.1L125.0 2188.8L128.1 2188.0L131.2 2187.6L134.3 2186.9L137.4 2186.9L140.5 2187.8L143.6 2183.0L146.7 2185.4L149.8 2185.6L152.9 2184.7L156.0 2184.6L159.1 2183.8L162.2 2181.4L165.3 2182.5L168.4 2185.3L171.5 2185.7L174.6 2186.5L177.7 2187.5L180.8 2189.0L183.9 2190.0L187.0 2190.8L190.1 2190.5L193.2 2182.3L196.3 2182.7L199.4 2185.0L202.5 2185.2L205.6 2185.3L208.7 2184.9L211.8 2186.3L214.9 2178.9L218.0 2180.3L221.1 2180.6L224.2 2180.3L227.3 2181.6L230.4 2183.6L233.5 2178.3L236.6 2180.3L239.7 2181.7L242.8 2181.1L245.9 2179.2L249.0 2178.5L252.1 2169.6L255.2 2169.4L258.3 2173.7L261.4 2174.8L264.5 2175.7L267.6 2175.3L270.7 2177.0L273.8 2178.7L276.9 2180.9L280.0 2181.8L283.1 2183.1L286.2 2185.3L289.3 2186.9L292.4 2182.1L295.5 2181.8L298.6 2182.9L301.7 2183.0L304.8 2183.2L307.9 2182.4L311.0 2182.3L314.1 2182.1L317.2 2183.2L320.3 2181.3L323.4 2181.3L326.5 2181.4L329.6 2182.3L332.7 2182.4L335.8 2181.6L338.9 2182.4L342.0 2178.6L345.1 2179.9L348.2 2180.0L351.3 2180.1L354.4 2181.3L357.5 2182.5L360.6 2182.1L363.7 2182.5L366.8 2183.4L369.9 2185.0L373.0 2186.8L376.1 2187.9L379.2 2188.7L382.3 2189.0L385.4 2188.2L388.5 2182.9L391.6 2184.3L394.7 2186.4L397.8 2187.8L400.9 2187.9L404.0 2188.7L407.1 2186.9L410.2 2179.4L413.3 2178.7L416.4 2180.3L419.5 2182.0L422.6 2183.9L425.7 2185.0L428.8 2185.3L431.9 2185.7L435.0 2186.8L438.1 2184.9L441.2 2184.2L444.3 2185.7L447.4 2187.7L450.5 2187.6L453.6 2184.7L456.7 2184.5L459.8 2184.6L462.9 2186.4L466.0 2187.8L469.1 2188.4L472.2 2189.5L475.3 2191.0L478.4 2192.7L481.5 2192.8L484.6 2193.6L487.7 2189.6L490.8 2190.0L493.9 2190.5L497.0 2190.7L500.1 2191.0L503.2 2192.5L506.3 2193.8L509.4 2193.6L512.5 2193.3L515.6 2193.2L518.7 2192.2L521.8 2191.9L524.9 2192.0L528.0 2192.5L531.1 2193.0L534.2 2192.2L537.3 2191.5L540.4 2191.6L543.5 2191.8L546.6 2191.4L549.7 2192.7L552.8 2193.9L555.9 2194.2L559.0 2194.8L562.1 2195.4L565.2 2196.4L568.3 2197.0L571.4 2196.3L574.5 2195.6L577.6 2195.3L580.7 2194.9L583.8 2194.5L586.9 2193.0L590.0 2193.5L593.1 2184.6L596.2 2186.3L599.3 2186.2L602.4 2186.1L605.5 2183.1L608.6 2170.2L611.7 2171.0L614.8 2174.2L617.9 2175.7L621.0 2178.7L624.1 2178.6L627.2 2181.7L630.3 2182.5L633.4 2185.0L636.5 2185.8L639.6 2186.6L642.7 2186.6L645.8 2188.4L648.9 2188.2L652.0 2189.4L655.1 2189.4L658.2 2189.8L661.3 2190.4L664.4 2189.9L667.5 2190.3L670.6 2191.3L673.7 2192.1L676.8 2187.0L679.9 2188.0L683.0 2187.2L686.1 2186.4L689.2 2184.8L692.3 2180.4L695.4 2181.6L698.5 2177.2L701.6 2179.3L704.7 2181.7L707.8 2182.4L710.9 2184.5L714.0 2184.1L717.1 2184.4L720.2 2183.6L723.3 2182.7L726.4 2182.0L729.5 2181.7L732.6 2181.2L735.7 2180.2L738.8 2180.9L741.9 2180.2L745.0 2179.2L748.1 2179.8L751.2 2175.6L754.3 2175.4L757.4 2177.1L760.5 2179.1L763.6 2180.0L766.7 2182.8L769.8 2184.8L772.9 2186.5L776.0 2186.9L779.1 2188.2L782.2 2190.0L785.3 2190.8L788.4 2190.1L791.5 2190.2L794.6 2190.1L797.7 2182.2L800.8 2180.5L803.9 2178.5L807.0 2181.0L810.1 2181.2L813.2 2181.7L816.3 2180.5L819.4 2170.3L822.5 2173.1L825.6 2174.9L828.7 2174.2L831.8 2166.8L834.9 2171.3L838.0 2167.4L841.1 2167.9L844.2 2169.9L847.3 2167.5L850.4 2170.7L853.5 2172.4L856.6 2175.4L859.7 2178.6L862.8 2181.5L865.9 2183.7L869.0 2185.7L872.1 2186.1L875.2 2182.6L878.3 2183.9L881.4 2183.5L884.5 2184.1L887.6 2184.7L890.7 2180.5L893.8 2182.7L896.9 2181.9L900.0 2183.4L903.1 2180.3L906.2 2177.0L909.3 2156.7L912.4 2140.5L915.5 2134.8L918.6 2136.1L921.7 2132.0L924.8 2134.5L927.9 2136.0L931.0 2139.4" stroke="#1b1fa3" stroke-width="2.3" fill="none" stroke-linejoin="round"/><path d="M1.0 2190.0L4.1 2189.9L7.2 2191.5L10.3 2189.1L13.4 2191.4L16.5 2193.3L19.6 2190.1L22.7 2191.8L25.8 2170.0L28.9 2174.4L32.0 2177.2L35.1 2178.4L38.2 2177.3L41.3 2179.1L44.4 2177.2L47.5 2181.3L50.6 2180.4L53.7 2184.0L56.8 2171.5L59.9 2156.8L63.0 2166.9L66.1 2153.8L69.2 2165.2L72.3 2172.7L75.4 2178.4L78.5 2179.5L81.6 2183.8L84.7 2183.7L87.8 2187.4L90.9 2187.3L94.0 2189.6L97.1 2190.3L100.2 2192.1L103.3 2190.1L106.4 2186.5L109.5 2184.7L112.6 2183.2L115.7 2186.7L118.8 2188.9L121.9 2187.9L125.0 2190.8L128.1 2188.5L131.2 2187.7L134.3 2186.4L137.4 2186.5L140.5 2188.3L143.6 2179.4L146.7 2184.9L149.8 2185.4L152.9 2183.8L156.0 2184.0L159.1 2182.8L162.2 2178.7L165.3 2181.5L168.4 2187.0L171.5 2187.2L174.6 2188.2L177.7 2189.5L180.8 2191.5L183.9 2192.5L187.0 2193.2L190.1 2191.8L193.2 2176.4L196.3 2179.1L199.4 2184.5L202.5 2185.1L205.6 2185.3L208.7 2184.6L211.8 2187.1L214.9 2173.3L218.0 2177.8L221.1 2179.2L224.2 2179.0L227.3 2181.9L230.4 2185.5L233.5 2175.2L236.6 2179.8L239.7 2182.6L242.8 2181.1L245.9 2177.7L249.0 2176.9L252.1 2161.1L255.2 2163.5L258.3 2173.4L261.4 2175.5L264.5 2177.0L267.6 2175.7L270.7 2178.8L273.8 2181.2L276.9 2184.4L280.0 2185.0L283.1 2186.3L286.2 2189.2L289.3 2190.9L292.4 2180.7L295.5 2180.6L298.6 2183.1L301.7 2183.2L304.8 2183.4L307.9 2181.9L311.0 2182.0L314.1 2181.6L317.2 2183.9L320.3 2180.2L323.4 2180.6L326.5 2180.9L329.6 2182.8L332.7 2182.8L335.8 2181.1L338.9 2182.7L342.0 2175.7L345.1 2179.0L348.2 2179.5L351.3 2180.0L354.4 2182.1L357.5 2184.0L360.6 2182.8L363.7 2183.4L366.8 2184.6L369.9 2187.2L373.0 2189.8L376.1 2190.8L379.2 2191.3L382.3 2190.9L385.4 2188.8L388.5 2179.0L391.6 2182.8L394.7 2187.2L397.8 2189.4L400.9 2189.2L404.0 2190.1L407.1 2186.4L410.2 2172.7L413.3 2173.8L416.4 2178.3L419.5 2182.2L422.6 2185.5L425.7 2187.0L428.8 2186.9L431.9 2187.1L435.0 2188.7L438.1 2184.5L441.2 2183.3L444.3 2186.5L447.4 2189.8L450.5 2188.9L453.6 2183.1L456.7 2183.4L459.8 2183.9L462.9 2187.5L466.0 2189.6L469.1 2190.1L472.2 2191.6L475.3 2193.7L478.4 2195.8L481.5 2195.1L484.6 2195.7L487.7 2187.6L490.8 2189.1L493.9 2190.3L497.0 2190.7L500.1 2191.2L503.2 2193.9L506.3 2195.9L509.4 2194.8L512.5 2193.8L515.6 2193.5L518.7 2191.6L521.8 2191.2L524.9 2191.6L528.0 2192.7L531.1 2193.5L534.2 2192.0L537.3 2190.7L540.4 2191.1L543.5 2191.7L546.6 2191.0L549.7 2193.4L552.8 2195.5L555.9 2195.4L559.0 2196.2L562.1 2196.8L565.2 2198.1L568.3 2198.6L571.4 2196.8L574.5 2195.4L577.6 2194.8L580.7 2194.3L583.8 2193.7L586.9 2191.3L590.0 2192.8L593.1 2176.7L596.2 2182.5L599.3 2183.6L602.4 2184.2L605.5 2179.3L608.6 2157.0L611.7 2162.8L614.8 2171.4L617.9 2175.1L621.0 2180.8L624.1 2179.9L627.2 2185.2L630.3 2185.5L633.4 2189.1L636.5 2189.1L639.6 2189.5L642.7 2188.6L645.8 2191.2L648.9 2189.8L652.0 2191.5L655.1 2190.8L658.2 2191.0L661.3 2191.8L664.4 2190.4L667.5 2191.0L670.6 2192.5L673.7 2193.5L676.8 2183.9L679.9 2186.7L683.0 2185.7L686.1 2184.8L689.2 2182.3L692.3 2175.1L695.4 2179.0L698.5 2171.9L701.6 2177.4L704.7 2182.4L707.8 2183.6L710.9 2186.9L714.0 2185.5L717.1 2185.5L720.2 2183.6L723.3 2182.1L726.4 2181.0L729.5 2180.7L732.6 2180.2L735.7 2178.6L738.8 2180.5L741.9 2179.3L745.0 2177.8L748.1 2179.4L751.2 2171.8L754.3 2172.7L757.4 2176.6L760.5 2180.5L763.6 2181.7L766.7 2186.2L769.8 2188.8L772.9 2190.6L776.0 2190.0L779.1 2191.2L782.2 2193.6L785.3 2193.9L788.4 2191.5L791.5 2191.3L794.6 2190.7L797.7 2176.0L800.8 2174.9L803.9 2173.2L807.0 2179.6L810.1 2180.4L813.2 2181.5L816.3 2179.3L819.4 2161.1L822.5 2169.3L825.6 2173.8L828.7 2172.9L831.8 2159.8L834.9 2170.5L838.0 2163.5L841.1 2165.8L844.2 2170.1L847.3 2165.6L850.4 2172.2L853.5 2174.7L856.6 2179.4L859.7 2184.1L862.8 2187.4L865.9 2189.6L869.0 2191.2L872.1 2190.2L875.2 2182.3L878.3 2184.8L881.4 2183.8L884.5 2184.8L887.6 2185.6L890.7 2177.6L893.8 2182.7L896.9 2181.2L900.0 2184.1L903.1 2178.3L906.2 2172.8L909.3 2137.0L912.4 2113.8L915.5 2112.4L918.6 2122.1L921.7 2119.3L924.8 2128.2L927.9 2133.0L931.0 2140.2" stroke="#d11fc4" stroke-width="2.0" fill="none" stroke-linejoin="round"/><rect x="0" y="817" width="457" height="35" fill="#fff"/><text x="5" y="846.5" font-size="28" fill="#444">지수</text><text x="61" y="846.5" font-size="28" fill="#444" textLength="41">MA</text><rect x="107.5" y="823.5" width="12.5" height="26.5" fill="#1fd760"/><text x="127.5" y="846.5" font-size="28" fill="#444">5</text><rect x="148.5" y="823.5" width="12.5" height="26.5" fill="#7a10be"/><text x="168.5" y="846.5" font-size="28" fill="#444">12</text><rect x="204" y="823.5" width="12.5" height="26.5" fill="#ec9b0d"/><text x="223.5" y="846.5" font-size="28" fill="#444">20</text><rect x="260" y="823.5" width="12.5" height="26.5" fill="#fc3b07"/><text x="280" y="846.5" font-size="28" fill="#444">60</text><rect x="316" y="823.5" width="12.5" height="26.5" fill="#1ad4da"/><text x="336" y="846.5" font-size="28" fill="#444">120</text><rect x="387.5" y="823.5" width="12.5" height="26.5" fill="#041208"/><text x="407.5" y="846.5" font-size="28" fill="#444">200</text><rect x="0" y="1697" width="199" height="33" fill="#fff"/><text x="6" y="1723" font-size="28" fill="#444">RSI</text><rect x="52" y="1700.8" width="14" height="27" fill="#e62a1c"/><text x="72.5" y="1723" font-size="28" fill="#444">14</text><text x="108" y="1723" font-size="28" fill="#444">신호</text><rect x="161" y="1700.8" width="14" height="27" fill="#1c2aa8"/><text x="180" y="1723" font-size="28" fill="#444">9</text><rect x="0" y="1952" width="334" height="33" fill="#fff"/><text x="6" y="1980" font-size="27" fill="#444" textLength="71" lengthAdjust="spacingAndGlyphs">거래량</text><text x="83" y="1980" font-size="27" fill="#444" textLength="46" lengthAdjust="spacingAndGlyphs">지수</text><text x="137.5" y="1980" font-size="28" fill="#444">MA</text><rect x="186" y="1955" width="12.5" height="27" fill="#d11fc4"/><text x="205" y="1980" font-size="28" fill="#444">5</text><rect x="226" y="1955" width="12.5" height="27" fill="#1b1fa3"/><text x="245" y="1980" font-size="28" fill="#444">10</text><rect x="282.5" y="1955" width="12.5" height="27" fill="#e89a12"/><text x="301" y="1980" font-size="28" fill="#444">20</text><rect x="0" y="2204.5" width="1080" height="1.5" fill="#e6e6e6"/><text x="943.5" y="2022.5" font-size="26" fill="#333" textLength="128">25,987.397</text><text x="943.5" y="2086.7" font-size="26" fill="#333" textLength="128">17,324.942</text><text x="943" y="2150.5" font-size="26" fill="#333">8,662.471</text><rect x="940" y="2114" width="140" height="36.8" fill="#e05862" opacity="0.93"/><text x="943.5" y="2140.6" font-size="27" fill="#fff" textLength="121">9,882.269</text><filter id="glow" x="-50%" y="-50%" width="200%" height="200%"><feGaussianBlur stdDeviation="9"/></filter><filter id="glow2" x="-50%" y="-50%" width="200%" height="200%"><feGaussianBlur stdDeviation="1.6"/></filter><line x1="48" y1="2064" x2="166" y2="1818" stroke="#7fe9e0" stroke-width="34" stroke-linecap="round" opacity="0.45" filter="url(#glow)"/><line x1="48" y1="2064" x2="166" y2="1818" stroke="#6fe6da" stroke-width="12" stroke-linecap="round" opacity="0.75" filter="url(#glow2)"/><line x1="300" y1="2147" x2="478" y2="1800" stroke="#7fe9e0" stroke-width="34" stroke-linecap="round" opacity="0.45" filter="url(#glow)"/><line x1="300" y1="2147" x2="478" y2="1800" stroke="#6fe6da" stroke-width="12" stroke-linecap="round" opacity="0.75" filter="url(#glow2)"/><line x1="409" y1="2095" x2="557" y2="1764" stroke="#7fe9e0" stroke-width="34" stroke-linecap="round" opacity="0.45" filter="url(#glow)"/><line x1="409" y1="2095" x2="557" y2="1764" stroke="#6fe6da" stroke-width="12" stroke-linecap="round" opacity="0.75" filter="url(#glow2)"/><line x1="709" y1="1964" x2="836" y2="1725" stroke="#7fe9e0" stroke-width="34" stroke-linecap="round" opacity="0.45" filter="url(#glow)"/><line x1="709" y1="1964" x2="836" y2="1725" stroke="#6fe6da" stroke-width="12" stroke-linecap="round" opacity="0.75" filter="url(#glow2)"/><line x1="818" y1="2056" x2="962" y2="1812" stroke="#7fe9e0" stroke-width="34" stroke-linecap="round" opacity="0.45" filter="url(#glow)"/><line x1="818" y1="2056" x2="962" y2="1812" stroke="#6fe6da" stroke-width="12" stroke-linecap="round" opacity="0.75" filter="url(#glow2)"/></svg>

<!-- nav bar -->
<svg class="a" style="left:0;top:2230px" width="1080" height="110" viewBox="0 2230 1080 110" fill="none" stroke="#8c8c8c" stroke-width="4" stroke-linecap="round" stroke-linejoin="round">
<path d="M249 2252L226 2272l23 20"/>
<rect x="519" y="2252" width="42" height="41" rx="14"/>
<path d="M825 2253v39M843 2253v39M861 2253v39"/>
</svg>
</body></html>
